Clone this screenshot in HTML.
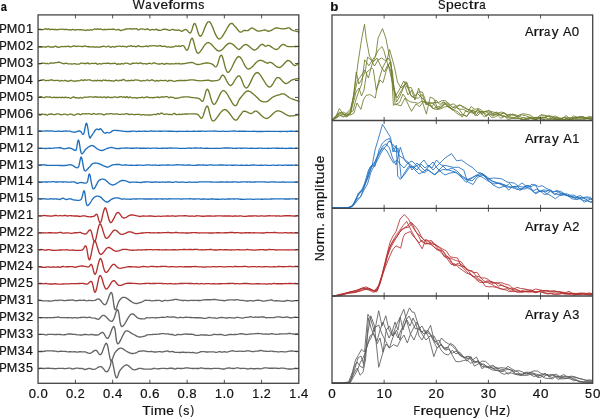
<!DOCTYPE html>
<html><head><meta charset="utf-8"><style>
html,body{margin:0;padding:0;background:#fff;width:600px;height:418px;overflow:hidden;}
svg{display:block;font-family:"Liberation Sans",sans-serif;will-change:transform;}
</style></head><body>
<svg width="600" height="418" viewBox="0 0 600 418">
<rect width="600" height="418" fill="#fff"/>
<g fill="none" stroke-width="1.35" stroke-linejoin="round" stroke-linecap="round">
<path stroke="#6f7b2b" d="M38.8 29.2 L39.4 29.2 L40.2 29.3 L40.9 29.4 L41.6 29.6 L42.3 29.6 L43.0 29.5 L43.7 29.3 L44.4 29.2 L45.1 28.8 L45.8 28.7 L46.5 29.1 L47.2 29.5 L47.9 29.1 L48.6 28.8 L49.3 29.2 L50.0 29.7 L50.7 29.5 L51.4 29.3 L52.1 29.2 L52.8 29.3 L53.5 29.5 L54.2 29.7 L54.9 29.5 L55.6 29.3 L56.3 29.6 L57.0 29.9 L57.7 29.7 L58.4 29.5 L59.1 29.4 L59.8 29.4 L60.5 29.3 L61.2 29.2 L61.9 29.1 L62.6 29.1 L63.3 29.3 L64.0 29.5 L64.7 29.5 L65.4 29.5 L66.1 29.4 L66.8 29.3 L67.5 29.6 L68.2 29.9 L68.9 29.8 L69.6 29.6 L70.3 29.8 L71.0 30.0 L71.7 29.8 L72.4 29.5 L73.1 29.5 L73.8 29.6 L74.5 29.9 L75.2 30.2 L75.9 29.9 L76.6 29.7 L77.3 29.6 L78.0 29.6 L78.7 29.6 L79.4 29.7 L80.1 29.7 L80.8 29.7 L81.5 29.9 L82.2 30.0 L82.9 29.9 L83.6 29.9 L84.3 30.2 L85.0 30.5 L85.7 30.4 L86.4 30.2 L87.1 30.0 L87.8 29.9 L88.5 30.1 L89.2 30.3 L89.9 30.0 L90.6 29.7 L91.3 29.9 L92.0 30.0 L92.7 29.8 L93.4 29.5 L94.1 29.2 L94.8 29.0 L95.5 29.2 L96.2 29.4 L96.9 29.1 L97.6 28.8 L98.3 29.1 L99.0 29.5 L99.7 29.2 L100.4 28.9 L101.1 29.2 L101.8 29.5 L102.5 29.7 L103.2 29.8 L103.9 29.5 L104.6 29.3 L105.3 29.5 L106.0 29.7 L106.7 29.6 L107.4 29.3 L108.1 29.3 L108.8 29.2 L109.5 29.3 L110.2 29.4 L110.9 29.3 L111.6 29.3 L112.3 29.2 L113.0 29.2 L113.7 29.2 L114.4 29.3 L115.1 29.6 L115.8 29.8 L116.5 29.8 L117.2 29.8 L117.9 29.5 L118.6 29.3 L119.3 29.8 L120.0 30.3 L120.7 30.5 L121.4 30.5 L122.1 30.2 L122.8 29.9 L123.5 29.9 L124.2 29.8 L124.9 29.4 L125.6 29.0 L126.3 28.9 L127.0 29.0 L127.7 28.9 L128.4 28.8 L129.1 28.8 L129.8 28.7 L130.5 28.7 L131.2 28.8 L131.9 29.0 L132.6 29.2 L133.3 29.0 L134.0 28.7 L134.7 28.8 L135.4 28.9 L136.1 28.7 L136.8 28.7 L137.5 29.3 L138.2 29.9 L138.9 29.8 L139.6 29.4 L140.3 29.1 L141.0 28.9 L141.7 28.9 L142.4 29.0 L143.1 29.1 L143.8 29.2 L144.5 29.5 L145.2 29.7 L145.9 29.4 L146.6 29.0 L147.3 28.9 L148.0 29.0 L148.7 29.5 L149.4 30.0 L150.1 30.1 L150.8 30.0 L151.5 29.7 L152.2 29.5 L152.9 29.6 L153.6 29.7 L154.3 29.8 L155.0 29.8 L155.7 29.4 L156.4 29.2 L157.1 29.6 L157.8 30.2 L158.5 30.2 L159.2 30.2 L159.9 30.3 L160.6 30.3 L161.3 30.1 L162.0 29.8 L162.7 29.5 L163.4 29.2 L164.1 29.2 L164.8 29.2 L165.5 29.4 L166.2 29.5 L166.9 29.5 L167.6 29.6 L168.3 30.1 L169.0 30.4 L169.7 30.3 L170.4 30.0 L171.1 29.8 L171.8 29.6 L172.5 29.4 L173.2 29.4 L173.9 29.8 L174.6 30.2 L175.3 30.1 L176.0 29.9 L176.7 30.1 L177.4 30.3 L178.2 30.1 L178.8 29.8 L180.0 30.5 L180.1 30.6 L180.3 30.7 L180.5 30.8 L180.8 31.0 L181.0 31.1 L181.3 31.2 L181.6 31.2 L182.0 31.2 L182.4 31.1 L182.8 30.8 L183.3 30.5 L183.8 30.2 L184.4 29.9 L184.9 29.6 L185.5 29.5 L186.0 29.5 L186.5 29.8 L187.1 30.3 L187.7 30.9 L188.2 31.6 L188.8 32.3 L189.4 32.7 L189.9 33.0 L190.5 32.8 L191.0 32.1 L191.6 30.8 L192.1 29.3 L192.6 27.6 L193.1 25.9 L193.6 24.6 L194.2 23.7 L194.8 23.5 L195.4 24.2 L196.1 25.8 L196.7 27.9 L197.4 30.2 L198.1 32.6 L198.8 34.5 L199.6 35.9 L200.5 36.3 L201.4 35.5 L202.4 33.8 L203.4 31.4 L204.5 28.6 L205.6 25.9 L206.7 23.6 L207.8 22.0 L209.0 21.5 L210.2 22.4 L211.4 24.4 L212.6 27.1 L213.8 30.3 L215.1 33.4 L216.4 36.2 L217.7 38.1 L219.0 39.0 L220.4 38.6 L221.8 37.1 L223.3 35.0 L224.8 32.4 L226.3 29.8 L227.6 27.3 L228.9 25.3 L230.0 24.0 L230.9 23.5 L231.7 23.3 L232.3 23.5 L232.9 24.0 L233.4 24.6 L233.9 25.3 L234.4 25.9 L235.0 26.5 L235.6 27.1 L236.3 27.8 L236.9 28.7 L237.6 29.5 L238.2 30.3 L238.8 31.0 L239.4 31.6 L240.0 32.0 L240.5 32.1 L241.1 32.1 L241.6 31.9 L242.1 31.6 L242.5 31.3 L243.0 30.9 L243.5 30.7 L244.0 30.5 L244.5 30.4 L245.0 30.5 L245.5 30.5 L246.0 30.6 L246.5 30.6 L247.0 30.6 L247.5 30.6 L248.0 30.5 L248.5 30.3 L249.0 29.9 L249.4 29.5 L249.9 29.1 L250.4 28.6 L250.9 28.3 L251.4 28.1 L252.0 28.0 L252.6 28.1 L253.3 28.5 L254.1 28.9 L254.8 29.4 L255.6 29.9 L256.4 30.4 L257.2 30.8 L258.0 31.0 L258.9 31.1 L259.8 31.0 L260.7 30.8 L261.7 30.6 L262.6 30.4 L263.5 30.2 L264.3 30.0 L265.0 30.0 L265.6 30.1 L266.0 30.2 L266.4 30.4 L266.8 30.6 L267.1 30.8 L267.3 31.0 L267.7 31.1 L268.0 31.2 L268.4 31.2 L268.7 31.2 L269.0 31.2 L269.4 31.1 L269.7 31.0 L270.1 30.8 L270.5 30.7 L271.0 30.5 L271.5 30.3 L272.1 29.9 L272.7 29.5 L273.3 29.2 L274.0 28.8 L274.6 28.4 L275.3 28.2 L276.0 28.0 L276.7 27.9 L277.5 28.0 L278.3 28.1 L279.1 28.3 L279.9 28.4 L280.6 28.6 L281.3 28.7 L282.0 28.8 L282.6 28.8 L283.2 28.8 L283.7 28.8 L284.2 28.7 L284.7 28.7 L285.1 28.6 L285.6 28.6 L286.0 28.5 L286.4 28.4 L286.8 28.3 L287.2 28.1 L287.6 28.0 L287.9 27.9 L288.3 27.8 L288.6 27.8 L289.0 27.8 L289.3 27.9 L289.7 28.2 L290.0 28.4 L290.3 28.7 L290.6 29.1 L291.0 29.4 L291.4 29.7 L292.0 30.0 L292.7 30.3 L293.6 30.6 L294.6 30.9 L295.6 31.1 L296.6 31.4 L297.5 31.6 L298.2 31.8 L298.8 32.0"/>
<path stroke="#6f7b2b" d="M38.8 47.2 L39.4 47.1 L40.2 47.0 L40.9 47.0 L41.6 47.0 L42.3 47.0 L43.0 46.9 L43.7 46.8 L44.4 46.8 L45.1 47.0 L45.8 47.2 L46.5 46.9 L47.2 46.6 L47.9 46.3 L48.6 46.3 L49.3 46.7 L50.0 47.2 L50.7 47.1 L51.4 46.9 L52.1 47.0 L52.8 47.0 L53.5 47.0 L54.2 46.8 L54.9 46.3 L55.6 46.0 L56.3 46.4 L57.0 47.0 L57.7 47.2 L58.4 47.2 L59.1 47.2 L59.8 47.1 L60.5 46.8 L61.2 46.6 L61.9 46.5 L62.6 46.5 L63.3 46.6 L64.0 46.6 L64.7 46.5 L65.4 46.3 L66.1 46.5 L66.8 46.6 L67.5 46.4 L68.2 46.2 L68.9 46.4 L69.6 46.8 L70.3 46.8 L71.0 46.8 L71.7 46.6 L72.4 46.4 L73.1 46.2 L73.8 46.0 L74.5 46.0 L75.2 46.2 L75.9 46.4 L76.6 46.5 L77.3 46.3 L78.0 46.1 L78.7 46.2 L79.4 46.4 L80.1 46.3 L80.8 46.3 L81.5 46.5 L82.2 46.7 L82.9 46.5 L83.6 46.3 L84.3 46.0 L85.0 45.9 L85.7 46.1 L86.4 46.4 L87.1 46.6 L87.8 46.7 L88.5 46.7 L89.2 46.7 L89.9 46.7 L90.6 46.8 L91.3 46.9 L92.0 47.0 L92.7 46.8 L93.4 46.7 L94.1 46.9 L94.8 47.1 L95.5 47.2 L96.2 47.2 L96.9 46.9 L97.6 46.8 L98.3 47.1 L99.0 47.4 L99.7 47.1 L100.4 46.8 L101.1 46.7 L101.8 46.7 L102.5 46.5 L103.2 46.2 L103.9 46.3 L104.6 46.4 L105.3 46.7 L106.0 46.9 L106.7 46.8 L107.4 46.5 L108.1 46.2 L108.8 46.1 L109.5 46.7 L110.2 47.2 L110.9 47.2 L111.6 47.0 L112.3 46.7 L113.0 46.5 L113.7 46.8 L114.4 47.2 L115.1 46.9 L115.8 46.5 L116.5 46.5 L117.2 46.4 L117.9 46.3 L118.6 46.2 L119.3 46.1 L120.0 46.1 L120.7 46.4 L121.4 46.6 L122.1 46.4 L122.8 46.2 L123.5 46.3 L124.2 46.5 L124.9 46.6 L125.6 46.7 L126.3 46.9 L127.0 47.0 L127.7 46.5 L128.4 46.1 L129.1 46.2 L129.8 46.4 L130.5 46.0 L131.2 45.7 L131.9 46.1 L132.6 46.5 L133.3 46.4 L134.0 46.2 L134.7 46.4 L135.4 46.7 L136.1 46.7 L136.8 46.6 L137.5 46.1 L138.2 45.7 L138.9 45.9 L139.6 46.3 L140.3 46.5 L141.0 46.6 L141.7 46.7 L142.4 46.6 L143.1 46.6 L143.8 46.5 L144.5 46.4 L145.2 46.3 L145.9 46.1 L146.6 45.9 L147.3 46.3 L148.0 46.7 L148.7 46.3 L149.4 45.8 L150.1 45.9 L150.8 46.0 L151.5 45.9 L152.2 45.8 L152.9 45.7 L153.6 45.6 L154.3 45.7 L155.0 45.8 L155.7 45.9 L156.4 46.0 L157.1 46.1 L157.8 46.0 L158.5 45.9 L159.2 45.8 L159.9 45.7 L160.6 45.7 L161.3 46.1 L162.0 46.5 L162.7 46.4 L163.4 46.3 L164.1 46.2 L164.8 46.2 L165.5 46.5 L166.2 46.7 L166.9 47.0 L167.6 47.1 L168.3 46.9 L169.0 46.7 L169.7 47.0 L170.4 47.3 L171.1 47.2 L171.8 47.0 L172.5 47.0 L173.2 46.9 L173.9 46.8 L174.6 46.5 L175.3 46.2 L176.0 46.0 L176.7 46.2 L177.4 46.4 L178.2 46.1 L178.8 45.8 L180.0 46.5 L180.3 46.4 L180.6 46.3 L181.0 46.1 L181.5 45.9 L182.0 45.7 L182.5 45.6 L183.0 45.7 L183.5 45.8 L184.0 46.2 L184.4 46.9 L184.9 47.7 L185.4 48.6 L185.9 49.4 L186.4 50.0 L187.0 50.2 L187.5 50.0 L188.0 49.1 L188.6 47.5 L189.2 45.6 L189.8 43.4 L190.3 41.4 L190.9 39.6 L191.6 38.5 L192.2 38.2 L192.8 39.0 L193.4 40.7 L194.0 43.0 L194.7 45.6 L195.3 48.3 L196.1 50.6 L196.9 52.4 L197.8 53.2 L198.8 53.0 L200.0 51.9 L201.3 50.2 L202.6 48.3 L203.9 46.2 L205.3 44.4 L206.7 43.1 L208.0 42.5 L209.3 42.8 L210.7 43.7 L212.1 45.0 L213.5 46.6 L214.9 48.2 L216.3 49.6 L217.6 50.6 L219.0 51.0 L220.4 50.7 L221.7 49.9 L223.1 48.7 L224.4 47.3 L225.7 45.8 L227.0 44.6 L228.3 43.6 L229.5 43.2 L230.7 43.3 L231.9 43.8 L233.1 44.6 L234.3 45.6 L235.4 46.7 L236.4 47.7 L237.3 48.5 L238.0 49.0 L238.5 49.3 L238.9 49.5 L239.1 49.5 L239.2 49.5 L239.2 49.4 L239.4 49.3 L239.6 49.1 L240.0 48.8 L240.5 48.4 L241.2 47.8 L241.8 47.1 L242.6 46.3 L243.4 45.6 L244.2 45.0 L245.1 44.6 L246.0 44.5 L247.0 44.8 L248.0 45.4 L249.1 46.3 L250.2 47.3 L251.3 48.3 L252.4 49.2 L253.5 49.8 L254.5 50.0 L255.5 49.8 L256.4 49.2 L257.4 48.4 L258.3 47.5 L259.2 46.5 L260.0 45.6 L260.8 44.9 L261.5 44.5 L262.1 44.4 L262.7 44.5 L263.2 44.7 L263.7 45.0 L264.2 45.4 L264.6 45.8 L265.0 46.1 L265.5 46.2 L265.9 46.2 L266.3 46.1 L266.7 45.9 L267.0 45.7 L267.4 45.5 L267.9 45.4 L268.4 45.4 L269.0 45.5 L269.8 45.8 L270.6 46.4 L271.6 47.1 L272.6 47.8 L273.6 48.5 L274.6 49.0 L275.6 49.4 L276.5 49.5 L277.3 49.3 L278.1 48.7 L278.9 48.0 L279.6 47.1 L280.4 46.3 L281.1 45.5 L281.8 44.9 L282.5 44.5 L283.2 44.4 L283.9 44.6 L284.5 44.8 L285.2 45.2 L285.8 45.6 L286.5 46.0 L287.2 46.3 L288.0 46.5 L288.8 46.6 L289.7 46.6 L290.7 46.7 L291.6 46.6 L292.5 46.6 L293.4 46.6 L294.3 46.5 L295.0 46.5 L295.7 46.5 L296.3 46.4 L296.8 46.4 L297.3 46.4 L297.8 46.3 L298.2 46.3 L298.5 46.2 L298.8 46.2"/>
<path stroke="#6f7b2b" d="M38.8 63.7 L39.4 63.7 L40.2 63.8 L40.9 63.5 L41.6 63.2 L42.3 63.2 L43.0 63.3 L43.7 63.2 L44.4 63.1 L45.1 63.3 L45.8 63.6 L46.5 63.6 L47.2 63.5 L47.9 63.7 L48.6 63.8 L49.3 63.5 L50.0 63.1 L50.7 63.0 L51.4 62.9 L52.1 63.0 L52.8 63.1 L53.5 63.1 L54.2 63.0 L54.9 62.8 L55.6 62.6 L56.3 62.6 L57.0 62.6 L57.7 62.4 L58.4 62.2 L59.1 62.2 L59.8 62.4 L60.5 62.7 L61.2 62.9 L61.9 63.2 L62.6 63.4 L63.3 63.6 L64.0 63.8 L64.7 63.5 L65.4 63.2 L66.1 63.2 L66.8 63.3 L67.5 63.7 L68.2 63.9 L68.9 63.9 L69.6 63.8 L70.3 63.8 L71.0 63.9 L71.7 64.0 L72.4 64.1 L73.1 63.9 L73.8 63.6 L74.5 63.7 L75.2 63.9 L75.9 64.0 L76.6 64.1 L77.3 64.1 L78.0 64.2 L78.7 64.1 L79.4 64.0 L80.1 63.6 L80.8 63.1 L81.5 63.1 L82.2 63.2 L82.9 63.4 L83.6 63.5 L84.3 63.5 L85.0 63.4 L85.7 63.5 L86.4 63.6 L87.1 63.2 L87.8 62.9 L88.5 63.4 L89.2 63.9 L89.9 63.9 L90.6 63.7 L91.3 63.4 L92.0 63.3 L92.7 63.4 L93.4 63.6 L94.1 63.4 L94.8 63.3 L95.5 63.2 L96.2 63.4 L96.9 63.9 L97.6 64.3 L98.3 64.0 L99.0 63.6 L99.7 63.7 L100.4 63.9 L101.1 64.0 L101.8 63.9 L102.5 63.7 L103.2 63.4 L103.9 63.3 L104.6 63.3 L105.3 63.4 L106.0 63.5 L106.7 63.4 L107.4 63.2 L108.1 63.2 L108.8 63.2 L109.5 63.5 L110.2 63.8 L110.9 63.6 L111.6 63.5 L112.3 63.5 L113.0 63.6 L113.7 63.4 L114.4 63.2 L115.1 63.3 L115.8 63.5 L116.5 64.1 L117.2 64.5 L117.9 64.1 L118.6 63.6 L119.3 64.0 L120.0 64.3 L120.7 63.9 L121.4 63.5 L122.1 63.7 L122.8 64.0 L123.5 63.8 L124.2 63.5 L124.9 63.3 L125.6 63.2 L126.3 63.1 L127.0 63.2 L127.7 63.4 L128.4 63.7 L129.1 64.0 L129.8 64.1 L130.5 64.2 L131.2 64.1 L131.9 63.6 L132.6 63.2 L133.3 63.2 L134.0 63.3 L134.7 63.3 L135.4 63.2 L136.1 63.1 L136.8 63.0 L137.5 63.3 L138.2 63.5 L138.9 63.4 L139.6 63.2 L140.3 63.0 L141.0 62.9 L141.7 63.3 L142.4 63.8 L143.1 63.8 L143.8 63.6 L144.5 63.6 L145.2 63.6 L145.9 63.8 L146.6 64.0 L147.3 64.0 L148.0 63.7 L148.7 63.4 L149.4 63.2 L150.1 63.4 L150.8 63.7 L151.5 63.8 L152.2 63.7 L152.9 63.3 L153.6 62.9 L154.3 62.9 L155.0 63.0 L155.7 63.3 L156.4 63.7 L157.1 63.8 L157.8 63.9 L158.5 64.0 L159.2 64.0 L159.9 64.0 L160.6 63.9 L161.3 63.7 L162.0 63.5 L162.7 63.7 L163.4 64.0 L164.1 64.2 L164.8 64.2 L165.5 63.8 L166.2 63.4 L166.9 63.5 L167.6 63.7 L168.3 63.7 L169.0 63.8 L169.7 63.9 L170.4 64.0 L171.1 63.9 L171.8 63.7 L172.5 63.8 L173.2 63.8 L173.9 63.8 L174.6 63.8 L175.3 63.5 L176.0 63.3 L176.7 63.6 L177.4 63.9 L178.2 63.6 L178.8 63.2 L180.0 64.0 L180.4 64.0 L180.9 63.9 L181.4 63.9 L182.1 63.8 L182.8 63.7 L183.5 63.7 L184.2 63.6 L185.0 63.5 L185.8 63.4 L186.6 63.2 L187.5 63.0 L188.5 62.8 L189.4 62.7 L190.3 62.6 L191.2 62.5 L192.0 62.5 L192.7 62.6 L193.4 62.9 L194.0 63.2 L194.7 63.5 L195.3 63.9 L195.9 64.2 L196.7 64.4 L197.5 64.5 L198.4 64.5 L199.5 64.3 L200.6 64.1 L201.7 63.8 L202.9 63.5 L204.0 63.3 L205.0 63.1 L206.0 63.0 L206.9 63.0 L207.7 63.0 L208.5 63.1 L209.2 63.2 L210.0 63.4 L210.7 63.6 L211.3 63.8 L212.0 64.0 L212.6 64.3 L213.2 64.8 L213.8 65.4 L214.3 66.0 L214.8 66.5 L215.4 66.8 L215.9 66.8 L216.5 66.5 L217.1 65.6 L217.7 64.0 L218.3 62.0 L218.9 59.9 L219.5 57.9 L220.1 56.3 L220.8 55.3 L221.5 55.2 L222.2 56.2 L222.9 58.3 L223.7 61.1 L224.4 64.1 L225.2 67.2 L226.1 69.8 L227.0 71.7 L228.0 72.5 L229.1 71.9 L230.4 70.2 L231.7 67.7 L233.1 64.8 L234.5 61.9 L235.9 59.3 L237.2 57.4 L238.5 56.5 L239.7 56.8 L240.9 58.1 L242.1 60.0 L243.2 62.3 L244.4 64.6 L245.5 66.7 L246.7 68.2 L248.0 69.0 L249.3 68.9 L250.7 68.1 L252.1 66.9 L253.6 65.4 L255.0 63.8 L256.4 62.3 L257.8 61.2 L259.0 60.5 L260.2 60.3 L261.3 60.4 L262.4 60.8 L263.4 61.2 L264.4 61.8 L265.4 62.3 L266.2 62.8 L267.0 63.0 L267.7 63.0 L268.2 63.0 L268.6 62.8 L269.0 62.6 L269.3 62.4 L269.8 62.3 L270.3 62.3 L271.0 62.5 L271.8 62.9 L272.8 63.6 L273.9 64.5 L275.0 65.4 L276.1 66.3 L277.3 67.0 L278.4 67.4 L279.5 67.5 L280.6 67.1 L281.7 66.3 L282.8 65.2 L283.9 64.0 L285.0 62.8 L286.0 61.7 L287.0 60.9 L288.0 60.5 L288.9 60.6 L289.8 61.1 L290.7 61.8 L291.5 62.7 L292.3 63.6 L293.1 64.5 L293.8 65.2 L294.5 65.5 L295.2 65.5 L295.8 65.3 L296.5 65.0 L297.1 64.6 L297.6 64.1 L298.1 63.6 L298.5 63.2 L298.8 63.0"/>
<path stroke="#6f7b2b" d="M38.8 81.2 L39.4 80.8 L40.2 80.3 L40.9 80.1 L41.6 80.0 L42.3 80.0 L43.0 79.9 L43.7 79.9 L44.4 80.0 L45.1 80.4 L45.8 80.7 L46.5 80.6 L47.2 80.4 L47.9 80.4 L48.6 80.5 L49.3 80.4 L50.0 80.2 L50.7 80.0 L51.4 79.9 L52.1 80.0 L52.8 80.1 L53.5 80.4 L54.2 80.6 L54.9 80.6 L55.6 80.4 L56.3 80.3 L57.0 80.3 L57.7 80.3 L58.4 80.4 L59.1 80.8 L59.8 81.1 L60.5 80.8 L61.2 80.4 L61.9 80.6 L62.6 80.8 L63.3 80.8 L64.0 80.7 L64.7 80.5 L65.4 80.3 L66.1 80.6 L66.8 81.1 L67.5 81.2 L68.2 81.2 L68.9 81.0 L69.6 80.8 L70.3 80.5 L71.0 80.3 L71.7 80.5 L72.4 80.8 L73.1 81.0 L73.8 81.1 L74.5 81.2 L75.2 81.2 L75.9 81.0 L76.6 80.8 L77.3 80.8 L78.0 80.7 L78.7 80.8 L79.4 80.7 L80.1 80.5 L80.8 80.2 L81.5 80.0 L82.2 80.0 L82.9 80.3 L83.6 80.6 L84.3 80.1 L85.0 79.7 L85.7 80.0 L86.4 80.3 L87.1 80.2 L87.8 79.9 L88.5 79.8 L89.2 79.8 L89.9 80.0 L90.6 80.2 L91.3 80.5 L92.0 80.7 L92.7 80.8 L93.4 80.8 L94.1 80.5 L94.8 80.3 L95.5 80.7 L96.2 81.0 L96.9 80.6 L97.6 80.2 L98.3 80.5 L99.0 80.8 L99.7 80.5 L100.4 80.3 L101.1 80.7 L101.8 81.1 L102.5 80.5 L103.2 80.0 L103.9 80.1 L104.6 80.3 L105.3 80.2 L106.0 80.2 L106.7 80.6 L107.4 80.9 L108.1 80.6 L108.8 80.3 L109.5 80.5 L110.2 80.7 L110.9 80.7 L111.6 80.7 L112.3 80.9 L113.0 81.0 L113.7 81.1 L114.4 81.0 L115.1 80.6 L115.8 80.2 L116.5 80.2 L117.2 80.3 L117.9 80.7 L118.6 80.9 L119.3 80.6 L120.0 80.2 L120.7 80.4 L121.4 80.6 L122.1 80.1 L122.8 79.6 L123.5 79.5 L124.2 79.7 L124.9 80.2 L125.6 80.6 L126.3 80.8 L127.0 80.9 L127.7 80.7 L128.4 80.5 L129.1 80.7 L129.8 80.9 L130.5 80.5 L131.2 80.1 L131.9 80.3 L132.6 80.6 L133.3 80.5 L134.0 80.4 L134.7 80.1 L135.4 79.9 L136.1 79.9 L136.8 80.1 L137.5 80.1 L138.2 80.2 L138.9 80.3 L139.6 80.5 L140.3 80.8 L141.0 81.0 L141.7 80.9 L142.4 80.8 L143.1 80.6 L143.8 80.5 L144.5 80.7 L145.2 80.8 L145.9 80.5 L146.6 80.1 L147.3 80.0 L148.0 80.1 L148.7 80.5 L149.4 80.8 L150.1 80.5 L150.8 80.2 L151.5 80.0 L152.2 79.9 L152.9 80.1 L153.6 80.4 L154.3 80.8 L155.0 81.1 L155.7 80.8 L156.4 80.4 L157.1 80.6 L157.8 81.0 L158.5 81.0 L159.2 80.8 L159.9 80.5 L160.6 80.3 L161.3 80.3 L162.0 80.5 L162.7 80.6 L163.4 80.6 L164.1 80.5 L164.8 80.3 L165.5 80.3 L166.2 80.5 L166.9 81.0 L167.6 81.3 L168.3 80.9 L169.0 80.4 L169.7 80.5 L170.4 80.6 L171.1 80.5 L171.8 80.5 L172.5 80.8 L173.2 81.2 L173.9 81.3 L174.6 81.3 L175.3 81.1 L176.0 80.8 L176.7 80.7 L177.4 80.7 L178.2 80.6 L178.8 80.5 L180.0 80.5 L180.5 80.5 L181.1 80.5 L181.8 80.5 L182.6 80.5 L183.5 80.6 L184.4 80.5 L185.2 80.5 L186.0 80.5 L186.7 80.4 L187.5 80.3 L188.2 80.2 L188.9 80.1 L189.6 80.0 L190.4 79.9 L191.2 79.8 L192.0 79.8 L192.9 79.9 L193.9 80.0 L194.9 80.1 L195.9 80.3 L196.9 80.5 L198.0 80.6 L199.0 80.7 L200.0 80.8 L201.0 80.8 L202.1 80.7 L203.2 80.6 L204.2 80.5 L205.3 80.4 L206.3 80.3 L207.2 80.2 L208.0 80.2 L208.7 80.2 L209.2 80.3 L209.7 80.5 L210.1 80.6 L210.5 80.8 L210.9 80.9 L211.4 81.0 L212.0 81.0 L212.8 81.0 L213.6 80.9 L214.5 80.8 L215.5 80.7 L216.4 80.6 L217.4 80.4 L218.2 80.1 L219.0 79.8 L219.6 79.3 L220.2 78.5 L220.6 77.7 L221.1 76.8 L221.5 76.0 L222.0 75.4 L222.5 75.1 L223.2 75.2 L224.0 75.9 L224.8 77.2 L225.7 78.9 L226.6 80.7 L227.5 82.4 L228.5 84.0 L229.5 85.1 L230.5 85.5 L231.5 85.1 L232.6 84.0 L233.6 82.4 L234.7 80.5 L235.8 78.7 L236.9 77.2 L238.0 76.1 L239.0 75.8 L240.0 76.5 L240.9 78.0 L241.8 80.0 L242.6 82.3 L243.5 84.5 L244.4 86.4 L245.4 87.7 L246.5 88.0 L247.7 87.2 L248.9 85.4 L250.2 82.9 L251.5 80.1 L252.8 77.3 L254.2 74.9 L255.6 73.2 L257.0 72.5 L258.5 73.0 L260.0 74.6 L261.5 76.8 L263.1 79.4 L264.7 82.0 L266.2 84.4 L267.7 86.1 L269.0 87.0 L270.2 86.9 L271.4 85.9 L272.5 84.5 L273.5 82.8 L274.5 81.0 L275.5 79.3 L276.5 78.1 L277.5 77.5 L278.5 77.6 L279.6 78.1 L280.6 79.0 L281.6 80.1 L282.6 81.3 L283.6 82.3 L284.6 83.1 L285.5 83.5 L286.4 83.5 L287.2 83.2 L288.0 82.8 L288.8 82.2 L289.6 81.6 L290.4 81.0 L291.2 80.4 L292.0 80.0 L292.9 79.7 L293.8 79.4 L294.8 79.2 L295.8 79.0 L296.7 78.9 L297.6 78.7 L298.3 78.6 L298.8 78.5"/>
<path stroke="#6f7b2b" d="M38.8 97.5 L39.4 97.1 L40.2 96.7 L40.9 96.7 L41.6 97.0 L42.3 97.2 L43.0 97.4 L43.7 97.6 L44.4 97.7 L45.1 97.2 L45.8 96.7 L46.5 96.8 L47.2 96.9 L47.9 97.1 L48.6 97.1 L49.3 97.0 L50.0 97.0 L50.7 97.1 L51.4 97.4 L52.1 97.6 L52.8 97.7 L53.5 97.4 L54.2 97.1 L54.9 97.3 L55.6 97.5 L56.3 97.5 L57.0 97.5 L57.7 97.5 L58.4 97.5 L59.1 97.3 L59.8 97.3 L60.5 97.5 L61.2 97.7 L61.9 97.4 L62.6 97.2 L63.3 97.5 L64.0 97.8 L64.7 97.4 L65.4 97.1 L66.1 97.4 L66.8 97.7 L67.5 97.6 L68.2 97.4 L68.9 97.7 L69.6 98.0 L70.3 98.3 L71.0 98.3 L71.7 97.8 L72.4 97.3 L73.1 97.0 L73.8 96.9 L74.5 97.3 L75.2 97.7 L75.9 97.7 L76.6 97.7 L77.3 97.8 L78.0 97.9 L78.7 98.0 L79.4 98.0 L80.1 97.7 L80.8 97.5 L81.5 97.8 L82.2 98.0 L82.9 97.8 L83.6 97.5 L84.3 97.2 L85.0 97.1 L85.7 97.2 L86.4 97.3 L87.1 97.2 L87.8 97.1 L88.5 97.0 L89.2 96.9 L89.9 96.9 L90.6 96.9 L91.3 96.9 L92.0 96.9 L92.7 97.2 L93.4 97.4 L94.1 97.1 L94.8 96.7 L95.5 96.9 L96.2 97.2 L96.9 97.0 L97.6 96.9 L98.3 97.1 L99.0 97.3 L99.7 97.1 L100.4 96.9 L101.1 97.2 L101.8 97.5 L102.5 97.3 L103.2 97.1 L103.9 96.9 L104.6 96.9 L105.3 97.4 L106.0 97.8 L106.7 97.4 L107.4 96.9 L108.1 97.0 L108.8 97.1 L109.5 97.3 L110.2 97.5 L110.9 97.5 L111.6 97.5 L112.3 97.5 L113.0 97.5 L113.7 97.2 L114.4 96.8 L115.1 96.8 L115.8 97.0 L116.5 97.3 L117.2 97.5 L117.9 97.3 L118.6 97.0 L119.3 97.0 L120.0 97.0 L120.7 96.7 L121.4 96.6 L122.1 97.0 L122.8 97.4 L123.5 97.1 L124.2 96.8 L124.9 97.2 L125.6 97.6 L126.3 97.1 L127.0 96.6 L127.7 97.2 L128.4 97.8 L129.1 97.4 L129.8 96.9 L130.5 97.1 L131.2 97.5 L131.9 97.8 L132.6 97.9 L133.3 97.8 L134.0 97.6 L134.7 97.6 L135.4 97.7 L136.1 98.0 L136.8 98.2 L137.5 97.9 L138.2 97.6 L138.9 97.6 L139.6 97.6 L140.3 97.6 L141.0 97.5 L141.7 97.3 L142.4 97.1 L143.1 97.5 L143.8 97.9 L144.5 97.7 L145.2 97.3 L145.9 97.1 L146.6 96.9 L147.3 97.0 L148.0 97.2 L148.7 97.5 L149.4 97.7 L150.1 97.6 L150.8 97.5 L151.5 97.6 L152.2 97.7 L152.9 97.7 L153.6 97.7 L154.3 97.5 L155.0 97.4 L155.7 97.3 L156.4 97.3 L157.1 97.1 L157.8 96.9 L158.5 97.3 L159.2 97.7 L159.9 97.4 L160.6 97.1 L161.3 97.0 L162.0 97.0 L162.7 97.0 L163.4 97.1 L164.1 97.0 L164.8 96.9 L165.5 96.7 L166.2 96.6 L166.9 96.6 L167.6 96.8 L168.3 97.3 L169.0 97.7 L169.7 97.4 L170.4 97.0 L171.1 97.1 L171.8 97.3 L172.5 97.3 L173.2 97.3 L173.9 97.8 L174.6 98.3 L175.3 98.4 L176.0 98.2 L176.7 98.2 L177.4 98.1 L178.2 98.1 L178.8 98.0 L180.0 97.5 L180.5 97.4 L181.1 97.3 L181.8 97.2 L182.6 97.1 L183.5 97.0 L184.4 96.9 L185.2 96.8 L186.0 96.8 L186.7 96.8 L187.5 96.9 L188.2 96.9 L188.9 97.0 L189.7 97.2 L190.4 97.3 L191.2 97.4 L192.0 97.5 L192.8 97.6 L193.8 97.7 L194.7 97.8 L195.6 97.9 L196.6 98.0 L197.4 98.1 L198.3 98.3 L199.0 98.5 L199.6 98.8 L200.2 99.4 L200.7 100.0 L201.2 100.5 L201.6 101.0 L202.0 101.3 L202.5 101.4 L203.0 101.0 L203.5 100.0 L204.0 98.4 L204.6 96.4 L205.1 94.3 L205.6 92.3 L206.2 90.6 L206.8 89.5 L207.5 89.2 L208.2 90.0 L208.9 91.8 L209.7 94.2 L210.4 97.0 L211.3 99.7 L212.1 102.1 L213.0 103.8 L214.0 104.5 L215.0 104.0 L216.1 102.4 L217.3 100.1 L218.5 97.5 L219.7 94.9 L220.9 92.6 L222.2 91.1 L223.5 90.5 L224.8 91.1 L226.3 92.7 L227.8 95.0 L229.2 97.6 L230.7 100.2 L232.1 102.6 L233.4 104.5 L234.5 105.5 L235.4 105.7 L236.2 105.3 L236.9 104.5 L237.5 103.4 L238.0 102.1 L238.6 100.8 L239.3 99.5 L240.0 98.5 L240.8 97.5 L241.7 96.4 L242.7 95.2 L243.6 94.0 L244.6 93.0 L245.6 92.0 L246.5 91.4 L247.5 91.0 L248.4 91.0 L249.4 91.3 L250.4 91.8 L251.3 92.4 L252.3 93.2 L253.2 94.0 L254.1 94.8 L255.0 95.5 L255.8 96.2 L256.6 96.9 L257.4 97.7 L258.1 98.5 L258.8 99.3 L259.5 100.0 L260.3 100.5 L261.0 101.0 L261.8 101.3 L262.5 101.6 L263.2 101.8 L264.0 101.9 L264.8 101.9 L265.5 101.8 L266.2 101.7 L267.0 101.5 L267.8 101.2 L268.5 100.7 L269.2 100.1 L270.0 99.4 L270.8 98.7 L271.5 98.1 L272.2 97.5 L273.0 97.0 L273.8 96.6 L274.5 96.3 L275.3 95.9 L276.1 95.7 L276.8 95.4 L277.6 95.2 L278.3 95.0 L279.0 94.8 L279.7 94.6 L280.3 94.4 L280.9 94.2 L281.5 94.0 L282.1 93.9 L282.7 93.8 L283.3 93.9 L284.0 94.0 L284.7 94.3 L285.4 94.7 L286.1 95.2 L286.8 95.7 L287.5 96.3 L288.3 96.9 L289.1 97.5 L290.0 98.0 L291.0 98.5 L292.2 99.0 L293.5 99.4 L294.8 99.9 L296.0 100.3 L297.2 100.7 L298.1 101.1 L298.8 101.3"/>
<path stroke="#6f7b2b" d="M38.8 114.3 L39.4 114.8 L40.2 115.2 L40.9 114.8 L41.6 114.2 L42.3 114.1 L43.0 114.2 L43.7 114.3 L44.4 114.5 L45.1 114.5 L45.8 114.5 L46.5 114.9 L47.2 115.2 L47.9 114.8 L48.6 114.3 L49.3 114.2 L50.0 114.3 L50.7 114.0 L51.4 113.8 L52.1 114.1 L52.8 114.4 L53.5 114.6 L54.2 114.6 L54.9 114.5 L55.6 114.3 L56.3 114.1 L57.0 113.9 L57.7 113.8 L58.4 113.9 L59.1 114.1 L59.8 114.4 L60.5 114.6 L61.2 114.8 L61.9 114.7 L62.6 114.6 L63.3 114.4 L64.0 114.1 L64.7 114.1 L65.4 114.2 L66.1 114.5 L66.8 114.8 L67.5 114.9 L68.2 114.8 L68.9 114.5 L69.6 114.2 L70.3 114.1 L71.0 114.2 L71.7 114.3 L72.4 114.5 L73.1 114.9 L73.8 115.2 L74.5 115.2 L75.2 114.9 L75.9 114.5 L76.6 114.0 L77.3 113.9 L78.0 113.9 L78.7 114.0 L79.4 114.2 L80.1 114.6 L80.8 114.7 L81.5 114.3 L82.2 113.8 L82.9 113.7 L83.6 113.8 L84.3 113.8 L85.0 113.8 L85.7 113.7 L86.4 113.7 L87.1 113.8 L87.8 113.8 L88.5 113.7 L89.2 113.6 L89.9 113.8 L90.6 114.1 L91.3 114.3 L92.0 114.4 L92.7 113.9 L93.4 113.5 L94.1 113.6 L94.8 113.8 L95.5 114.1 L96.2 114.3 L96.9 114.1 L97.6 113.8 L98.3 113.9 L99.0 114.0 L99.7 113.9 L100.4 113.8 L101.1 113.9 L101.8 114.1 L102.5 114.4 L103.2 114.7 L103.9 114.7 L104.6 114.7 L105.3 114.4 L106.0 114.0 L106.7 113.8 L107.4 113.8 L108.1 113.9 L108.8 114.1 L109.5 113.9 L110.2 113.7 L110.9 113.6 L111.6 113.7 L112.3 113.9 L113.0 114.0 L113.7 114.1 L114.4 114.2 L115.1 114.1 L115.8 113.9 L116.5 113.9 L117.2 114.0 L117.9 114.1 L118.6 114.3 L119.3 114.4 L120.0 114.4 L120.7 114.4 L121.4 114.3 L122.1 114.2 L122.8 114.1 L123.5 114.2 L124.2 114.3 L124.9 114.1 L125.6 113.8 L126.3 113.6 L127.0 113.6 L127.7 113.9 L128.4 114.3 L129.1 114.5 L129.8 114.5 L130.5 114.3 L131.2 114.1 L131.9 114.2 L132.6 114.3 L133.3 114.5 L134.0 114.6 L134.7 114.6 L135.4 114.5 L136.1 114.4 L136.8 114.4 L137.5 114.3 L138.2 114.3 L138.9 114.3 L139.6 114.3 L140.3 114.8 L141.0 115.1 L141.7 114.9 L142.4 114.6 L143.1 114.6 L143.8 114.7 L144.5 114.9 L145.2 115.0 L145.9 114.9 L146.6 114.9 L147.3 115.0 L148.0 115.2 L148.7 115.1 L149.4 114.9 L150.1 115.0 L150.8 115.0 L151.5 114.9 L152.2 114.8 L152.9 114.6 L153.6 114.4 L154.3 114.4 L155.0 114.5 L155.7 114.6 L156.4 114.5 L157.1 113.9 L157.8 113.5 L158.5 113.8 L159.2 114.2 L159.9 113.9 L160.6 113.4 L161.3 113.2 L162.0 113.2 L162.7 113.6 L163.4 114.0 L164.1 114.3 L164.8 114.3 L165.5 114.2 L166.2 114.0 L166.9 114.1 L167.6 114.2 L168.3 114.4 L169.0 114.6 L169.7 114.4 L170.4 114.3 L171.1 114.6 L171.8 114.7 L172.5 114.3 L173.2 113.8 L173.9 113.5 L174.6 113.4 L175.3 113.9 L176.0 114.5 L176.7 114.7 L177.4 114.6 L178.2 114.4 L178.8 114.2 L180.0 114.5 L180.4 114.5 L181.0 114.4 L181.6 114.3 L182.3 114.2 L183.1 114.2 L184.0 114.1 L185.0 114.0 L186.0 114.0 L187.2 114.0 L188.5 113.9 L190.0 113.9 L191.6 113.8 L193.1 113.8 L194.6 113.9 L195.9 114.0 L197.0 114.2 L197.9 114.6 L198.7 115.3 L199.3 116.1 L199.9 116.9 L200.4 117.6 L200.9 118.1 L201.4 118.3 L202.0 118.0 L202.6 117.1 L203.3 115.5 L203.9 113.5 L204.6 111.3 L205.2 109.2 L205.9 107.5 L206.5 106.3 L207.2 106.0 L207.9 106.8 L208.5 108.5 L209.1 110.8 L209.7 113.5 L210.4 116.1 L211.1 118.5 L212.0 120.2 L213.0 121.0 L214.2 120.7 L215.5 119.5 L216.9 117.7 L218.5 115.5 L220.0 113.4 L221.6 111.4 L223.1 110.1 L224.5 109.5 L225.9 109.9 L227.3 110.9 L228.8 112.5 L230.2 114.3 L231.5 116.2 L232.8 117.9 L234.0 119.3 L235.0 120.0 L235.9 120.2 L236.7 119.9 L237.3 119.4 L237.9 118.7 L238.4 117.8 L238.9 117.0 L239.5 116.2 L240.0 115.5 L240.5 114.9 L241.0 114.3 L241.4 113.6 L241.9 112.9 L242.3 112.3 L242.8 111.8 L243.4 111.4 L244.0 111.2 L244.7 111.2 L245.6 111.4 L246.5 111.8 L247.4 112.2 L248.4 112.7 L249.3 113.1 L250.2 113.4 L251.0 113.5 L251.7 113.4 L252.4 113.0 L253.0 112.6 L253.6 112.0 L254.2 111.6 L254.8 111.2 L255.6 111.1 L256.5 111.2 L257.5 111.8 L258.7 112.7 L259.9 113.9 L261.2 115.2 L262.5 116.4 L263.8 117.5 L265.2 118.2 L266.5 118.5 L267.8 118.2 L269.2 117.3 L270.5 116.2 L271.9 114.8 L273.3 113.4 L274.7 112.2 L276.1 111.3 L277.5 110.8 L278.9 110.9 L280.4 111.3 L281.9 112.0 L283.3 112.9 L284.8 113.8 L286.2 114.7 L287.6 115.4 L289.0 115.8 L290.4 116.0 L291.8 115.9 L293.2 115.8 L294.6 115.6 L295.9 115.4 L297.1 115.1 L298.1 114.9 L298.8 114.8"/>
<path stroke="#1f6fbd" d="M38.8 130.9 L39.4 131.0 L40.3 131.0 L41.2 131.1 L42.0 131.1 L42.8 131.2 L43.6 131.1 L44.4 131.1 L45.2 131.0 L46.0 130.9 L46.8 130.9 L47.6 131.0 L48.4 131.1 L49.2 131.0 L50.0 130.9 L50.8 130.9 L51.6 131.0 L52.4 131.1 L53.2 131.2 L54.0 131.3 L54.8 131.4 L55.6 131.4 L56.4 131.4 L57.2 131.2 L58.0 131.1 L58.8 131.2 L59.6 131.2 L60.4 131.3 L61.2 131.3 L62.0 131.3 L62.8 131.2 L63.6 131.2 L64.4 131.1 L65.2 131.0 L66.1 131.0 L67.0 131.1 L67.6 131.1 L70.0 131.2 L70.3 131.3 L70.8 131.4 L71.3 131.6 L71.9 131.8 L72.5 131.9 L73.2 132.1 L73.9 132.2 L74.5 132.2 L75.2 132.1 L75.9 132.0 L76.6 131.7 L77.3 131.5 L78.0 131.2 L78.7 131.0 L79.4 131.0 L80.0 131.0 L80.5 131.3 L81.0 131.8 L81.5 132.5 L81.9 133.2 L82.3 133.8 L82.7 134.3 L83.1 134.4 L83.5 134.2 L83.9 133.3 L84.3 131.9 L84.7 130.0 L85.0 128.0 L85.4 126.1 L85.8 124.5 L86.1 123.5 L86.5 123.2 L86.9 123.9 L87.3 125.3 L87.7 127.3 L88.1 129.6 L88.4 132.0 L88.8 134.2 L89.2 136.0 L89.5 137.2 L89.8 137.8 L90.0 138.0 L90.2 138.0 L90.4 137.8 L90.6 137.4 L90.8 136.9 L91.1 136.3 L91.5 135.8 L92.0 135.2 L92.5 134.4 L93.1 133.5 L93.7 132.6 L94.3 131.6 L94.9 130.7 L95.5 130.0 L96.0 129.5 L96.5 129.2 L96.9 129.1 L97.3 129.1 L97.7 129.3 L98.1 129.4 L98.4 129.6 L98.7 129.7 L99.0 129.7 L99.2 129.6 L99.4 129.4 L99.6 129.2 L99.7 129.0 L99.8 128.8 L100.0 128.7 L100.2 128.7 L100.5 128.8 L100.9 129.1 L101.4 129.6 L101.9 130.2 L102.4 130.9 L103.0 131.5 L103.5 132.2 L104.1 132.7 L104.5 133.0 L104.9 133.2 L105.2 133.2 L105.5 133.1 L105.8 133.0 L106.1 132.8 L106.4 132.7 L106.7 132.6 L107.0 132.5 L107.3 132.5 L107.7 132.6 L108.1 132.6 L108.4 132.7 L108.8 132.8 L109.2 132.8 L109.6 132.8 L110.0 132.7 L110.4 132.5 L110.8 132.3 L111.1 131.9 L111.5 131.6 L111.9 131.2 L112.4 130.9 L112.9 130.7 L113.5 130.5 L114.2 130.4 L114.9 130.4 L115.7 130.4 L116.6 130.5 L117.5 130.5 L118.3 130.6 L119.2 130.7 L120.0 130.8 L120.8 130.9 L121.6 131.0 L122.4 131.1 L123.2 131.2 L123.9 131.3 L124.7 131.4 L125.3 131.4 L126.0 131.5 L126.6 131.5 L127.2 131.5 L127.8 131.6 L128.4 131.5 L128.9 131.5 L129.3 131.5 L129.7 131.5 L130.0 131.5 L131.6 131.2 L132.2 131.2 L133.1 131.1 L134.0 131.1 L134.8 131.2 L135.6 131.4 L136.4 131.5 L137.2 131.4 L138.0 131.3 L138.8 131.2 L139.6 131.2 L140.4 131.3 L141.2 131.3 L142.0 131.3 L142.8 131.2 L143.6 131.1 L144.4 131.2 L145.2 131.2 L146.0 131.2 L146.8 131.3 L147.6 131.3 L148.4 131.3 L149.2 131.2 L150.0 131.1 L150.8 131.0 L151.6 131.0 L152.4 131.1 L153.2 131.2 L154.0 131.2 L154.8 131.2 L155.6 131.1 L156.4 131.1 L157.2 131.1 L158.0 131.1 L158.8 131.2 L159.6 131.2 L160.4 131.2 L161.2 131.2 L162.0 131.2 L162.8 131.1 L163.6 131.1 L164.4 131.1 L165.2 131.1 L166.0 131.1 L166.8 131.1 L167.6 131.2 L168.4 131.2 L169.2 131.2 L170.0 131.2 L170.8 131.2 L171.6 131.2 L172.4 131.2 L173.2 131.3 L174.0 131.3 L174.8 131.4 L175.6 131.4 L176.4 131.5 L177.2 131.5 L178.0 131.4 L178.8 131.3 L179.6 131.2 L180.4 131.3 L181.2 131.3 L182.0 131.4 L182.8 131.4 L183.6 131.4 L184.4 131.4 L185.2 131.3 L186.0 131.3 L186.8 131.2 L187.6 131.2 L188.4 131.3 L189.2 131.3 L190.0 131.3 L190.8 131.4 L191.6 131.3 L192.4 131.3 L193.2 131.2 L194.0 131.2 L194.8 131.2 L195.6 131.3 L196.4 131.3 L197.2 131.3 L198.0 131.2 L198.8 131.2 L199.6 131.2 L200.4 131.2 L201.2 131.2 L202.0 131.2 L202.8 131.1 L203.6 131.1 L204.4 131.2 L205.2 131.3 L206.0 131.4 L206.8 131.3 L207.6 131.2 L208.4 131.1 L209.2 131.1 L210.0 131.1 L210.8 131.1 L211.6 131.1 L212.4 131.1 L213.2 131.1 L214.0 131.0 L214.8 131.0 L215.6 131.1 L216.4 131.1 L217.2 131.3 L218.0 131.4 L218.8 131.4 L219.6 131.4 L220.4 131.4 L221.2 131.3 L222.0 131.1 L222.8 131.1 L223.6 131.1 L224.4 131.3 L225.2 131.4 L226.0 131.4 L226.8 131.3 L227.6 131.3 L228.4 131.3 L229.2 131.3 L230.0 131.3 L230.8 131.2 L231.6 131.1 L232.4 131.1 L233.2 131.0 L234.0 131.0 L234.8 131.0 L235.6 131.1 L236.4 131.2 L237.2 131.3 L238.0 131.3 L238.8 131.2 L239.6 131.2 L240.4 131.2 L241.2 131.2 L242.0 131.3 L242.8 131.2 L243.6 131.2 L244.4 131.2 L245.2 131.2 L246.0 131.3 L246.8 131.3 L247.6 131.3 L248.4 131.3 L249.2 131.3 L250.0 131.3 L250.8 131.4 L251.6 131.4 L252.4 131.3 L253.2 131.2 L254.0 131.2 L254.8 131.3 L255.6 131.4 L256.4 131.5 L257.2 131.5 L258.0 131.5 L258.8 131.5 L259.6 131.5 L260.4 131.5 L261.2 131.5 L262.0 131.5 L262.8 131.5 L263.6 131.4 L264.4 131.4 L265.2 131.4 L266.0 131.4 L266.8 131.4 L267.6 131.3 L268.4 131.2 L269.2 131.3 L270.0 131.4 L270.8 131.4 L271.6 131.4 L272.4 131.3 L273.2 131.3 L274.0 131.3 L274.8 131.3 L275.6 131.3 L276.4 131.3 L277.2 131.3 L278.0 131.3 L278.8 131.4 L279.6 131.5 L280.4 131.5 L281.2 131.5 L282.0 131.4 L282.8 131.3 L283.6 131.3 L284.4 131.3 L285.2 131.3 L286.0 131.4 L286.8 131.5 L287.6 131.5 L288.4 131.4 L289.2 131.3 L290.0 131.2 L290.8 131.2 L291.6 131.2 L292.4 131.2 L293.2 131.3 L294.0 131.3 L294.8 131.3 L295.7 131.3 L296.6 131.2 L297.2 131.2"/>
<path stroke="#1f6fbd" d="M38.8 148.3 L39.4 148.3 L40.3 148.3 L41.2 148.3 L42.0 148.3 L42.8 148.3 L43.6 148.4 L44.4 148.4 L45.2 148.5 L46.0 148.5 L46.8 148.4 L47.6 148.3 L48.4 148.3 L49.2 148.2 L50.0 148.2 L50.8 148.3 L51.6 148.3 L52.4 148.3 L53.2 148.2 L54.0 148.1 L54.8 147.9 L55.6 147.8 L56.5 147.8 L57.4 147.8 L58.0 147.9 L60.0 147.5 L60.3 147.6 L60.7 147.8 L61.2 148.0 L61.7 148.2 L62.3 148.4 L62.8 148.6 L63.4 148.7 L64.0 148.8 L64.6 148.8 L65.2 148.7 L65.9 148.6 L66.5 148.4 L67.2 148.3 L67.8 148.1 L68.4 148.0 L69.0 148.0 L69.5 148.0 L70.0 148.1 L70.4 148.2 L70.8 148.4 L71.3 148.5 L71.7 148.7 L72.1 148.9 L72.5 149.0 L72.9 149.2 L73.4 149.5 L73.9 149.9 L74.3 150.2 L74.8 150.4 L75.2 150.5 L75.6 150.4 L76.0 150.0 L76.4 149.1 L76.7 147.7 L77.0 146.0 L77.3 144.2 L77.6 142.5 L77.9 141.1 L78.2 140.2 L78.5 140.0 L78.8 140.7 L79.2 142.1 L79.5 144.1 L79.9 146.4 L80.2 148.7 L80.6 150.8 L81.0 152.5 L81.5 153.5 L82.0 153.8 L82.5 153.6 L83.0 153.1 L83.6 152.3 L84.1 151.4 L84.7 150.5 L85.4 149.6 L86.0 149.0 L86.7 148.5 L87.4 147.9 L88.2 147.3 L88.9 146.8 L89.7 146.3 L90.5 145.9 L91.3 145.6 L92.0 145.5 L92.7 145.6 L93.4 145.9 L94.1 146.4 L94.8 146.9 L95.5 147.5 L96.2 148.1 L96.9 148.6 L97.5 149.0 L98.1 149.3 L98.7 149.6 L99.2 149.9 L99.8 150.1 L100.3 150.3 L100.9 150.4 L101.4 150.5 L102.0 150.5 L102.6 150.4 L103.2 150.2 L103.9 150.0 L104.5 149.7 L105.1 149.3 L105.8 149.0 L106.4 148.7 L107.0 148.5 L107.6 148.3 L108.2 148.1 L108.7 148.0 L109.3 147.8 L109.8 147.7 L110.4 147.6 L110.9 147.5 L111.5 147.5 L112.1 147.5 L112.6 147.6 L113.2 147.8 L113.8 147.9 L114.3 148.1 L114.9 148.3 L115.5 148.4 L116.0 148.5 L116.6 148.5 L117.1 148.6 L117.7 148.6 L118.3 148.6 L118.8 148.5 L119.3 148.5 L119.7 148.5 L120.0 148.5 L121.6 148.1 L122.2 148.1 L123.1 148.1 L124.0 148.2 L124.8 148.1 L125.6 148.0 L126.4 148.0 L127.2 148.0 L128.0 148.1 L128.8 148.1 L129.6 148.2 L130.4 148.2 L131.2 148.2 L132.0 148.2 L132.8 148.2 L133.6 148.2 L134.4 148.2 L135.2 148.1 L136.0 148.0 L136.8 148.0 L137.6 148.1 L138.4 148.1 L139.2 148.2 L140.0 148.2 L140.8 148.2 L141.6 148.2 L142.4 148.2 L143.2 148.2 L144.0 148.2 L144.8 148.2 L145.6 148.3 L146.4 148.2 L147.2 148.2 L148.0 148.1 L148.8 148.2 L149.6 148.3 L150.4 148.3 L151.2 148.3 L152.0 148.2 L152.8 148.1 L153.6 148.1 L154.4 148.1 L155.2 148.1 L156.0 148.1 L156.8 148.2 L157.6 148.2 L158.4 148.3 L159.2 148.3 L160.0 148.3 L160.8 148.3 L161.6 148.2 L162.4 148.2 L163.2 148.2 L164.0 148.2 L164.8 148.1 L165.6 148.2 L166.4 148.2 L167.2 148.2 L168.0 148.2 L168.8 148.1 L169.6 148.0 L170.4 148.0 L171.2 148.0 L172.0 148.1 L172.8 148.1 L173.6 148.1 L174.4 148.1 L175.2 148.1 L176.0 148.1 L176.8 148.1 L177.6 148.2 L178.4 148.3 L179.2 148.4 L180.0 148.4 L180.8 148.3 L181.6 148.3 L182.4 148.3 L183.2 148.3 L184.0 148.4 L184.8 148.3 L185.6 148.3 L186.4 148.3 L187.2 148.2 L188.0 148.1 L188.8 148.0 L189.6 148.1 L190.4 148.2 L191.2 148.2 L192.0 148.2 L192.8 148.1 L193.6 148.1 L194.4 148.0 L195.2 148.0 L196.0 147.9 L196.8 148.0 L197.6 148.1 L198.4 148.1 L199.2 148.1 L200.0 148.0 L200.8 147.9 L201.6 148.0 L202.4 148.2 L203.2 148.3 L204.0 148.3 L204.8 148.3 L205.6 148.2 L206.4 148.2 L207.2 148.2 L208.0 148.2 L208.8 148.3 L209.6 148.3 L210.4 148.3 L211.2 148.4 L212.0 148.4 L212.8 148.4 L213.6 148.3 L214.4 148.3 L215.2 148.3 L216.0 148.2 L216.8 148.3 L217.6 148.3 L218.4 148.3 L219.2 148.3 L220.0 148.3 L220.8 148.3 L221.6 148.2 L222.4 148.1 L223.2 148.1 L224.0 148.0 L224.8 148.0 L225.6 148.0 L226.4 148.0 L227.2 148.0 L228.0 148.0 L228.8 148.0 L229.6 148.0 L230.4 148.1 L231.2 148.1 L232.0 148.2 L232.8 148.2 L233.6 148.3 L234.4 148.3 L235.2 148.3 L236.0 148.2 L236.8 148.2 L237.6 148.2 L238.4 148.1 L239.2 148.1 L240.0 148.2 L240.8 148.2 L241.6 148.3 L242.4 148.2 L243.2 148.2 L244.0 148.1 L244.8 148.1 L245.6 148.1 L246.4 148.1 L247.2 148.2 L248.0 148.3 L248.8 148.3 L249.6 148.3 L250.4 148.2 L251.2 148.2 L252.0 148.2 L252.8 148.3 L253.6 148.4 L254.4 148.4 L255.2 148.4 L256.0 148.3 L256.8 148.3 L257.6 148.2 L258.4 148.2 L259.2 148.1 L260.0 148.1 L260.8 148.1 L261.6 148.2 L262.4 148.3 L263.2 148.4 L264.0 148.4 L264.8 148.4 L265.6 148.4 L266.4 148.3 L267.2 148.3 L268.0 148.2 L268.8 148.2 L269.6 148.3 L270.4 148.3 L271.2 148.3 L272.0 148.2 L272.8 148.1 L273.6 148.1 L274.4 148.1 L275.2 148.2 L276.0 148.2 L276.8 148.2 L277.6 148.2 L278.4 148.2 L279.2 148.2 L280.0 148.3 L280.8 148.3 L281.6 148.2 L282.4 148.2 L283.2 148.3 L284.0 148.4 L284.8 148.4 L285.6 148.5 L286.4 148.4 L287.2 148.4 L288.0 148.3 L288.8 148.2 L289.6 148.2 L290.4 148.2 L291.2 148.2 L292.0 148.2 L292.8 148.3 L293.6 148.3 L294.4 148.3 L295.3 148.3 L296.2 148.2 L296.8 148.2"/>
<path stroke="#1f6fbd" d="M38.8 165.3 L39.4 165.2 L40.3 165.1 L41.2 165.0 L42.0 164.9 L42.8 164.8 L43.6 164.7 L44.4 164.8 L45.2 165.0 L46.0 165.2 L46.8 165.2 L47.6 165.3 L48.4 165.3 L49.2 165.4 L50.0 165.4 L50.8 165.4 L51.6 165.4 L52.4 165.4 L53.2 165.4 L54.0 165.4 L54.8 165.4 L55.6 165.4 L56.5 165.4 L57.4 165.3 L58.0 165.3 L60.0 165.5 L60.4 165.5 L60.9 165.5 L61.5 165.5 L62.1 165.5 L62.8 165.6 L63.6 165.5 L64.3 165.5 L65.0 165.5 L65.7 165.4 L66.4 165.3 L67.1 165.1 L67.9 165.0 L68.6 164.8 L69.4 164.8 L70.2 164.7 L71.0 164.8 L71.9 165.1 L72.8 165.5 L73.7 166.1 L74.7 166.8 L75.6 167.3 L76.5 167.7 L77.3 167.8 L78.0 167.5 L78.6 166.7 L79.1 165.2 L79.5 163.5 L79.8 161.6 L80.2 159.8 L80.5 158.2 L80.8 157.3 L81.2 157.0 L81.6 157.7 L82.0 159.1 L82.4 161.0 L82.8 163.3 L83.2 165.6 L83.6 167.7 L84.0 169.4 L84.5 170.5 L85.0 170.9 L85.6 170.9 L86.1 170.6 L86.7 170.1 L87.3 169.4 L87.9 168.7 L88.5 168.0 L89.0 167.5 L89.5 167.0 L90.0 166.5 L90.5 165.9 L90.9 165.3 L91.4 164.8 L91.9 164.2 L92.4 163.8 L93.0 163.5 L93.6 163.3 L94.2 163.1 L94.8 163.1 L95.5 163.0 L96.2 163.1 L96.9 163.2 L97.7 163.3 L98.5 163.5 L99.4 163.8 L100.5 164.3 L101.6 164.8 L102.7 165.4 L103.9 166.0 L105.0 166.4 L106.0 166.8 L107.0 167.0 L107.9 167.0 L108.7 166.8 L109.4 166.5 L110.1 166.1 L110.8 165.7 L111.5 165.4 L112.2 165.0 L113.0 164.8 L113.9 164.7 L114.8 164.6 L115.9 164.5 L116.9 164.5 L117.8 164.5 L118.7 164.5 L119.5 164.5 L120.0 164.5 L121.6 165.2 L122.2 165.1 L123.1 165.1 L124.0 165.1 L124.8 165.0 L125.6 165.0 L126.4 165.0 L127.2 165.1 L128.0 165.2 L128.8 165.4 L129.6 165.3 L130.4 165.2 L131.2 165.2 L132.0 165.2 L132.8 165.3 L133.6 165.4 L134.4 165.3 L135.2 165.3 L136.0 165.2 L136.8 165.2 L137.6 165.2 L138.4 165.2 L139.2 165.1 L140.0 165.1 L140.8 165.1 L141.6 165.2 L142.4 165.3 L143.2 165.3 L144.0 165.3 L144.8 165.2 L145.6 165.1 L146.4 165.0 L147.2 164.9 L148.0 164.8 L148.8 164.9 L149.6 165.0 L150.4 165.1 L151.2 165.1 L152.0 165.2 L152.8 165.2 L153.6 165.1 L154.4 165.1 L155.2 165.0 L156.0 165.1 L156.8 165.2 L157.6 165.3 L158.4 165.3 L159.2 165.2 L160.0 165.2 L160.8 165.2 L161.6 165.1 L162.4 165.0 L163.2 165.1 L164.0 165.1 L164.8 165.1 L165.6 165.1 L166.4 165.0 L167.2 164.9 L168.0 165.0 L168.8 165.0 L169.6 165.1 L170.4 165.1 L171.2 165.1 L172.0 165.1 L172.8 165.1 L173.6 165.1 L174.4 165.0 L175.2 164.9 L176.0 164.8 L176.8 164.7 L177.6 164.7 L178.4 164.8 L179.2 164.9 L180.0 164.9 L180.8 164.9 L181.6 164.9 L182.4 165.0 L183.2 165.0 L184.0 165.1 L184.8 165.1 L185.6 165.2 L186.4 165.2 L187.2 165.1 L188.0 165.0 L188.8 165.0 L189.6 165.0 L190.4 165.1 L191.2 165.2 L192.0 165.3 L192.8 165.3 L193.6 165.3 L194.4 165.3 L195.2 165.3 L196.0 165.2 L196.8 165.2 L197.6 165.0 L198.4 165.0 L199.2 165.0 L200.0 165.0 L200.8 165.1 L201.6 165.1 L202.4 165.0 L203.2 165.0 L204.0 165.0 L204.8 165.1 L205.6 165.2 L206.4 165.2 L207.2 165.2 L208.0 165.1 L208.8 165.1 L209.6 164.9 L210.4 164.9 L211.2 164.9 L212.0 165.0 L212.8 165.1 L213.6 165.1 L214.4 165.1 L215.2 165.1 L216.0 165.1 L216.8 165.1 L217.6 165.1 L218.4 165.1 L219.2 165.0 L220.0 165.0 L220.8 165.0 L221.6 165.0 L222.4 165.0 L223.2 165.0 L224.0 165.1 L224.8 165.1 L225.6 165.2 L226.4 165.2 L227.2 165.3 L228.0 165.2 L228.8 165.1 L229.6 165.1 L230.4 165.1 L231.2 165.2 L232.0 165.2 L232.8 165.2 L233.6 165.2 L234.4 165.2 L235.2 165.2 L236.0 165.1 L236.8 165.1 L237.6 165.2 L238.4 165.3 L239.2 165.3 L240.0 165.3 L240.8 165.2 L241.6 165.2 L242.4 165.2 L243.2 165.3 L244.0 165.3 L244.8 165.3 L245.6 165.2 L246.4 165.2 L247.2 165.2 L248.0 165.3 L248.8 165.3 L249.6 165.3 L250.4 165.2 L251.2 165.2 L252.0 165.1 L252.8 165.0 L253.6 165.0 L254.4 165.0 L255.2 165.1 L256.0 165.1 L256.8 165.2 L257.6 165.3 L258.4 165.3 L259.2 165.3 L260.0 165.2 L260.8 165.2 L261.6 165.2 L262.4 165.3 L263.2 165.3 L264.0 165.2 L264.8 165.1 L265.6 165.1 L266.4 165.1 L267.2 165.3 L268.0 165.4 L268.8 165.4 L269.6 165.4 L270.4 165.4 L271.2 165.3 L272.0 165.1 L272.8 165.1 L273.6 165.1 L274.4 165.2 L275.2 165.3 L276.0 165.3 L276.8 165.3 L277.6 165.2 L278.4 165.2 L279.2 165.1 L280.0 165.1 L280.8 165.2 L281.6 165.3 L282.4 165.3 L283.2 165.2 L284.0 165.2 L284.8 165.1 L285.6 165.1 L286.4 165.2 L287.2 165.2 L288.0 165.2 L288.8 165.2 L289.6 165.2 L290.4 165.2 L291.2 165.2 L292.0 165.2 L292.8 165.2 L293.6 165.1 L294.4 165.1 L295.3 165.1 L296.2 165.2 L296.8 165.3"/>
<path stroke="#1f6fbd" d="M38.8 182.2 L39.4 182.2 L40.3 182.3 L41.2 182.2 L42.0 182.1 L42.8 182.0 L43.6 181.9 L44.4 181.9 L45.2 182.0 L46.0 182.0 L46.8 182.0 L47.6 182.0 L48.4 181.9 L49.2 181.9 L50.0 181.9 L50.8 181.9 L51.6 181.8 L52.4 181.6 L53.2 181.6 L54.0 181.7 L54.8 181.8 L55.6 182.0 L56.4 182.0 L57.2 182.0 L58.0 182.0 L58.8 181.9 L59.6 181.9 L60.4 181.9 L61.2 181.9 L62.0 182.0 L62.8 182.0 L63.6 182.0 L64.4 181.9 L65.2 181.8 L66.1 181.9 L67.0 182.1 L67.6 182.1 L70.0 182.2 L70.3 182.2 L70.7 182.1 L71.3 182.0 L71.8 181.9 L72.4 181.8 L73.0 181.8 L73.5 181.8 L74.0 181.8 L74.4 181.9 L74.8 182.1 L75.2 182.3 L75.5 182.5 L75.8 182.7 L76.2 183.0 L76.6 183.1 L77.0 183.2 L77.4 183.2 L77.9 183.2 L78.3 183.1 L78.8 182.9 L79.3 182.8 L79.8 182.7 L80.4 182.6 L81.0 182.5 L81.7 182.5 L82.4 182.6 L83.3 182.8 L84.1 183.0 L84.9 183.1 L85.7 183.1 L86.4 182.9 L87.0 182.5 L87.5 181.7 L87.8 180.4 L88.1 178.9 L88.4 177.3 L88.6 175.9 L88.9 174.7 L89.2 174.0 L89.5 174.0 L89.9 174.9 L90.3 176.6 L90.7 178.9 L91.1 181.4 L91.6 183.9 L92.1 186.2 L92.6 187.9 L93.2 188.8 L93.8 188.8 L94.5 188.2 L95.2 187.1 L96.0 185.6 L96.8 184.1 L97.5 182.6 L98.3 181.3 L99.0 180.5 L99.7 180.0 L100.3 179.6 L101.0 179.3 L101.6 179.1 L102.3 179.1 L103.0 179.1 L103.7 179.3 L104.5 179.5 L105.4 179.9 L106.3 180.7 L107.3 181.5 L108.2 182.5 L109.3 183.4 L110.3 184.2 L111.4 184.7 L112.5 185.0 L113.6 184.9 L114.8 184.4 L116.0 183.8 L117.2 183.0 L118.5 182.2 L119.7 181.4 L120.9 180.8 L122.0 180.5 L123.1 180.5 L124.3 180.6 L125.5 180.9 L126.6 181.2 L127.7 181.6 L128.6 182.0 L129.4 182.3 L130.0 182.5 L131.6 182.2 L132.2 182.1 L133.1 182.1 L134.0 182.1 L134.8 182.1 L135.6 182.1 L136.4 182.2 L137.2 182.2 L138.0 182.3 L138.8 182.4 L139.6 182.4 L140.4 182.5 L141.2 182.5 L142.0 182.4 L142.8 182.2 L143.6 182.0 L144.4 182.0 L145.2 182.0 L146.0 182.0 L146.8 181.9 L147.6 181.9 L148.4 181.8 L149.2 181.9 L150.0 182.1 L150.8 182.2 L151.6 182.2 L152.4 182.2 L153.2 182.2 L154.0 182.1 L154.8 182.0 L155.6 182.0 L156.4 182.0 L157.2 182.1 L158.0 182.1 L158.8 182.2 L159.6 182.2 L160.4 182.2 L161.2 182.1 L162.0 182.1 L162.8 182.0 L163.6 182.1 L164.4 182.1 L165.2 182.2 L166.0 182.2 L166.8 182.1 L167.6 182.0 L168.4 182.0 L169.2 181.9 L170.0 182.0 L170.8 182.1 L171.6 182.3 L172.4 182.4 L173.2 182.3 L174.0 182.1 L174.8 181.9 L175.6 181.9 L176.4 181.9 L177.2 182.0 L178.0 182.1 L178.8 182.2 L179.6 182.3 L180.4 182.2 L181.2 182.1 L182.0 182.0 L182.8 182.1 L183.6 182.2 L184.4 182.3 L185.2 182.4 L186.0 182.4 L186.8 182.4 L187.6 182.3 L188.4 182.1 L189.2 182.0 L190.0 182.1 L190.8 182.2 L191.6 182.3 L192.4 182.3 L193.2 182.2 L194.0 182.1 L194.8 182.2 L195.6 182.2 L196.4 182.3 L197.2 182.2 L198.0 182.1 L198.8 182.0 L199.6 181.9 L200.4 181.9 L201.2 181.9 L202.0 181.9 L202.8 181.9 L203.6 181.9 L204.4 181.9 L205.2 181.9 L206.0 181.8 L206.8 181.8 L207.6 181.8 L208.4 181.9 L209.2 181.9 L210.0 181.9 L210.8 182.0 L211.6 182.0 L212.4 182.1 L213.2 182.1 L214.0 182.1 L214.8 182.1 L215.6 182.1 L216.4 182.1 L217.2 182.2 L218.0 182.2 L218.8 182.1 L219.6 182.0 L220.4 181.9 L221.2 182.0 L222.0 182.0 L222.8 182.0 L223.6 182.1 L224.4 182.1 L225.2 182.1 L226.0 182.0 L226.8 182.0 L227.6 182.0 L228.4 182.0 L229.2 182.1 L230.0 182.1 L230.8 182.1 L231.6 182.0 L232.4 182.0 L233.2 182.0 L234.0 181.9 L234.8 181.9 L235.6 181.9 L236.4 182.0 L237.2 182.1 L238.0 182.2 L238.8 182.2 L239.6 182.1 L240.4 182.1 L241.2 182.0 L242.0 181.9 L242.8 181.9 L243.6 181.8 L244.4 181.8 L245.2 181.9 L246.0 181.9 L246.8 182.0 L247.6 182.0 L248.4 181.9 L249.2 181.9 L250.0 182.0 L250.8 182.0 L251.6 182.1 L252.4 182.1 L253.2 182.1 L254.0 182.0 L254.8 182.0 L255.6 182.0 L256.4 181.9 L257.2 181.9 L258.0 181.8 L258.8 181.8 L259.6 181.8 L260.4 181.8 L261.2 181.8 L262.0 181.8 L262.8 181.8 L263.6 181.8 L264.4 181.9 L265.2 182.0 L266.0 182.1 L266.8 182.1 L267.6 182.2 L268.4 182.2 L269.2 182.1 L270.0 182.0 L270.8 181.9 L271.6 181.9 L272.4 181.9 L273.2 181.9 L274.0 182.0 L274.8 182.0 L275.6 182.1 L276.4 182.1 L277.2 182.1 L278.0 182.1 L278.8 182.1 L279.6 182.2 L280.4 182.2 L281.2 182.1 L282.0 182.0 L282.8 182.0 L283.6 182.0 L284.4 182.1 L285.2 182.2 L286.0 182.2 L286.8 182.1 L287.6 182.1 L288.4 182.1 L289.2 182.1 L290.0 182.1 L290.8 182.1 L291.6 182.1 L292.4 182.1 L293.2 182.1 L294.0 182.2 L294.8 182.2 L295.7 182.1 L296.6 182.1 L297.2 182.0"/>
<path stroke="#1f6fbd" d="M38.8 198.6 L39.4 198.7 L40.3 198.8 L41.2 198.9 L42.0 198.9 L42.8 198.7 L43.6 198.7 L44.4 198.8 L45.2 198.9 L46.0 199.0 L46.8 199.1 L47.6 199.1 L48.4 199.1 L49.2 199.0 L50.0 198.8 L50.8 198.7 L51.6 198.8 L52.4 198.9 L53.2 199.0 L54.0 199.0 L54.8 198.9 L55.6 198.9 L56.5 199.0 L57.4 199.1 L58.0 199.1 L60.0 199.5 L60.2 199.4 L60.5 199.2 L60.9 199.0 L61.3 198.8 L61.7 198.6 L62.2 198.4 L62.6 198.2 L63.0 198.2 L63.4 198.3 L63.7 198.4 L64.1 198.6 L64.4 198.8 L64.8 199.0 L65.2 199.3 L65.6 199.4 L66.0 199.5 L66.4 199.5 L66.9 199.4 L67.4 199.3 L67.9 199.2 L68.4 199.0 L68.9 198.9 L69.5 198.8 L70.0 198.8 L70.5 198.9 L71.0 199.0 L71.6 199.2 L72.1 199.4 L72.6 199.6 L73.2 199.8 L73.8 199.9 L74.5 200.0 L75.2 200.1 L76.1 200.2 L76.9 200.3 L77.8 200.4 L78.7 200.4 L79.6 200.2 L80.3 200.0 L81.0 199.5 L81.6 198.6 L82.0 197.4 L82.5 195.8 L82.8 194.2 L83.2 192.7 L83.5 191.5 L83.8 190.8 L84.2 190.8 L84.6 191.7 L84.9 193.4 L85.2 195.6 L85.5 198.1 L85.8 200.6 L86.2 202.9 L86.6 204.6 L87.2 205.5 L87.9 205.5 L88.7 204.9 L89.5 203.9 L90.4 202.5 L91.4 201.0 L92.3 199.5 L93.2 198.3 L94.0 197.5 L94.7 197.0 L95.4 196.6 L96.1 196.3 L96.7 196.2 L97.4 196.1 L98.0 196.1 L98.7 196.3 L99.5 196.5 L100.3 196.9 L101.2 197.6 L102.1 198.5 L103.0 199.4 L103.9 200.3 L104.8 201.1 L105.7 201.7 L106.5 202.0 L107.3 202.0 L108.0 201.8 L108.7 201.4 L109.4 200.9 L110.1 200.4 L110.7 199.8 L111.4 199.3 L112.0 199.0 L112.6 198.8 L113.2 198.5 L113.8 198.3 L114.4 198.2 L114.9 198.0 L115.5 197.9 L116.0 197.8 L116.5 197.8 L117.0 197.8 L117.5 197.9 L118.0 198.0 L118.5 198.1 L119.0 198.2 L119.4 198.3 L119.7 198.4 L120.0 198.5 L121.6 199.2 L122.2 199.1 L123.1 199.0 L124.0 198.9 L124.8 198.9 L125.6 199.1 L126.4 199.1 L127.2 199.2 L128.0 199.1 L128.8 199.1 L129.6 199.2 L130.4 199.2 L131.2 199.2 L132.0 199.1 L132.8 199.0 L133.6 198.9 L134.4 198.9 L135.2 199.0 L136.0 199.0 L136.8 199.0 L137.6 198.9 L138.4 198.9 L139.2 198.9 L140.0 198.9 L140.8 198.9 L141.6 198.9 L142.4 198.9 L143.2 198.9 L144.0 199.0 L144.8 199.0 L145.6 199.1 L146.4 199.0 L147.2 199.0 L148.0 199.0 L148.8 199.0 L149.6 199.0 L150.4 199.0 L151.2 199.0 L152.0 199.0 L152.8 198.9 L153.6 198.9 L154.4 198.9 L155.2 199.0 L156.0 199.0 L156.8 199.0 L157.6 199.0 L158.4 198.9 L159.2 198.9 L160.0 198.8 L160.8 198.9 L161.6 199.0 L162.4 199.0 L163.2 199.0 L164.0 198.9 L164.8 198.9 L165.6 198.9 L166.4 199.0 L167.2 199.1 L168.0 199.0 L168.8 198.8 L169.6 198.7 L170.4 198.7 L171.2 198.8 L172.0 198.8 L172.8 198.8 L173.6 198.8 L174.4 198.9 L175.2 198.9 L176.0 198.9 L176.8 198.9 L177.6 198.9 L178.4 198.8 L179.2 198.8 L180.0 198.9 L180.8 199.1 L181.6 199.1 L182.4 199.0 L183.2 198.9 L184.0 198.8 L184.8 198.8 L185.6 198.9 L186.4 198.9 L187.2 198.9 L188.0 198.8 L188.8 198.8 L189.6 198.7 L190.4 198.7 L191.2 198.8 L192.0 198.9 L192.8 199.0 L193.6 199.1 L194.4 199.0 L195.2 199.0 L196.0 198.9 L196.8 198.8 L197.6 198.8 L198.4 198.8 L199.2 198.9 L200.0 199.1 L200.8 199.2 L201.6 199.2 L202.4 199.0 L203.2 199.0 L204.0 199.0 L204.8 199.0 L205.6 199.1 L206.4 199.1 L207.2 199.2 L208.0 199.2 L208.8 199.2 L209.6 199.1 L210.4 199.0 L211.2 199.0 L212.0 199.0 L212.8 199.0 L213.6 199.0 L214.4 199.1 L215.2 199.2 L216.0 199.2 L216.8 199.2 L217.6 199.2 L218.4 199.2 L219.2 199.3 L220.0 199.3 L220.8 199.2 L221.6 199.1 L222.4 199.0 L223.2 199.1 L224.0 199.2 L224.8 199.3 L225.6 199.2 L226.4 199.1 L227.2 199.0 L228.0 199.0 L228.8 199.0 L229.6 199.0 L230.4 199.0 L231.2 198.9 L232.0 198.9 L232.8 198.9 L233.6 199.0 L234.4 199.0 L235.2 198.9 L236.0 198.8 L236.8 198.8 L237.6 198.9 L238.4 199.0 L239.2 199.1 L240.0 199.2 L240.8 199.2 L241.6 199.2 L242.4 199.2 L243.2 199.3 L244.0 199.3 L244.8 199.3 L245.6 199.1 L246.4 199.1 L247.2 199.1 L248.0 199.1 L248.8 199.1 L249.6 199.1 L250.4 199.1 L251.2 199.1 L252.0 199.2 L252.8 199.3 L253.6 199.3 L254.4 199.3 L255.2 199.2 L256.0 199.1 L256.8 199.1 L257.6 199.1 L258.4 199.1 L259.2 199.1 L260.0 199.1 L260.8 199.2 L261.6 199.2 L262.4 199.2 L263.2 199.2 L264.0 199.1 L264.8 199.1 L265.6 199.0 L266.4 199.1 L267.2 199.1 L268.0 199.1 L268.8 199.1 L269.6 199.1 L270.4 199.0 L271.2 199.0 L272.0 199.0 L272.8 198.9 L273.6 198.9 L274.4 198.8 L275.2 198.8 L276.0 198.8 L276.8 198.9 L277.6 198.9 L278.4 198.8 L279.2 198.8 L280.0 198.8 L280.8 198.8 L281.6 198.8 L282.4 198.8 L283.2 198.9 L284.0 198.9 L284.8 199.0 L285.6 199.0 L286.4 199.0 L287.2 199.0 L288.0 199.0 L288.8 199.0 L289.6 199.0 L290.4 198.9 L291.2 198.9 L292.0 198.9 L292.8 198.9 L293.6 198.9 L294.4 198.9 L295.3 198.9 L296.2 198.9 L296.8 198.8"/>
<path stroke="#b52f2f" d="M38.8 215.8 L39.4 215.8 L40.3 215.9 L41.2 215.8 L42.0 215.8 L42.8 215.6 L43.6 215.5 L44.4 215.5 L45.2 215.6 L46.0 215.7 L46.8 215.7 L47.6 215.8 L48.4 215.9 L49.2 216.0 L50.0 216.0 L50.8 216.1 L51.6 216.1 L52.4 216.0 L53.2 215.9 L54.0 215.7 L54.8 215.5 L55.6 215.4 L56.4 215.5 L57.2 215.7 L58.0 215.8 L58.8 215.8 L59.6 215.7 L60.4 215.6 L61.2 215.7 L62.0 215.8 L62.8 215.9 L63.6 215.7 L64.4 215.5 L65.2 215.4 L66.0 215.6 L66.8 215.8 L67.6 216.0 L68.4 215.9 L69.2 215.7 L70.0 215.6 L70.8 215.7 L71.6 215.7 L72.4 215.8 L73.2 215.9 L74.0 216.0 L74.8 216.0 L75.7 216.0 L76.6 216.0 L77.2 216.0 L80.0 216.5 L80.3 216.4 L80.7 216.3 L81.2 216.2 L81.7 216.1 L82.3 216.0 L82.8 215.9 L83.4 215.8 L84.0 215.8 L84.6 215.9 L85.2 216.0 L85.8 216.1 L86.4 216.3 L87.1 216.5 L87.7 216.6 L88.4 216.7 L89.0 216.8 L89.6 216.8 L90.3 216.8 L91.0 216.7 L91.6 216.7 L92.3 216.6 L92.9 216.5 L93.5 216.3 L94.0 216.2 L94.5 216.0 L94.9 215.6 L95.2 215.2 L95.6 214.8 L95.9 214.5 L96.3 214.2 L96.6 214.2 L97.0 214.5 L97.4 215.2 L97.8 216.4 L98.2 217.9 L98.6 219.5 L99.1 221.0 L99.5 222.1 L100.0 222.8 L100.5 222.8 L101.0 221.8 L101.6 220.0 L102.1 217.6 L102.7 214.9 L103.3 212.3 L104.0 210.0 L104.6 208.4 L105.2 207.8 L105.8 208.4 L106.4 210.0 L107.1 212.2 L107.7 214.8 L108.4 217.5 L109.0 219.9 L109.8 221.6 L110.5 222.5 L111.3 222.3 L112.2 221.4 L113.0 219.9 L114.0 218.1 L114.9 216.2 L115.8 214.5 L116.7 213.2 L117.5 212.5 L118.3 212.5 L119.0 213.0 L119.8 213.8 L120.5 214.8 L121.2 215.9 L121.9 216.9 L122.7 217.6 L123.5 218.0 L124.4 218.0 L125.2 217.7 L126.1 217.3 L127.1 216.8 L128.0 216.2 L129.0 215.6 L130.0 215.2 L131.0 215.0 L132.1 215.0 L133.4 215.1 L134.7 215.3 L136.0 215.6 L137.2 215.8 L138.3 216.1 L139.3 216.4 L140.0 216.5 L141.6 216.1 L142.2 216.1 L143.1 216.0 L144.0 216.0 L144.8 216.1 L145.6 216.1 L146.4 216.2 L147.2 216.1 L148.0 216.1 L148.8 216.0 L149.6 216.0 L150.4 216.0 L151.2 216.0 L152.0 216.1 L152.8 216.2 L153.6 216.2 L154.4 216.3 L155.2 216.3 L156.0 216.3 L156.8 216.3 L157.6 216.2 L158.4 216.1 L159.2 216.1 L160.0 216.3 L160.8 216.3 L161.6 216.3 L162.4 216.2 L163.2 216.1 L164.0 216.1 L164.8 216.1 L165.6 216.1 L166.4 216.0 L167.2 216.0 L168.0 216.0 L168.8 216.0 L169.6 216.1 L170.4 216.1 L171.2 216.0 L172.0 215.9 L172.8 215.9 L173.6 216.0 L174.4 216.1 L175.2 216.2 L176.0 216.2 L176.8 216.1 L177.6 216.0 L178.4 215.9 L179.2 215.9 L180.0 215.8 L180.8 215.9 L181.6 215.9 L182.4 215.9 L183.2 215.8 L184.0 215.7 L184.8 215.7 L185.6 215.7 L186.4 215.8 L187.2 215.9 L188.0 216.0 L188.8 216.1 L189.6 216.2 L190.4 216.2 L191.2 216.1 L192.0 216.0 L192.8 216.1 L193.6 216.2 L194.4 216.3 L195.2 216.1 L196.0 215.9 L196.8 215.7 L197.6 215.8 L198.4 215.9 L199.2 215.9 L200.0 216.0 L200.8 216.1 L201.6 216.2 L202.4 216.2 L203.2 216.2 L204.0 216.2 L204.8 216.2 L205.6 216.1 L206.4 216.0 L207.2 216.0 L208.0 216.0 L208.8 216.0 L209.6 216.0 L210.4 216.0 L211.2 216.0 L212.0 216.1 L212.8 216.1 L213.6 216.1 L214.4 216.1 L215.2 216.0 L216.0 216.0 L216.8 215.9 L217.6 215.9 L218.4 215.8 L219.2 215.8 L220.0 215.8 L220.8 215.9 L221.6 215.9 L222.4 216.0 L223.2 216.1 L224.0 216.0 L224.8 216.0 L225.6 216.0 L226.4 216.0 L227.2 216.0 L228.0 216.0 L228.8 216.0 L229.6 216.0 L230.4 216.0 L231.2 216.1 L232.0 216.2 L232.8 216.2 L233.6 216.1 L234.4 216.0 L235.2 215.9 L236.0 216.0 L236.8 216.1 L237.6 216.2 L238.4 216.1 L239.2 216.0 L240.0 215.9 L240.8 215.9 L241.6 216.1 L242.4 216.2 L243.2 216.3 L244.0 216.3 L244.8 216.4 L245.6 216.3 L246.4 216.2 L247.2 216.2 L248.0 216.1 L248.8 216.0 L249.6 216.0 L250.4 216.0 L251.2 216.0 L252.0 216.0 L252.8 216.0 L253.6 215.9 L254.4 215.8 L255.2 215.9 L256.0 215.9 L256.8 216.0 L257.6 216.1 L258.4 216.1 L259.2 216.1 L260.0 216.0 L260.8 215.9 L261.6 215.8 L262.4 215.8 L263.2 216.0 L264.0 216.1 L264.8 216.1 L265.6 216.0 L266.4 216.0 L267.2 215.9 L268.0 215.8 L268.8 215.7 L269.6 215.7 L270.4 215.9 L271.2 215.9 L272.0 215.9 L272.8 215.8 L273.6 215.8 L274.4 215.8 L275.2 215.9 L276.0 216.0 L276.8 216.0 L277.6 215.9 L278.4 215.9 L279.2 216.0 L280.0 216.1 L280.8 216.1 L281.6 216.1 L282.4 216.0 L283.2 215.9 L284.0 215.8 L284.8 215.7 L285.6 215.7 L286.4 215.7 L287.2 215.7 L288.0 215.7 L288.8 215.7 L289.6 215.7 L290.4 215.7 L291.2 215.8 L292.0 215.9 L292.8 216.0 L293.6 216.0 L294.4 216.1 L295.2 216.0 L296.1 215.9 L297.0 215.7 L297.6 215.6"/>
<path stroke="#b52f2f" d="M38.8 232.9 L39.4 232.9 L40.3 232.9 L41.2 232.9 L42.0 232.9 L42.8 232.8 L43.6 232.7 L44.4 232.8 L45.2 232.9 L46.0 232.9 L46.8 232.9 L47.6 232.8 L48.4 232.7 L49.2 232.7 L50.0 232.7 L50.8 232.7 L51.6 232.7 L52.4 232.8 L53.2 232.8 L54.0 232.9 L54.8 232.9 L55.6 233.0 L56.4 232.9 L57.2 232.9 L58.0 232.8 L58.8 232.6 L59.6 232.4 L60.4 232.4 L61.2 232.5 L62.0 232.8 L62.8 233.1 L63.6 233.1 L64.4 233.1 L65.2 233.0 L66.0 232.9 L66.8 232.8 L67.6 232.8 L68.4 232.9 L69.2 233.1 L70.0 233.2 L70.8 233.3 L71.6 233.3 L72.4 233.2 L73.2 233.1 L74.0 232.9 L74.8 232.7 L75.7 232.7 L76.6 232.7 L77.2 232.7 L80.0 232.3 L80.4 232.5 L81.0 232.7 L81.8 233.1 L82.6 233.4 L83.4 233.7 L84.2 233.9 L85.0 234.0 L85.7 234.0 L86.3 233.7 L87.0 233.1 L87.6 232.3 L88.2 231.4 L88.8 230.7 L89.4 230.1 L89.9 229.9 L90.5 230.1 L91.1 231.0 L91.6 232.6 L92.1 234.6 L92.6 236.7 L93.1 238.7 L93.7 240.4 L94.2 241.5 L94.8 241.6 L95.4 240.6 L96.0 238.5 L96.6 235.7 L97.3 232.6 L97.9 229.5 L98.6 226.8 L99.3 224.8 L100.0 223.9 L100.7 224.3 L101.4 225.8 L102.2 227.9 L102.9 230.5 L103.7 233.1 L104.5 235.5 L105.3 237.4 L106.2 238.3 L107.1 238.3 L108.1 237.5 L109.2 236.3 L110.2 234.8 L111.3 233.3 L112.4 231.8 L113.4 230.7 L114.4 230.1 L115.3 230.1 L116.2 230.5 L117.1 231.1 L118.0 231.9 L118.8 232.7 L119.7 233.5 L120.6 234.1 L121.5 234.4 L122.4 234.4 L123.4 234.1 L124.4 233.7 L125.4 233.3 L126.4 232.8 L127.4 232.3 L128.3 232.0 L129.2 231.8 L130.1 231.8 L130.9 232.0 L131.7 232.2 L132.5 232.5 L133.3 232.8 L134.0 233.1 L134.7 233.3 L135.4 233.5 L136.1 233.6 L136.8 233.6 L137.4 233.6 L138.1 233.5 L138.7 233.4 L139.2 233.4 L139.7 233.3 L140.0 233.3 L141.6 233.0 L142.2 233.0 L143.1 233.0 L144.0 232.9 L144.8 232.8 L145.6 232.7 L146.4 232.6 L147.2 232.6 L148.0 232.6 L148.8 232.6 L149.6 232.7 L150.4 232.7 L151.2 232.8 L152.0 232.8 L152.8 232.8 L153.6 232.7 L154.4 232.8 L155.2 232.8 L156.0 232.8 L156.8 232.8 L157.6 232.7 L158.4 232.7 L159.2 232.7 L160.0 232.9 L160.8 232.9 L161.6 232.9 L162.4 232.7 L163.2 232.6 L164.0 232.6 L164.8 232.6 L165.6 232.6 L166.4 232.6 L167.2 232.5 L168.0 232.5 L168.8 232.5 L169.6 232.6 L170.4 232.7 L171.2 232.7 L172.0 232.8 L172.8 232.8 L173.6 232.7 L174.4 232.6 L175.2 232.5 L176.0 232.5 L176.8 232.5 L177.6 232.6 L178.4 232.7 L179.2 232.8 L180.0 232.9 L180.8 232.9 L181.6 232.8 L182.4 232.7 L183.2 232.8 L184.0 232.8 L184.8 232.9 L185.6 233.0 L186.4 233.0 L187.2 233.0 L188.0 233.0 L188.8 233.0 L189.6 232.9 L190.4 232.8 L191.2 232.7 L192.0 232.7 L192.8 232.6 L193.6 232.6 L194.4 232.6 L195.2 232.6 L196.0 232.7 L196.8 232.7 L197.6 232.8 L198.4 232.9 L199.2 233.0 L200.0 232.9 L200.8 232.9 L201.6 232.8 L202.4 232.8 L203.2 232.8 L204.0 232.8 L204.8 232.8 L205.6 232.8 L206.4 232.8 L207.2 232.9 L208.0 232.9 L208.8 233.0 L209.6 233.0 L210.4 233.0 L211.2 233.0 L212.0 233.0 L212.8 233.0 L213.6 232.9 L214.4 232.9 L215.2 232.8 L216.0 232.8 L216.8 232.7 L217.6 232.7 L218.4 232.7 L219.2 232.7 L220.0 232.8 L220.8 232.9 L221.6 232.9 L222.4 232.9 L223.2 232.8 L224.0 232.8 L224.8 232.7 L225.6 232.7 L226.4 232.7 L227.2 232.7 L228.0 232.7 L228.8 232.6 L229.6 232.5 L230.4 232.5 L231.2 232.5 L232.0 232.5 L232.8 232.5 L233.6 232.6 L234.4 232.7 L235.2 232.7 L236.0 232.7 L236.8 232.6 L237.6 232.6 L238.4 232.6 L239.2 232.8 L240.0 232.9 L240.8 233.0 L241.6 233.0 L242.4 233.0 L243.2 232.9 L244.0 232.8 L244.8 232.7 L245.6 232.7 L246.4 232.7 L247.2 232.8 L248.0 232.7 L248.8 232.7 L249.6 232.7 L250.4 232.7 L251.2 232.8 L252.0 232.8 L252.8 232.8 L253.6 232.7 L254.4 232.7 L255.2 232.8 L256.0 232.8 L256.8 232.9 L257.6 232.8 L258.4 232.8 L259.2 232.8 L260.0 232.9 L260.8 232.9 L261.6 233.0 L262.4 233.0 L263.2 233.0 L264.0 233.0 L264.8 232.9 L265.6 232.7 L266.4 232.6 L267.2 232.5 L268.0 232.6 L268.8 232.6 L269.6 232.6 L270.4 232.6 L271.2 232.6 L272.0 232.6 L272.8 232.6 L273.6 232.5 L274.4 232.5 L275.2 232.5 L276.0 232.6 L276.8 232.7 L277.6 232.8 L278.4 232.8 L279.2 232.8 L280.0 232.8 L280.8 232.8 L281.6 232.8 L282.4 232.9 L283.2 232.9 L284.0 232.8 L284.8 232.7 L285.6 232.6 L286.4 232.7 L287.2 232.9 L288.0 233.0 L288.8 232.9 L289.6 232.8 L290.4 232.7 L291.2 232.7 L292.0 232.9 L292.8 233.0 L293.6 232.9 L294.4 232.8 L295.2 232.7 L296.1 232.7 L297.0 232.8 L297.6 232.9"/>
<path stroke="#b52f2f" d="M38.8 249.9 L39.4 249.8 L40.3 249.6 L41.2 249.5 L42.0 249.6 L42.8 249.7 L43.6 249.8 L44.4 250.0 L45.2 250.1 L46.0 250.2 L46.8 250.0 L47.6 249.7 L48.4 249.6 L49.2 249.6 L50.0 249.8 L50.8 250.0 L51.6 250.1 L52.4 250.2 L53.2 250.2 L54.0 250.3 L54.8 250.4 L55.6 250.4 L56.4 250.3 L57.2 250.2 L58.0 250.1 L58.8 250.1 L59.6 250.0 L60.4 250.0 L61.2 250.0 L62.0 249.9 L62.8 249.8 L63.6 249.8 L64.4 249.8 L65.2 249.8 L66.0 249.8 L66.8 249.7 L67.6 249.8 L68.4 249.9 L69.2 250.2 L70.0 250.3 L70.9 250.2 L71.8 250.1 L72.4 250.0 L75.0 250.3 L75.6 250.3 L76.4 250.3 L77.3 250.4 L78.4 250.4 L79.4 250.4 L80.5 250.3 L81.4 250.2 L82.2 250.0 L82.8 249.6 L83.4 248.9 L83.9 248.1 L84.3 247.2 L84.7 246.5 L85.2 246.0 L85.6 245.9 L86.0 246.2 L86.4 247.3 L86.9 249.2 L87.3 251.5 L87.7 254.0 L88.1 256.4 L88.5 258.3 L89.0 259.6 L89.5 259.9 L90.1 258.9 L90.6 256.7 L91.3 253.8 L91.9 250.5 L92.6 247.2 L93.2 244.3 L93.9 242.1 L94.6 241.1 L95.3 241.4 L96.0 242.6 L96.6 244.6 L97.3 247.0 L98.1 249.5 L98.8 251.7 L99.6 253.5 L100.4 254.4 L101.3 254.4 L102.2 253.8 L103.1 252.8 L104.1 251.6 L105.1 250.2 L106.0 249.0 L107.0 248.0 L108.0 247.5 L109.0 247.5 L109.9 247.8 L110.9 248.4 L111.9 249.0 L112.8 249.8 L113.8 250.4 L114.8 250.9 L115.8 251.2 L116.8 251.2 L117.8 251.1 L118.8 250.8 L119.9 250.4 L120.9 250.1 L121.9 249.7 L122.9 249.4 L123.9 249.3 L124.9 249.3 L125.8 249.4 L126.8 249.5 L127.7 249.7 L128.7 249.8 L129.6 250.0 L130.6 250.1 L131.6 250.2 L132.7 250.2 L133.8 250.2 L135.1 250.1 L136.3 250.1 L137.4 250.0 L138.5 249.9 L139.3 249.8 L140.0 249.8 L141.6 250.0 L142.2 249.9 L143.1 249.8 L144.0 249.8 L144.8 249.8 L145.6 249.7 L146.4 249.7 L147.2 249.7 L148.0 249.6 L148.8 249.6 L149.6 249.6 L150.4 249.6 L151.2 249.6 L152.0 249.6 L152.8 249.8 L153.6 249.8 L154.4 249.8 L155.2 249.7 L156.0 249.6 L156.8 249.6 L157.6 249.7 L158.4 249.7 L159.2 249.7 L160.0 249.8 L160.8 249.8 L161.6 249.9 L162.4 249.9 L163.2 250.0 L164.0 249.9 L164.8 249.8 L165.6 249.7 L166.4 249.7 L167.2 249.8 L168.0 249.8 L168.8 249.8 L169.6 249.8 L170.4 249.8 L171.2 249.8 L172.0 249.8 L172.8 249.7 L173.6 249.7 L174.4 249.7 L175.2 249.7 L176.0 249.8 L176.8 249.9 L177.6 249.9 L178.4 249.8 L179.2 249.7 L180.0 249.6 L180.8 249.6 L181.6 249.6 L182.4 249.6 L183.2 249.5 L184.0 249.5 L184.8 249.5 L185.6 249.5 L186.4 249.6 L187.2 249.6 L188.0 249.6 L188.8 249.5 L189.6 249.4 L190.4 249.5 L191.2 249.5 L192.0 249.6 L192.8 249.6 L193.6 249.5 L194.4 249.5 L195.2 249.4 L196.0 249.3 L196.8 249.3 L197.6 249.5 L198.4 249.7 L199.2 249.8 L200.0 249.8 L200.8 249.8 L201.6 249.7 L202.4 249.7 L203.2 249.8 L204.0 249.8 L204.8 249.8 L205.6 249.7 L206.4 249.7 L207.2 249.6 L208.0 249.6 L208.8 249.6 L209.6 249.5 L210.4 249.5 L211.2 249.5 L212.0 249.6 L212.8 249.8 L213.6 249.9 L214.4 250.0 L215.2 250.0 L216.0 250.0 L216.8 250.0 L217.6 249.9 L218.4 249.8 L219.2 249.7 L220.0 249.7 L220.8 249.6 L221.6 249.7 L222.4 249.8 L223.2 249.8 L224.0 249.8 L224.8 249.7 L225.6 249.7 L226.4 249.7 L227.2 249.7 L228.0 249.8 L228.8 249.8 L229.6 249.9 L230.4 250.0 L231.2 250.0 L232.0 249.9 L232.8 249.8 L233.6 249.9 L234.4 249.9 L235.2 249.9 L236.0 249.8 L236.8 249.7 L237.6 249.6 L238.4 249.7 L239.2 249.7 L240.0 249.8 L240.8 249.8 L241.6 249.8 L242.4 249.8 L243.2 249.9 L244.0 249.9 L244.8 249.9 L245.6 249.8 L246.4 249.6 L247.2 249.5 L248.0 249.6 L248.8 249.7 L249.6 249.8 L250.4 249.8 L251.2 249.9 L252.0 249.9 L252.8 250.0 L253.6 250.1 L254.4 250.1 L255.2 250.1 L256.0 250.0 L256.8 249.9 L257.6 249.8 L258.4 249.8 L259.2 249.7 L260.0 249.7 L260.8 249.6 L261.6 249.6 L262.4 249.6 L263.2 249.7 L264.0 249.7 L264.8 249.8 L265.6 250.0 L266.4 250.0 L267.2 249.9 L268.0 249.7 L268.8 249.5 L269.6 249.5 L270.4 249.6 L271.2 249.6 L272.0 249.6 L272.8 249.6 L273.6 249.6 L274.4 249.7 L275.2 249.9 L276.0 250.0 L276.8 250.0 L277.6 249.9 L278.4 249.9 L279.2 249.9 L280.0 249.9 L280.8 249.9 L281.6 249.9 L282.4 249.8 L283.2 249.8 L284.0 249.8 L284.8 249.8 L285.6 249.8 L286.4 249.8 L287.2 249.9 L288.0 250.0 L288.8 249.9 L289.6 249.8 L290.4 249.8 L291.2 249.8 L292.0 249.8 L292.8 249.8 L293.6 249.8 L294.4 249.8 L295.2 249.8 L296.1 249.7 L297.0 249.6 L297.6 249.6"/>
<path stroke="#b52f2f" d="M38.8 266.6 L39.4 266.8 L40.3 266.9 L41.2 267.1 L42.0 267.2 L42.8 267.2 L43.6 267.3 L44.4 267.3 L45.2 267.2 L46.0 267.2 L46.8 267.1 L47.6 266.9 L48.4 266.9 L49.2 267.0 L50.0 267.1 L50.8 267.2 L51.6 267.2 L52.4 267.1 L53.2 267.0 L54.0 267.0 L54.8 267.1 L55.6 267.1 L56.4 267.1 L57.2 267.0 L58.0 267.0 L58.8 267.0 L59.6 267.2 L60.4 267.2 L61.2 267.0 L62.0 266.7 L62.8 266.5 L63.6 266.5 L64.4 266.7 L65.2 266.8 L66.0 266.8 L66.8 266.7 L67.6 266.7 L68.4 266.7 L69.2 266.7 L70.0 266.6 L70.9 266.6 L71.8 266.6 L72.4 266.6 L75.0 267.3 L75.5 267.2 L76.2 267.0 L77.0 266.8 L77.9 266.6 L78.9 266.4 L79.9 266.2 L80.8 266.1 L81.7 266.0 L82.6 266.0 L83.5 266.1 L84.4 266.3 L85.3 266.4 L86.1 266.6 L87.0 266.8 L87.7 266.8 L88.4 266.8 L89.0 266.6 L89.5 266.2 L89.9 265.7 L90.2 265.2 L90.6 264.8 L90.9 264.5 L91.3 264.4 L91.7 264.7 L92.1 265.5 L92.5 266.9 L93.0 268.6 L93.4 270.4 L93.8 272.0 L94.3 273.4 L94.8 274.2 L95.3 274.3 L95.9 273.3 L96.5 271.4 L97.1 268.9 L97.7 266.1 L98.4 263.4 L99.1 261.0 L99.7 259.2 L100.4 258.5 L101.0 259.0 L101.7 260.4 L102.3 262.5 L102.9 265.0 L103.5 267.5 L104.2 269.8 L104.9 271.5 L105.7 272.4 L106.5 272.4 L107.5 271.7 L108.4 270.5 L109.4 269.0 L110.4 267.5 L111.4 266.1 L112.3 265.0 L113.2 264.4 L114.0 264.3 L114.7 264.6 L115.4 265.2 L116.0 265.9 L116.7 266.6 L117.4 267.3 L118.2 267.9 L119.1 268.2 L120.1 268.3 L121.2 268.2 L122.4 267.9 L123.6 267.7 L124.8 267.3 L126.1 267.1 L127.4 266.8 L128.7 266.7 L130.1 266.7 L131.7 266.7 L133.3 266.8 L134.9 266.9 L136.5 267.0 L137.9 267.1 L139.1 267.1 L140.0 267.2 L141.6 266.7 L142.2 266.6 L143.1 266.5 L144.0 266.5 L144.8 266.6 L145.6 266.7 L146.4 266.8 L147.2 266.8 L148.0 266.8 L148.8 266.8 L149.6 266.7 L150.4 266.5 L151.2 266.4 L152.0 266.4 L152.8 266.5 L153.6 266.5 L154.4 266.6 L155.2 266.6 L156.0 266.7 L156.8 266.7 L157.6 266.7 L158.4 266.6 L159.2 266.6 L160.0 266.6 L160.8 266.5 L161.6 266.5 L162.4 266.4 L163.2 266.4 L164.0 266.4 L164.8 266.4 L165.6 266.4 L166.4 266.5 L167.2 266.7 L168.0 266.8 L168.8 266.8 L169.6 266.8 L170.4 266.7 L171.2 266.7 L172.0 266.6 L172.8 266.6 L173.6 266.7 L174.4 266.8 L175.2 266.9 L176.0 266.9 L176.8 266.9 L177.6 266.9 L178.4 266.8 L179.2 266.6 L180.0 266.6 L180.8 266.6 L181.6 266.7 L182.4 266.8 L183.2 266.8 L184.0 266.8 L184.8 266.7 L185.6 266.7 L186.4 266.7 L187.2 266.7 L188.0 266.7 L188.8 266.7 L189.6 266.7 L190.4 266.7 L191.2 266.7 L192.0 266.7 L192.8 266.6 L193.6 266.6 L194.4 266.5 L195.2 266.5 L196.0 266.6 L196.8 266.6 L197.6 266.7 L198.4 266.8 L199.2 266.8 L200.0 266.9 L200.8 266.9 L201.6 266.9 L202.4 267.0 L203.2 267.0 L204.0 267.1 L204.8 267.1 L205.6 267.0 L206.4 266.9 L207.2 266.9 L208.0 266.9 L208.8 266.9 L209.6 266.9 L210.4 266.9 L211.2 266.9 L212.0 266.8 L212.8 266.7 L213.6 266.6 L214.4 266.7 L215.2 266.9 L216.0 266.9 L216.8 266.9 L217.6 266.7 L218.4 266.6 L219.2 266.6 L220.0 266.6 L220.8 266.6 L221.6 266.7 L222.4 266.8 L223.2 266.9 L224.0 266.9 L224.8 266.9 L225.6 266.9 L226.4 266.8 L227.2 266.7 L228.0 266.6 L228.8 266.6 L229.6 266.6 L230.4 266.6 L231.2 266.7 L232.0 266.8 L232.8 266.8 L233.6 266.7 L234.4 266.5 L235.2 266.5 L236.0 266.5 L236.8 266.6 L237.6 266.7 L238.4 266.7 L239.2 266.6 L240.0 266.6 L240.8 266.6 L241.6 266.6 L242.4 266.6 L243.2 266.5 L244.0 266.4 L244.8 266.4 L245.6 266.4 L246.4 266.6 L247.2 266.7 L248.0 266.8 L248.8 266.8 L249.6 266.8 L250.4 266.8 L251.2 266.7 L252.0 266.6 L252.8 266.6 L253.6 266.6 L254.4 266.6 L255.2 266.7 L256.0 266.8 L256.8 266.9 L257.6 266.8 L258.4 266.7 L259.2 266.6 L260.0 266.7 L260.8 266.8 L261.6 266.9 L262.4 266.8 L263.2 266.8 L264.0 266.7 L264.8 266.7 L265.6 266.6 L266.4 266.6 L267.2 266.6 L268.0 266.7 L268.8 266.8 L269.6 266.9 L270.4 266.9 L271.2 266.9 L272.0 266.9 L272.8 266.8 L273.6 266.7 L274.4 266.7 L275.2 266.8 L276.0 266.8 L276.8 266.8 L277.6 266.6 L278.4 266.5 L279.2 266.5 L280.0 266.5 L280.8 266.6 L281.6 266.6 L282.4 266.7 L283.2 266.7 L284.0 266.7 L284.8 266.6 L285.6 266.6 L286.4 266.6 L287.2 266.6 L288.0 266.6 L288.8 266.5 L289.6 266.4 L290.4 266.3 L291.2 266.5 L292.0 266.7 L292.8 266.8 L293.6 266.7 L294.4 266.5 L295.2 266.3 L296.1 266.3 L297.0 266.4 L297.6 266.5"/>
<path stroke="#b52f2f" d="M38.8 283.6 L39.4 283.5 L40.3 283.5 L41.2 283.5 L42.0 283.6 L42.8 283.7 L43.6 283.8 L44.4 283.7 L45.2 283.5 L46.0 283.5 L46.8 283.6 L47.6 283.8 L48.4 283.9 L49.2 284.0 L50.0 284.0 L50.8 284.0 L51.6 284.0 L52.4 284.0 L53.2 284.0 L54.0 283.9 L54.8 283.7 L55.6 283.7 L56.4 283.8 L57.2 284.0 L58.0 284.1 L58.8 284.1 L59.6 284.1 L60.4 284.1 L61.2 284.1 L62.0 284.1 L62.8 284.0 L63.6 284.0 L64.4 283.9 L65.2 283.9 L66.0 283.9 L66.8 283.8 L67.6 283.8 L68.4 283.8 L69.2 283.8 L70.0 283.8 L70.9 283.7 L71.8 283.6 L72.4 283.6 L75.0 283.7 L75.6 283.7 L76.5 283.6 L77.5 283.6 L78.6 283.5 L79.7 283.5 L80.8 283.4 L81.8 283.4 L82.7 283.4 L83.4 283.5 L84.0 283.6 L84.5 283.7 L85.0 283.9 L85.5 284.0 L86.0 284.1 L86.5 284.2 L87.0 284.1 L87.6 283.9 L88.2 283.4 L88.8 282.9 L89.4 282.3 L90.0 281.8 L90.6 281.5 L91.2 281.4 L91.7 281.7 L92.2 282.6 L92.6 284.1 L93.1 285.9 L93.5 287.9 L93.9 289.8 L94.3 291.3 L94.8 292.2 L95.3 292.3 L95.8 291.3 L96.4 289.3 L97.0 286.7 L97.6 283.7 L98.2 280.8 L98.8 278.2 L99.4 276.3 L100.1 275.5 L100.8 275.9 L101.5 277.3 L102.2 279.3 L102.9 281.7 L103.6 284.2 L104.4 286.4 L105.2 288.1 L106.0 289.0 L106.8 288.9 L107.7 288.2 L108.7 286.9 L109.6 285.4 L110.5 283.8 L111.5 282.4 L112.4 281.3 L113.2 280.7 L114.0 280.7 L114.7 281.1 L115.4 281.8 L116.1 282.7 L116.7 283.6 L117.5 284.4 L118.2 285.1 L119.1 285.4 L120.0 285.4 L121.0 285.3 L122.0 285.0 L123.1 284.6 L124.2 284.1 L125.3 283.7 L126.5 283.4 L127.8 283.2 L129.2 283.2 L130.9 283.2 L132.7 283.3 L134.4 283.4 L136.2 283.6 L137.7 283.7 L139.0 283.8 L140.0 283.9 L141.6 283.8 L142.2 283.7 L143.1 283.6 L144.0 283.6 L144.8 283.5 L145.6 283.5 L146.4 283.4 L147.2 283.4 L148.0 283.4 L148.8 283.4 L149.6 283.5 L150.4 283.5 L151.2 283.6 L152.0 283.6 L152.8 283.5 L153.6 283.5 L154.4 283.4 L155.2 283.5 L156.0 283.4 L156.8 283.4 L157.6 283.3 L158.4 283.3 L159.2 283.3 L160.0 283.3 L160.8 283.4 L161.6 283.4 L162.4 283.5 L163.2 283.6 L164.0 283.6 L164.8 283.6 L165.6 283.6 L166.4 283.7 L167.2 283.8 L168.0 283.8 L168.8 283.7 L169.6 283.6 L170.4 283.5 L171.2 283.6 L172.0 283.8 L172.8 283.9 L173.6 283.9 L174.4 283.8 L175.2 283.7 L176.0 283.8 L176.8 283.8 L177.6 283.8 L178.4 283.7 L179.2 283.6 L180.0 283.5 L180.8 283.5 L181.6 283.5 L182.4 283.5 L183.2 283.5 L184.0 283.4 L184.8 283.4 L185.6 283.4 L186.4 283.4 L187.2 283.4 L188.0 283.4 L188.8 283.5 L189.6 283.5 L190.4 283.5 L191.2 283.4 L192.0 283.5 L192.8 283.6 L193.6 283.7 L194.4 283.8 L195.2 283.7 L196.0 283.6 L196.8 283.5 L197.6 283.6 L198.4 283.8 L199.2 283.9 L200.0 283.8 L200.8 283.6 L201.6 283.5 L202.4 283.7 L203.2 283.8 L204.0 283.9 L204.8 283.9 L205.6 283.7 L206.4 283.6 L207.2 283.6 L208.0 283.6 L208.8 283.6 L209.6 283.7 L210.4 283.8 L211.2 283.8 L212.0 283.8 L212.8 283.7 L213.6 283.7 L214.4 283.7 L215.2 283.8 L216.0 283.8 L216.8 283.8 L217.6 283.8 L218.4 283.7 L219.2 283.7 L220.0 283.7 L220.8 283.7 L221.6 283.7 L222.4 283.6 L223.2 283.6 L224.0 283.6 L224.8 283.6 L225.6 283.6 L226.4 283.6 L227.2 283.5 L228.0 283.5 L228.8 283.5 L229.6 283.5 L230.4 283.5 L231.2 283.4 L232.0 283.4 L232.8 283.4 L233.6 283.5 L234.4 283.6 L235.2 283.7 L236.0 283.7 L236.8 283.6 L237.6 283.6 L238.4 283.7 L239.2 283.8 L240.0 283.9 L240.8 283.8 L241.6 283.7 L242.4 283.6 L243.2 283.5 L244.0 283.5 L244.8 283.5 L245.6 283.5 L246.4 283.5 L247.2 283.5 L248.0 283.6 L248.8 283.7 L249.6 283.7 L250.4 283.8 L251.2 283.8 L252.0 283.8 L252.8 283.8 L253.6 283.8 L254.4 283.8 L255.2 283.8 L256.0 283.7 L256.8 283.7 L257.6 283.7 L258.4 283.7 L259.2 283.7 L260.0 283.8 L260.8 283.9 L261.6 283.9 L262.4 283.9 L263.2 283.8 L264.0 283.8 L264.8 283.9 L265.6 284.0 L266.4 284.1 L267.2 284.0 L268.0 283.8 L268.8 283.7 L269.6 283.8 L270.4 283.9 L271.2 284.0 L272.0 283.8 L272.8 283.6 L273.6 283.5 L274.4 283.5 L275.2 283.6 L276.0 283.7 L276.8 283.7 L277.6 283.7 L278.4 283.7 L279.2 283.7 L280.0 283.7 L280.8 283.7 L281.6 283.7 L282.4 283.7 L283.2 283.7 L284.0 283.6 L284.8 283.6 L285.6 283.5 L286.4 283.6 L287.2 283.6 L288.0 283.6 L288.8 283.5 L289.6 283.5 L290.4 283.5 L291.2 283.5 L292.0 283.6 L292.8 283.7 L293.6 283.6 L294.4 283.5 L295.2 283.5 L296.1 283.6 L297.0 283.7 L297.6 283.9"/>
<path stroke="#646464" d="M38.8 300.0 L39.4 300.1 L40.3 300.3 L41.2 300.4 L42.0 300.6 L42.8 300.8 L43.6 300.9 L44.4 300.9 L45.2 300.8 L46.0 300.8 L46.8 300.8 L47.6 300.9 L48.4 301.0 L49.2 301.0 L50.0 301.1 L50.8 301.1 L51.6 301.0 L52.4 300.8 L53.2 300.7 L54.0 300.6 L54.8 300.5 L55.6 300.4 L56.4 300.4 L57.2 300.5 L58.0 300.5 L58.8 300.4 L59.6 300.2 L60.4 300.1 L61.2 300.2 L62.0 300.3 L62.8 300.4 L63.6 300.5 L64.4 300.6 L65.2 300.6 L66.0 300.5 L66.8 300.3 L67.6 300.2 L68.4 300.2 L69.2 300.2 L70.0 300.2 L70.8 300.1 L71.6 300.0 L72.4 299.9 L73.2 300.1 L74.0 300.3 L74.8 300.5 L75.6 300.6 L76.4 300.7 L77.2 300.7 L78.0 300.5 L78.8 300.4 L79.6 300.2 L80.4 300.2 L81.2 300.3 L82.0 300.3 L82.8 300.3 L83.6 300.2 L84.4 300.2 L85.2 300.4 L86.0 300.7 L86.8 300.8 L87.6 300.7 L88.4 300.5 L89.2 300.3 L90.1 300.4 L91.0 300.6 L91.6 300.7 L95.0 300.4 L95.3 300.3 L95.7 300.0 L96.2 299.7 L96.7 299.5 L97.3 299.2 L97.9 299.1 L98.6 299.0 L99.2 299.2 L99.9 299.7 L100.6 300.5 L101.4 301.5 L102.2 302.6 L103.0 303.6 L103.8 304.3 L104.6 304.7 L105.4 304.6 L106.2 303.7 L107.0 302.1 L107.8 300.1 L108.6 297.8 L109.3 295.7 L110.1 293.9 L110.8 292.7 L111.4 292.5 L112.0 293.4 L112.5 295.3 L112.9 297.9 L113.3 300.8 L113.7 303.8 L114.1 306.5 L114.5 308.5 L115.0 309.6 L115.5 309.7 L116.0 309.1 L116.5 308.0 L117.0 306.5 L117.5 304.9 L118.1 303.2 L118.6 301.8 L119.2 300.8 L119.8 300.0 L120.4 299.3 L121.0 298.7 L121.6 298.1 L122.2 297.7 L122.9 297.4 L123.7 297.3 L124.6 297.3 L125.6 297.6 L126.8 298.3 L128.0 299.1 L129.3 300.1 L130.7 301.1 L131.9 302.0 L133.1 302.7 L134.2 303.2 L135.1 303.4 L136.0 303.5 L136.8 303.5 L137.6 303.4 L138.3 303.2 L139.0 302.9 L139.7 302.7 L140.4 302.5 L141.1 302.3 L141.8 302.0 L142.4 301.7 L143.1 301.3 L143.7 301.0 L144.2 300.7 L144.7 300.4 L145.0 300.2 L146.6 300.4 L147.3 300.4 L148.2 300.4 L149.2 300.4 L150.1 300.5 L150.9 300.7 L151.8 300.8 L152.7 300.8 L153.5 300.7 L154.4 300.6 L155.3 300.5 L156.1 300.5 L157.0 300.4 L157.9 300.4 L158.7 300.3 L159.6 300.4 L160.5 300.7 L161.3 301.1 L162.2 301.3 L163.1 301.0 L163.9 300.6 L164.8 300.3 L165.7 300.4 L166.5 300.6 L167.4 300.7 L168.3 300.6 L169.1 300.4 L170.0 300.3 L170.9 300.2 L171.7 300.1 L172.6 300.0 L173.5 299.8 L174.3 299.5 L175.2 299.4 L176.1 299.4 L176.9 299.5 L177.8 299.7 L178.7 299.9 L179.5 300.1 L180.4 300.2 L181.3 300.4 L182.1 300.5 L183.0 300.5 L183.9 300.5 L184.7 300.4 L185.6 300.4 L186.5 300.5 L187.3 300.6 L188.2 300.7 L189.1 300.6 L189.9 300.4 L190.8 300.3 L191.7 300.3 L192.5 300.4 L193.4 300.5 L194.3 300.4 L195.1 300.3 L196.0 300.3 L196.9 300.4 L197.7 300.5 L198.6 300.5 L199.5 300.5 L200.3 300.5 L201.2 300.4 L202.1 300.2 L202.9 300.0 L203.8 299.9 L204.7 299.8 L205.5 299.7 L206.4 299.7 L207.3 299.7 L208.1 299.7 L209.0 299.7 L209.9 299.7 L210.7 299.7 L211.6 299.7 L212.5 299.6 L213.3 299.5 L214.2 299.5 L215.1 299.5 L215.9 299.6 L216.8 299.8 L217.7 299.9 L218.5 300.1 L219.4 300.2 L220.3 300.3 L221.1 300.4 L222.0 300.4 L222.9 300.5 L223.7 300.7 L224.6 300.7 L225.5 300.5 L226.3 300.3 L227.2 300.1 L228.1 300.0 L228.9 299.9 L229.8 299.9 L230.7 299.9 L231.5 299.9 L232.4 299.9 L233.3 299.9 L234.1 300.0 L235.0 300.0 L235.9 299.9 L236.7 299.7 L237.6 299.6 L238.5 299.8 L239.3 300.1 L240.2 300.3 L241.1 300.4 L241.9 300.4 L242.8 300.4 L243.7 300.5 L244.5 300.7 L245.4 300.9 L246.3 301.0 L247.1 301.0 L248.0 301.0 L248.9 300.9 L249.7 300.7 L250.6 300.6 L251.5 300.7 L252.3 300.9 L253.2 301.0 L254.1 300.8 L254.9 300.6 L255.8 300.4 L256.7 300.3 L257.5 300.2 L258.4 300.2 L259.3 300.3 L260.1 300.4 L261.0 300.6 L261.9 300.8 L262.7 301.1 L263.6 301.2 L264.5 301.1 L265.3 300.9 L266.2 300.7 L267.1 300.6 L267.9 300.5 L268.8 300.4 L269.7 300.2 L270.5 300.0 L271.4 300.0 L272.3 300.2 L273.1 300.6 L274.0 300.8 L274.9 300.8 L275.7 300.7 L276.6 300.7 L277.5 300.7 L278.3 300.8 L279.2 300.9 L280.1 301.0 L280.9 301.1 L281.8 301.1 L282.7 301.2 L283.5 301.2 L284.4 301.2 L285.3 301.0 L286.1 300.7 L287.0 300.5 L287.9 300.5 L288.7 300.6 L289.6 300.7 L290.5 300.9 L291.3 301.0 L292.2 301.1 L293.1 301.0 L293.9 300.7 L294.8 300.6 L295.8 300.6 L296.7 300.6 L297.4 300.6"/>
<path stroke="#646464" d="M38.8 317.6 L39.4 317.6 L40.3 317.7 L41.2 317.7 L42.0 317.7 L42.8 317.6 L43.6 317.6 L44.4 317.6 L45.2 317.7 L46.0 317.8 L46.8 317.7 L47.6 317.7 L48.4 317.6 L49.2 317.6 L50.0 317.7 L50.8 317.7 L51.6 317.6 L52.4 317.6 L53.2 317.6 L54.0 317.5 L54.8 317.5 L55.6 317.4 L56.4 317.3 L57.2 317.1 L58.0 317.0 L58.8 317.2 L59.6 317.4 L60.4 317.6 L61.2 317.6 L62.0 317.6 L62.8 317.6 L63.6 317.6 L64.4 317.6 L65.2 317.6 L66.0 317.6 L66.8 317.7 L67.6 317.7 L68.4 317.7 L69.2 317.6 L70.0 317.6 L70.8 317.7 L71.6 317.9 L72.4 318.0 L73.2 317.9 L74.0 317.7 L74.8 317.6 L75.6 317.7 L76.4 317.9 L77.2 318.0 L78.0 317.9 L78.8 317.7 L79.6 317.6 L80.4 317.5 L81.2 317.5 L82.0 317.4 L82.8 317.3 L83.6 317.3 L84.4 317.2 L85.2 317.3 L86.0 317.5 L86.8 317.6 L87.6 317.5 L88.4 317.3 L89.2 317.2 L90.1 317.4 L91.0 317.6 L91.6 317.8 L95.0 318.2 L95.3 318.3 L95.6 318.5 L96.1 318.7 L96.6 318.9 L97.1 319.1 L97.6 319.2 L98.2 319.2 L98.8 319.1 L99.3 318.8 L99.8 318.2 L100.4 317.6 L101.0 316.9 L101.6 316.2 L102.2 315.7 L103.0 315.3 L103.8 315.3 L104.7 315.7 L105.7 316.5 L106.8 317.6 L107.9 318.8 L109.0 319.9 L110.1 320.8 L111.2 321.3 L112.1 321.3 L112.9 320.5 L113.7 319.0 L114.5 317.0 L115.2 314.8 L115.8 312.7 L116.5 311.0 L117.1 309.9 L117.7 309.7 L118.2 310.6 L118.7 312.6 L119.1 315.2 L119.5 318.2 L119.9 321.2 L120.4 323.8 L121.0 325.7 L121.8 326.6 L122.7 326.3 L123.8 325.2 L125.1 323.3 L126.3 321.1 L127.6 318.9 L128.9 316.7 L130.1 315.1 L131.2 314.1 L132.2 313.8 L133.2 314.1 L134.1 314.6 L134.9 315.4 L135.8 316.2 L136.6 317.1 L137.5 317.8 L138.3 318.2 L139.2 318.5 L140.2 318.7 L141.1 318.7 L142.1 318.8 L143.0 318.8 L143.8 318.8 L144.5 318.8 L145.0 318.8 L146.6 317.6 L147.3 317.7 L148.2 317.8 L149.2 317.8 L150.1 317.8 L150.9 317.6 L151.8 317.6 L152.7 317.6 L153.5 317.7 L154.4 317.8 L155.3 317.8 L156.1 317.7 L157.0 317.7 L157.9 317.6 L158.7 317.6 L159.6 317.6 L160.5 317.4 L161.3 317.3 L162.2 317.2 L163.1 317.2 L163.9 317.3 L164.8 317.3 L165.7 317.1 L166.5 316.9 L167.4 316.7 L168.3 316.8 L169.1 317.0 L170.0 317.1 L170.9 317.1 L171.7 317.0 L172.6 317.0 L173.5 317.0 L174.3 317.1 L175.2 317.2 L176.1 317.5 L176.9 317.7 L177.8 317.9 L178.7 317.7 L179.5 317.5 L180.4 317.3 L181.3 317.4 L182.1 317.6 L183.0 317.7 L183.9 317.6 L184.7 317.3 L185.6 317.2 L186.5 317.2 L187.3 317.3 L188.2 317.4 L189.1 317.4 L189.9 317.5 L190.8 317.5 L191.7 317.5 L192.5 317.6 L193.4 317.6 L194.3 317.7 L195.1 317.7 L196.0 317.7 L196.9 317.7 L197.7 317.7 L198.6 317.7 L199.5 317.7 L200.3 317.7 L201.2 317.8 L202.1 318.0 L202.9 318.2 L203.8 318.4 L204.7 318.4 L205.5 318.3 L206.4 318.1 L207.3 317.9 L208.1 317.6 L209.0 317.5 L209.9 317.5 L210.7 317.7 L211.6 317.8 L212.5 317.9 L213.3 317.8 L214.2 317.9 L215.1 318.0 L215.9 318.2 L216.8 318.3 L217.7 318.2 L218.5 317.9 L219.4 317.7 L220.3 317.6 L221.1 317.5 L222.0 317.5 L222.9 317.6 L223.7 317.7 L224.6 317.8 L225.5 317.9 L226.3 318.0 L227.2 318.0 L228.1 317.9 L228.9 317.7 L229.8 317.6 L230.7 317.7 L231.5 317.8 L232.4 317.9 L233.3 317.9 L234.1 318.0 L235.0 317.9 L235.9 317.7 L236.7 317.4 L237.6 317.3 L238.5 317.4 L239.3 317.6 L240.2 317.8 L241.1 317.9 L241.9 318.1 L242.8 318.1 L243.7 317.9 L244.5 317.6 L245.4 317.3 L246.3 317.3 L247.1 317.4 L248.0 317.4 L248.9 317.1 L249.7 316.8 L250.6 316.6 L251.5 316.8 L252.3 317.1 L253.2 317.3 L254.1 317.3 L254.9 317.1 L255.8 317.0 L256.7 317.1 L257.5 317.2 L258.4 317.2 L259.3 317.2 L260.1 317.1 L261.0 317.0 L261.9 317.0 L262.7 317.0 L263.6 317.0 L264.5 317.2 L265.3 317.5 L266.2 317.7 L267.1 317.7 L267.9 317.6 L268.8 317.6 L269.7 317.6 L270.5 317.6 L271.4 317.6 L272.3 317.6 L273.1 317.6 L274.0 317.5 L274.9 317.3 L275.7 317.1 L276.6 316.9 L277.5 316.8 L278.3 316.8 L279.2 316.8 L280.1 317.0 L280.9 317.2 L281.8 317.4 L282.7 317.5 L283.5 317.4 L284.4 317.4 L285.3 317.2 L286.1 317.0 L287.0 316.9 L287.9 317.1 L288.7 317.4 L289.6 317.7 L290.5 317.7 L291.3 317.7 L292.2 317.6 L293.1 317.5 L293.9 317.3 L294.8 317.2 L295.8 317.2 L296.7 317.3 L297.4 317.4"/>
<path stroke="#646464" d="M38.8 334.4 L39.4 334.4 L40.3 334.4 L41.2 334.4 L42.0 334.4 L42.8 334.4 L43.6 334.4 L44.4 334.6 L45.2 334.8 L46.0 334.9 L46.8 334.8 L47.6 334.5 L48.4 334.4 L49.2 334.4 L50.0 334.4 L50.8 334.4 L51.6 334.4 L52.4 334.4 L53.2 334.4 L54.0 334.5 L54.8 334.5 L55.6 334.6 L56.4 334.5 L57.2 334.5 L58.0 334.4 L58.8 334.4 L59.6 334.5 L60.4 334.5 L61.2 334.6 L62.0 334.7 L62.8 334.8 L63.6 334.8 L64.4 334.7 L65.2 334.7 L66.0 334.5 L66.8 334.3 L67.6 334.1 L68.4 334.0 L69.2 334.0 L70.0 334.0 L70.8 334.0 L71.6 334.2 L72.4 334.2 L73.2 334.3 L74.0 334.3 L74.8 334.4 L75.6 334.5 L76.4 334.7 L77.2 334.8 L78.0 334.9 L78.8 334.9 L79.6 334.9 L80.4 335.0 L81.2 335.0 L82.0 335.0 L82.8 334.9 L83.6 334.7 L84.4 334.5 L85.2 334.5 L86.0 334.5 L86.8 334.6 L87.6 334.7 L88.4 334.8 L89.2 334.8 L90.1 334.7 L91.0 334.5 L91.6 334.4 L95.0 335.0 L95.2 335.0 L95.6 335.0 L95.9 335.0 L96.4 335.0 L96.8 335.0 L97.3 335.0 L97.8 334.9 L98.3 334.8 L98.8 334.6 L99.3 334.2 L99.9 333.7 L100.5 333.3 L101.1 332.9 L101.7 332.6 L102.3 332.4 L102.9 332.5 L103.5 333.0 L104.1 333.8 L104.7 334.9 L105.3 336.0 L105.9 337.1 L106.6 337.9 L107.2 338.4 L107.9 338.3 L108.6 337.5 L109.4 335.9 L110.2 333.9 L111.0 331.7 L111.8 329.6 L112.6 327.8 L113.3 326.7 L114.0 326.5 L114.5 327.5 L115.0 329.5 L115.4 332.2 L115.8 335.2 L116.1 338.2 L116.5 340.9 L117.1 342.9 L117.7 343.8 L118.5 343.6 L119.4 342.4 L120.3 340.6 L121.4 338.5 L122.4 336.2 L123.5 334.1 L124.5 332.4 L125.4 331.3 L126.3 330.9 L127.1 330.8 L128.0 331.0 L128.8 331.5 L129.6 332.0 L130.5 332.6 L131.3 333.2 L132.1 333.6 L132.9 334.0 L133.8 334.5 L134.6 334.9 L135.5 335.4 L136.3 335.9 L137.1 336.3 L137.9 336.7 L138.8 336.9 L139.6 337.0 L140.5 337.0 L141.4 336.9 L142.3 336.7 L143.1 336.5 L143.9 336.3 L144.5 336.2 L145.0 336.1 L146.6 335.0 L147.3 334.9 L148.2 334.8 L149.2 334.7 L150.1 334.6 L150.9 334.6 L151.8 334.6 L152.7 334.5 L153.5 334.4 L154.4 334.3 L155.3 334.2 L156.1 334.3 L157.0 334.3 L157.9 334.2 L158.7 334.1 L159.6 334.0 L160.5 333.9 L161.3 333.7 L162.2 333.6 L163.1 333.6 L163.9 333.7 L164.8 333.8 L165.7 333.8 L166.5 333.8 L167.4 333.9 L168.3 334.0 L169.1 334.2 L170.0 334.4 L170.9 334.5 L171.7 334.5 L172.6 334.5 L173.5 334.8 L174.3 335.2 L175.2 335.3 L176.1 335.1 L176.9 334.7 L177.8 334.4 L178.7 334.5 L179.5 334.6 L180.4 334.7 L181.3 334.6 L182.1 334.5 L183.0 334.4 L183.9 334.2 L184.7 334.1 L185.6 334.0 L186.5 334.0 L187.3 334.2 L188.2 334.2 L189.1 334.2 L189.9 334.2 L190.8 334.2 L191.7 334.2 L192.5 334.3 L193.4 334.5 L194.3 334.8 L195.1 335.1 L196.0 335.4 L196.9 335.4 L197.7 335.4 L198.6 335.3 L199.5 335.2 L200.3 335.0 L201.2 334.8 L202.1 334.9 L202.9 335.0 L203.8 335.0 L204.7 335.0 L205.5 335.0 L206.4 335.0 L207.3 335.1 L208.1 335.3 L209.0 335.4 L209.9 335.3 L210.7 335.2 L211.6 335.1 L212.5 334.8 L213.3 334.5 L214.2 334.3 L215.1 334.4 L215.9 334.5 L216.8 334.6 L217.7 334.6 L218.5 334.5 L219.4 334.5 L220.3 334.5 L221.1 334.5 L222.0 334.7 L222.9 334.9 L223.7 335.1 L224.6 335.3 L225.5 335.3 L226.3 335.2 L227.2 335.0 L228.1 334.8 L228.9 334.6 L229.8 334.5 L230.7 334.5 L231.5 334.5 L232.4 334.6 L233.3 334.6 L234.1 334.5 L235.0 334.5 L235.9 334.5 L236.7 334.4 L237.6 334.3 L238.5 334.1 L239.3 333.9 L240.2 333.7 L241.1 333.7 L241.9 333.7 L242.8 333.8 L243.7 334.0 L244.5 334.3 L245.4 334.4 L246.3 334.5 L247.1 334.4 L248.0 334.3 L248.9 334.2 L249.7 334.1 L250.6 334.0 L251.5 333.9 L252.3 333.9 L253.2 333.8 L254.1 333.8 L254.9 333.7 L255.8 333.6 L256.7 333.6 L257.5 333.5 L258.4 333.5 L259.3 333.6 L260.1 333.6 L261.0 333.7 L261.9 333.8 L262.7 334.0 L263.6 334.1 L264.5 334.1 L265.3 334.0 L266.2 334.0 L267.1 334.1 L267.9 334.2 L268.8 334.2 L269.7 334.0 L270.5 333.8 L271.4 333.7 L272.3 333.7 L273.1 333.9 L274.0 334.1 L274.9 334.2 L275.7 334.4 L276.6 334.4 L277.5 334.3 L278.3 334.2 L279.2 334.0 L280.1 334.0 L280.9 333.9 L281.8 333.9 L282.7 333.9 L283.5 333.9 L284.4 333.9 L285.3 333.9 L286.1 333.8 L287.0 333.8 L287.9 333.6 L288.7 333.5 L289.6 333.4 L290.5 333.5 L291.3 333.7 L292.2 333.9 L293.1 334.0 L293.9 334.0 L294.8 334.1 L295.8 334.0 L296.7 333.9 L297.4 333.8"/>
<path stroke="#646464" d="M38.8 351.6 L39.4 351.6 L40.3 351.6 L41.2 351.5 L42.0 351.5 L42.8 351.5 L43.6 351.4 L44.4 351.3 L45.2 351.0 L46.0 350.9 L46.8 350.8 L47.6 350.8 L48.4 350.8 L49.2 350.8 L50.0 350.8 L50.8 350.8 L51.6 350.9 L52.4 350.9 L53.2 351.0 L54.0 351.0 L54.8 351.1 L55.6 351.2 L56.4 351.3 L57.2 351.5 L58.0 351.6 L58.8 351.5 L59.6 351.3 L60.4 351.2 L61.2 351.2 L62.0 351.3 L62.8 351.4 L63.6 351.4 L64.4 351.3 L65.2 351.3 L66.0 351.5 L66.8 351.7 L67.6 351.8 L68.4 351.8 L69.2 351.7 L70.0 351.7 L70.8 351.7 L71.6 351.8 L72.4 351.9 L73.2 351.8 L74.0 351.7 L74.8 351.7 L75.6 351.8 L76.4 352.0 L77.2 352.1 L78.0 352.0 L78.8 351.8 L79.6 351.7 L80.5 351.7 L81.4 351.8 L82.0 351.8 L85.0 351.8 L85.4 351.9 L85.9 352.2 L86.5 352.5 L87.1 352.7 L87.8 353.0 L88.6 353.2 L89.3 353.3 L90.0 353.3 L90.7 353.1 L91.4 352.7 L92.2 352.2 L92.9 351.6 L93.6 351.1 L94.4 350.6 L95.1 350.4 L95.8 350.3 L96.5 350.6 L97.1 351.2 L97.7 352.0 L98.3 352.9 L98.9 353.7 L99.5 354.4 L100.1 354.7 L100.8 354.5 L101.5 353.6 L102.2 352.1 L102.9 350.2 L103.7 348.1 L104.4 346.1 L105.2 344.5 L105.8 343.4 L106.5 343.3 L107.1 344.3 L107.7 346.2 L108.2 348.8 L108.7 351.7 L109.3 354.7 L109.8 357.4 L110.3 359.4 L110.8 360.6 L111.3 360.8 L111.8 360.3 L112.3 359.3 L112.8 358.0 L113.3 356.5 L113.9 355.0 L114.4 353.7 L115.0 352.7 L115.6 351.9 L116.2 351.1 L116.9 350.4 L117.6 349.7 L118.3 349.1 L119.0 348.6 L119.7 348.3 L120.4 348.1 L121.2 348.1 L121.9 348.4 L122.8 348.8 L123.6 349.3 L124.4 349.9 L125.2 350.5 L126.0 351.0 L126.7 351.4 L127.4 351.7 L128.0 352.1 L128.7 352.4 L129.3 352.7 L129.9 353.0 L130.5 353.2 L131.1 353.4 L131.7 353.5 L132.4 353.5 L133.1 353.5 L133.9 353.3 L134.7 353.2 L135.4 353.0 L136.0 352.8 L136.6 352.7 L137.0 352.6 L138.6 351.3 L139.3 351.2 L140.2 351.2 L141.2 351.1 L142.1 351.0 L142.9 350.9 L143.8 350.9 L144.7 351.0 L145.5 351.2 L146.4 351.4 L147.3 351.5 L148.1 351.6 L149.0 351.7 L149.9 351.6 L150.7 351.5 L151.6 351.5 L152.5 351.6 L153.3 351.8 L154.2 352.0 L155.1 352.0 L155.9 352.0 L156.8 351.9 L157.7 351.8 L158.5 351.6 L159.4 351.6 L160.3 351.7 L161.1 351.9 L162.0 352.0 L162.9 351.9 L163.7 351.7 L164.6 351.5 L165.5 351.3 L166.3 351.1 L167.2 351.0 L168.1 351.2 L168.9 351.5 L169.8 351.8 L170.7 351.7 L171.5 351.6 L172.4 351.5 L173.3 351.7 L174.1 352.0 L175.0 352.3 L175.9 352.4 L176.7 352.4 L177.6 352.4 L178.5 352.4 L179.3 352.5 L180.2 352.5 L181.1 352.4 L181.9 352.2 L182.8 352.2 L183.7 352.2 L184.5 352.4 L185.4 352.5 L186.3 352.5 L187.1 352.3 L188.0 352.3 L188.9 352.4 L189.7 352.5 L190.6 352.6 L191.5 352.6 L192.3 352.5 L193.2 352.5 L194.1 352.6 L194.9 352.9 L195.8 353.1 L196.7 353.0 L197.5 352.8 L198.4 352.6 L199.3 352.3 L200.1 352.0 L201.0 351.7 L201.9 351.6 L202.7 351.6 L203.6 351.6 L204.5 351.7 L205.3 351.9 L206.2 352.0 L207.1 352.0 L207.9 352.0 L208.8 351.9 L209.7 351.9 L210.5 351.8 L211.4 351.8 L212.3 351.8 L213.1 351.9 L214.0 351.9 L214.9 352.1 L215.7 352.3 L216.6 352.3 L217.5 352.1 L218.3 351.8 L219.2 351.6 L220.1 351.7 L220.9 352.0 L221.8 352.1 L222.7 352.0 L223.5 351.8 L224.4 351.7 L225.3 351.8 L226.1 352.0 L227.0 352.1 L227.9 351.9 L228.7 351.6 L229.6 351.4 L230.5 351.1 L231.3 350.8 L232.2 350.7 L233.1 350.8 L233.9 351.0 L234.8 351.2 L235.7 351.3 L236.5 351.4 L237.4 351.4 L238.3 351.3 L239.1 351.1 L240.0 351.1 L240.9 351.1 L241.7 351.3 L242.6 351.4 L243.5 351.4 L244.3 351.3 L245.2 351.2 L246.1 351.0 L246.9 350.9 L247.8 350.8 L248.7 350.9 L249.5 351.0 L250.4 351.2 L251.3 351.3 L252.1 351.5 L253.0 351.6 L253.9 351.5 L254.7 351.3 L255.6 351.2 L256.5 351.1 L257.3 351.1 L258.2 351.0 L259.1 350.8 L259.9 350.5 L260.8 350.4 L261.7 350.6 L262.5 350.8 L263.4 351.0 L264.3 351.1 L265.1 351.2 L266.0 351.2 L266.9 351.3 L267.7 351.4 L268.6 351.4 L269.5 351.3 L270.3 351.2 L271.2 351.1 L272.1 351.2 L272.9 351.4 L273.8 351.5 L274.7 351.6 L275.5 351.6 L276.4 351.7 L277.3 351.8 L278.1 351.8 L279.0 351.8 L279.9 351.8 L280.7 351.7 L281.6 351.6 L282.5 351.7 L283.3 351.8 L284.2 351.9 L285.1 351.9 L285.9 351.8 L286.8 351.7 L287.7 351.5 L288.5 351.3 L289.4 351.2 L290.3 351.0 L291.1 351.0 L292.0 351.0 L292.9 351.1 L293.7 351.2 L294.6 351.3 L295.6 351.4 L296.5 351.5 L297.2 351.5"/>
<path stroke="#646464" d="M38.8 368.7 L39.4 368.5 L40.3 368.4 L41.2 368.3 L42.0 368.4 L42.8 368.5 L43.6 368.5 L44.4 368.5 L45.2 368.4 L46.0 368.3 L46.8 368.2 L47.6 368.2 L48.4 368.2 L49.2 368.2 L50.0 368.3 L50.8 368.4 L51.6 368.4 L52.4 368.5 L53.2 368.5 L54.0 368.6 L54.8 368.7 L55.6 368.7 L56.4 368.6 L57.2 368.5 L58.0 368.3 L58.8 368.3 L59.6 368.3 L60.4 368.3 L61.2 368.3 L62.0 368.4 L62.8 368.4 L63.6 368.5 L64.4 368.6 L65.2 368.6 L66.0 368.6 L66.8 368.4 L67.6 368.3 L68.4 368.2 L69.2 368.1 L70.0 368.2 L70.8 368.4 L71.6 368.8 L72.4 369.0 L73.2 368.9 L74.0 368.7 L74.8 368.5 L75.6 368.3 L76.4 368.2 L77.2 368.1 L78.0 368.2 L78.8 368.4 L79.6 368.5 L80.5 368.5 L81.4 368.3 L82.0 368.3 L85.0 369.7 L85.3 369.6 L85.7 369.4 L86.2 369.2 L86.8 369.0 L87.4 368.8 L88.0 368.6 L88.6 368.5 L89.2 368.4 L89.8 368.4 L90.4 368.6 L90.9 368.8 L91.5 369.0 L92.2 369.2 L92.8 369.4 L93.5 369.4 L94.2 369.4 L95.0 369.2 L95.8 368.8 L96.6 368.3 L97.5 367.7 L98.4 367.2 L99.3 366.8 L100.1 366.6 L100.9 366.6 L101.7 366.9 L102.4 367.6 L103.2 368.5 L104.0 369.4 L104.7 370.4 L105.4 371.2 L106.0 371.7 L106.6 371.9 L107.2 371.7 L107.7 371.3 L108.1 370.6 L108.6 369.8 L109.0 368.9 L109.4 368.0 L109.8 367.1 L110.1 366.3 L110.4 365.4 L110.6 364.3 L110.8 363.1 L111.0 362.0 L111.2 361.0 L111.4 360.3 L111.7 360.1 L112.0 360.5 L112.4 361.7 L112.9 363.7 L113.4 366.3 L114.0 369.2 L114.5 372.0 L115.1 374.5 L115.7 376.5 L116.2 377.6 L116.7 377.8 L117.2 377.4 L117.6 376.5 L118.1 375.2 L118.5 373.8 L119.0 372.4 L119.6 371.1 L120.2 370.1 L120.9 369.3 L121.6 368.4 L122.4 367.6 L123.2 366.7 L124.0 366.0 L124.9 365.5 L125.7 365.1 L126.5 364.9 L127.3 365.0 L128.2 365.5 L129.0 366.1 L129.9 366.9 L130.7 367.7 L131.5 368.5 L132.3 369.1 L133.0 369.5 L133.6 369.7 L134.3 369.8 L134.9 369.8 L135.4 369.7 L135.9 369.6 L136.3 369.4 L136.7 369.3 L137.0 369.3 L138.6 368.4 L139.3 368.4 L140.2 368.4 L141.2 368.5 L142.1 368.6 L142.9 368.8 L143.8 369.0 L144.7 369.1 L145.5 369.1 L146.4 369.1 L147.3 369.1 L148.1 369.1 L149.0 369.1 L149.9 369.1 L150.7 369.1 L151.6 369.0 L152.5 368.8 L153.3 368.5 L154.2 368.3 L155.1 368.4 L155.9 368.6 L156.8 368.8 L157.7 368.8 L158.5 368.7 L159.4 368.7 L160.3 368.6 L161.1 368.4 L162.0 368.4 L162.9 368.4 L163.7 368.4 L164.6 368.4 L165.5 368.5 L166.3 368.6 L167.2 368.6 L168.1 368.5 L168.9 368.3 L169.8 368.2 L170.7 368.2 L171.5 368.2 L172.4 368.2 L173.3 368.5 L174.1 368.9 L175.0 369.0 L175.9 368.8 L176.7 368.5 L177.6 368.2 L178.5 368.3 L179.3 368.4 L180.2 368.5 L181.1 368.5 L181.9 368.5 L182.8 368.4 L183.7 368.3 L184.5 368.1 L185.4 368.0 L186.3 367.9 L187.1 367.9 L188.0 368.0 L188.9 368.1 L189.7 368.2 L190.6 368.3 L191.5 368.4 L192.3 368.5 L193.2 368.5 L194.1 368.5 L194.9 368.4 L195.8 368.4 L196.7 368.5 L197.5 368.5 L198.4 368.5 L199.3 368.3 L200.1 368.1 L201.0 367.9 L201.9 368.0 L202.7 368.2 L203.6 368.4 L204.5 368.5 L205.3 368.5 L206.2 368.6 L207.1 368.5 L207.9 368.5 L208.8 368.5 L209.7 368.6 L210.5 368.7 L211.4 368.7 L212.3 368.6 L213.1 368.4 L214.0 368.3 L214.9 368.3 L215.7 368.3 L216.6 368.4 L217.5 368.3 L218.3 368.3 L219.2 368.4 L220.1 368.6 L220.9 368.8 L221.8 368.9 L222.7 369.0 L223.5 369.0 L224.4 369.0 L225.3 368.7 L226.1 368.4 L227.0 368.2 L227.9 368.1 L228.7 368.0 L229.6 368.0 L230.5 368.1 L231.3 368.3 L232.2 368.4 L233.1 368.5 L233.9 368.5 L234.8 368.4 L235.7 368.2 L236.5 367.9 L237.4 367.8 L238.3 367.9 L239.1 368.2 L240.0 368.4 L240.9 368.5 L241.7 368.4 L242.6 368.4 L243.5 368.4 L244.3 368.4 L245.2 368.4 L246.1 368.6 L246.9 368.9 L247.8 369.0 L248.7 368.9 L249.5 368.7 L250.4 368.5 L251.3 368.5 L252.1 368.6 L253.0 368.7 L253.9 368.7 L254.7 368.7 L255.6 368.7 L256.5 368.6 L257.3 368.5 L258.2 368.4 L259.1 368.6 L259.9 368.8 L260.8 368.8 L261.7 368.6 L262.5 368.3 L263.4 368.1 L264.3 367.9 L265.1 367.8 L266.0 367.8 L266.9 367.9 L267.7 368.1 L268.6 368.2 L269.5 368.2 L270.3 368.2 L271.2 368.2 L272.1 368.2 L272.9 368.2 L273.8 368.2 L274.7 368.1 L275.5 368.2 L276.4 368.2 L277.3 368.3 L278.1 368.4 L279.0 368.5 L279.9 368.4 L280.7 368.2 L281.6 368.1 L282.5 368.1 L283.3 368.1 L284.2 368.3 L285.1 368.4 L285.9 368.7 L286.8 368.9 L287.7 368.9 L288.5 369.0 L289.4 369.0 L290.3 369.0 L291.1 369.1 L292.0 369.0 L292.9 368.9 L293.7 368.7 L294.6 368.5 L295.6 368.5 L296.5 368.6 L297.2 368.6"/>
</g>
<g fill="none" stroke-width="0.85" stroke-linejoin="miter" stroke-miterlimit="10">
<path stroke="#6f7b2b" d="M332.0 119.5 L335.7 117.0 L339.4 108.5 L343.1 114.0 L346.8 115.0 L350.5 110.9 L354.2 92.0 L358.0 62.9 L361.8 38.0 L364.5 24.3 L366.1 38.0 L369.5 56.2 L373.3 62.0 L377.0 58.0 L380.7 66.0 L384.4 72.0 L388.1 64.0 L391.8 80.0 L395.5 96.0 L399.2 90.0 L403.8 81.0 L407.5 88.0 L411.2 87.5 L414.9 95.9 L418.7 91.9 L422.4 92.0 L426.1 102.2 L429.8 102.4 L433.5 103.5 L437.3 108.9 L441.0 107.4 L444.7 103.2 L448.4 102.9 L452.1 107.2 L455.9 107.2 L459.6 104.6 L463.3 107.6 L467.0 109.1 L470.7 110.3 L474.5 111.1 L478.2 112.3 L481.9 112.1 L485.6 111.4 L489.3 110.2 L493.1 114.3 L496.8 114.0 L500.5 115.3 L504.2 115.8 L507.9 117.8 L511.7 117.9 L515.4 118.4 L519.1 118.2 L522.8 119.7 L526.5 119.4 L530.3 117.9 L534.0 117.8 L537.7 118.3 L541.4 117.5 L545.1 117.5 L548.9 115.5 L552.6 117.2 L556.3 118.8 L560.0 119.9 L563.7 119.9 L567.5 117.6 L571.2 118.0 L574.9 118.2 L578.6 117.0 L582.3 117.0 L586.1 117.6 L589.8 116.3 L592.7 117.8"/>
<path stroke="#6f7b2b" d="M332.0 120.0 L335.7 116.0 L339.4 113.0 L343.1 116.5 L346.8 113.0 L350.5 108.9 L354.2 95.0 L357.3 81.0 L361.0 76.0 L364.7 70.0 L368.4 78.0 L372.1 64.0 L375.7 56.2 L378.1 38.0 L382.5 28.6 L385.8 38.0 L389.6 57.1 L393.0 80.0 L396.5 102.0 L400.0 96.0 L406.0 81.6 L410.0 94.0 L413.7 97.9 L417.4 93.4 L421.2 97.2 L424.9 100.8 L428.6 105.0 L432.3 106.5 L436.0 99.9 L439.8 104.5 L443.5 101.8 L447.2 105.6 L450.9 108.9 L454.6 110.2 L458.4 112.1 L462.1 117.1 L465.8 110.6 L469.5 112.5 L473.2 109.6 L477.0 115.9 L480.7 112.6 L484.4 117.0 L488.1 114.3 L491.8 117.5 L495.6 116.8 L499.3 114.5 L503.0 116.8 L506.7 116.3 L510.4 114.1 L514.2 115.6 L517.9 116.8 L521.6 114.8 L525.3 115.7 L529.0 116.9 L532.8 118.6 L536.5 117.6 L540.2 117.8 L543.9 118.1 L547.6 116.1 L551.4 118.1 L555.1 115.9 L558.8 118.1 L562.5 118.4 L566.2 115.5 L570.0 118.8 L573.7 115.8 L577.4 117.5 L581.1 116.6 L584.8 117.8 L588.6 118.0 L592.7 116.7"/>
<path stroke="#6f7b2b" d="M332.0 120.0 L335.7 118.0 L339.4 115.0 L343.1 117.0 L346.8 116.0 L350.5 112.0 L353.0 111.0 L355.8 100.0 L358.5 92.0 L361.7 84.0 L364.7 59.8 L368.9 65.8 L372.5 59.8 L375.2 56.2 L378.5 50.0 L381.9 46.6 L383.8 50.4 L387.0 62.0 L390.5 70.0 L393.5 88.0 L397.0 98.0 L400.5 92.0 L404.5 85.0 L408.0 95.0 L411.5 90.4 L415.0 100.0 L418.7 88.2 L422.5 102.0 L426.4 114.1 L430.2 97.0 L433.9 98.8 L437.6 108.4 L441.4 107.4 L445.1 103.9 L448.8 105.2 L452.5 110.3 L456.2 107.6 L460.0 109.2 L463.7 109.4 L467.4 112.0 L471.1 106.6 L474.8 109.3 L478.6 108.5 L482.3 110.8 L486.0 116.4 L489.7 113.7 L493.4 115.1 L497.2 114.8 L500.9 118.3 L504.6 116.2 L508.3 119.7 L512.0 118.2 L515.8 118.2 L519.5 118.4 L523.2 119.9 L526.9 118.4 L530.6 117.2 L534.4 119.3 L538.1 118.8 L541.8 118.9 L545.5 119.9 L549.2 119.9 L553.0 119.9 L556.7 118.9 L560.4 119.9 L564.1 119.9 L567.8 119.8 L571.6 118.9 L575.3 117.3 L579.0 117.1 L582.7 116.5 L586.4 118.4 L590.2 119.6 L592.7 119.9"/>
<path stroke="#6f7b2b" d="M332.0 120.0 L335.7 117.5 L339.4 112.0 L343.1 113.5 L346.8 117.0 L350.5 114.0 L353.5 96.0 L356.3 72.0 L358.8 84.0 L361.4 80.0 L365.0 72.0 L367.6 57.1 L371.0 60.0 L374.5 66.0 L378.0 60.0 L381.5 58.0 L384.5 60.0 L386.7 61.0 L389.6 49.5 L394.4 66.7 L397.5 82.0 L401.0 88.0 L407.1 82.7 L411.0 96.0 L414.7 98.0 L418.4 98.1 L422.2 94.4 L425.9 104.8 L429.6 103.8 L433.3 108.6 L437.0 109.5 L440.8 108.8 L444.5 106.9 L448.2 106.4 L451.9 108.5 L455.6 112.4 L459.4 114.9 L463.1 114.7 L466.8 116.6 L470.5 110.6 L474.2 113.7 L478.0 109.0 L481.7 114.4 L485.4 111.2 L489.1 114.0 L492.8 115.9 L496.6 113.5 L500.3 114.2 L504.0 112.9 L507.7 116.5 L511.4 117.2 L515.2 117.8 L518.9 115.1 L522.6 113.8 L526.3 114.2 L530.0 115.0 L533.8 117.5 L537.5 117.3 L541.2 114.6 L544.9 115.3 L548.6 116.3 L552.4 116.2 L556.1 118.2 L559.8 118.2 L563.5 119.4 L567.2 119.9 L571.0 119.5 L574.7 117.8 L578.4 118.7 L582.1 119.9 L585.8 119.1 L589.6 117.9 L592.7 119.6"/>
<path stroke="#6f7b2b" d="M332.0 120.0 L335.7 116.0 L339.4 114.0 L343.1 112.0 L346.8 114.0 L350.5 115.0 L354.0 113.0 L357.0 103.0 L360.9 109.4 L363.4 100.0 L366.0 95.5 L369.6 94.5 L372.3 96.0 L375.3 98.0 L376.8 89.3 L380.0 80.0 L383.0 82.7 L386.5 70.0 L390.0 62.0 L392.5 72.0 L395.0 104.2 L401.0 105.8 L405.0 98.0 L411.5 111.3 L416.0 104.0 L419.7 106.6 L423.4 101.4 L427.2 103.9 L430.9 103.3 L434.6 102.5 L438.3 102.6 L442.0 100.6 L445.8 100.8 L449.5 105.4 L453.2 103.8 L456.9 106.2 L460.6 105.5 L464.4 107.1 L468.1 109.7 L471.8 110.5 L475.5 115.9 L479.2 111.2 L483.0 111.9 L486.7 114.9 L490.4 111.3 L494.1 112.3 L497.8 113.0 L501.6 112.0 L505.3 113.8 L509.0 116.2 L512.7 113.9 L516.4 116.3 L520.2 119.1 L523.9 117.5 L527.6 119.9 L531.3 117.9 L535.0 119.0 L538.8 117.7 L542.5 119.5 L546.2 118.8 L549.9 119.1 L553.6 119.0 L557.4 117.1 L561.1 119.4 L564.8 117.1 L568.5 118.8 L572.2 117.4 L576.0 118.3 L579.7 117.5 L583.4 118.3 L587.1 117.9 L590.8 118.9 L592.7 118.8"/>
<path stroke="#6f7b2b" d="M332.0 120.0 L335.7 118.5 L339.4 116.0 L343.1 114.0 L346.8 116.0 L350.5 113.0 L353.0 104.0 L356.0 92.0 L359.0 88.0 L361.5 96.0 L364.0 90.0 L366.8 72.0 L369.5 70.0 L371.6 67.8 L373.3 69.6 L376.3 90.4 L379.5 78.0 L382.5 68.0 L385.0 63.0 L388.0 58.0 L391.0 62.0 L393.4 105.3 L396.5 104.0 L399.5 102.5 L403.0 94.0 L407.0 100.0 L410.7 101.9 L414.4 102.5 L418.2 103.3 L421.9 101.2 L425.6 102.4 L429.3 105.2 L433.0 108.7 L436.8 107.1 L440.5 106.1 L444.2 102.2 L447.9 107.0 L451.6 108.6 L455.4 106.0 L459.1 109.3 L462.8 114.6 L466.5 116.0 L470.2 112.4 L474.0 113.4 L477.7 110.3 L481.4 112.2 L485.1 111.8 L488.8 111.7 L492.6 113.9 L496.3 112.0 L500.0 115.1 L503.7 112.5 L507.4 114.8 L511.2 114.8 L514.9 114.6 L518.6 116.1 L522.3 117.5 L526.0 118.1 L529.8 117.8 L533.5 119.6 L537.2 119.5 L540.9 115.7 L544.6 116.0 L548.4 119.2 L552.1 118.0 L555.8 119.7 L559.5 119.2 L563.2 117.4 L567.0 118.7 L570.7 119.9 L574.4 119.3 L578.1 119.8 L581.8 118.1 L585.6 118.7 L589.3 118.2 L592.7 118.9"/>
<path stroke="#1f6fbd" d="M332.0 207.8 L340.0 207.9 L347.0 207.6 L351.5 206.7 L355.0 202.0 L358.0 193.7 L361.5 190.0 L364.5 186.0 L368.0 176.0 L372.0 166.6 L375.0 150.0 L377.5 141.7 L382.5 124.3 L386.0 130.0 L390.5 137.3 L393.0 152.0 L396.3 145.3 L397.7 176.0 L400.3 179.3 L405.0 174.0 L409.0 168.0 L413.0 166.0 L417.0 170.0 L421.0 164.0 L425.0 168.0 L429.0 165.0 L433.0 170.0 L437.0 166.0 L441.0 162.0 L445.0 158.0 L451.5 153.6 L456.6 160.8 L461.6 160.1 L467.4 164.4 L473.1 168.0 L477.4 172.3 L483.2 173.8 L487.5 178.8 L494.0 178.0 L501.8 178.8 L507.0 182.0 L510.7 182.6 L514.4 183.1 L518.2 186.0 L521.9 183.0 L525.6 185.7 L529.3 185.6 L533.0 191.1 L536.8 189.1 L540.5 191.3 L544.2 194.3 L547.9 194.1 L551.6 196.2 L555.4 198.8 L559.1 195.7 L562.8 195.2 L566.5 193.6 L570.2 195.2 L574.0 195.1 L577.7 197.8 L581.4 198.5 L585.1 197.7 L588.8 198.2 L592.7 200.1"/>
<path stroke="#1f6fbd" d="M332.0 207.8 L340.0 208.0 L348.0 207.8 L352.0 206.5 L355.5 200.0 L359.0 193.0 L362.0 190.0 L365.0 182.0 L368.5 170.0 L372.0 165.0 L375.0 166.5 L377.5 156.0 L379.0 150.0 L382.5 143.0 L386.0 140.0 L389.4 138.4 L392.5 146.0 L395.0 152.0 L398.0 148.0 L401.3 178.5 L405.0 172.0 L409.0 166.0 L413.0 168.0 L417.0 163.0 L421.0 167.0 L425.0 171.0 L429.0 166.0 L433.0 162.0 L437.0 168.0 L441.0 172.0 L445.0 175.0 L450.0 173.0 L455.9 172.3 L461.0 177.0 L466.0 182.4 L473.1 177.4 L480.3 173.0 L486.0 176.0 L492.0 181.0 L498.0 183.0 L505.0 185.0 L508.7 186.6 L512.4 187.8 L516.2 187.9 L519.9 190.4 L523.6 188.2 L527.3 185.9 L531.0 189.7 L534.8 193.1 L538.5 191.4 L542.2 190.9 L545.9 191.8 L549.6 189.8 L553.4 192.1 L557.1 190.3 L560.8 193.0 L564.5 193.7 L568.2 196.1 L572.0 196.3 L575.7 197.6 L579.4 197.4 L583.1 197.8 L586.8 196.8 L590.6 197.4 L592.7 200.0"/>
<path stroke="#1f6fbd" d="M332.0 207.8 L341.0 207.9 L349.0 207.6 L353.0 205.0 L356.5 198.0 L360.0 193.0 L363.5 189.0 L366.5 180.0 L370.0 167.0 L373.5 165.5 L376.5 158.0 L380.0 151.0 L383.0 146.0 L386.2 143.8 L389.5 148.0 L392.5 158.0 L396.0 165.0 L400.3 147.3 L404.3 159.3 L408.0 162.0 L412.0 170.0 L416.0 166.0 L420.0 164.0 L424.0 160.0 L428.0 166.0 L432.0 168.0 L436.5 160.0 L441.0 165.0 L447.2 165.9 L453.0 167.3 L458.7 167.3 L463.8 170.2 L467.4 181.7 L473.1 184.5 L477.4 177.4 L483.0 175.0 L488.0 179.0 L494.0 182.0 L500.0 184.0 L506.0 187.0 L509.7 187.1 L513.4 186.7 L517.2 186.2 L520.9 189.9 L524.6 186.1 L528.3 188.6 L532.0 189.7 L535.8 193.8 L539.5 191.4 L543.2 191.1 L546.9 193.9 L550.6 191.0 L554.4 194.5 L558.1 192.6 L561.8 193.7 L565.5 195.5 L569.2 195.8 L573.0 197.7 L576.7 196.7 L580.4 195.6 L584.1 198.3 L587.8 200.2 L591.6 198.7 L592.7 199.6"/>
<path stroke="#1f6fbd" d="M332.0 207.8 L340.0 208.0 L348.0 207.7 L353.0 205.5 L357.0 199.0 L360.5 197.0 L364.0 190.0 L367.5 184.0 L371.0 172.0 L374.0 166.0 L377.5 160.0 L381.0 153.0 L384.0 148.2 L387.0 151.0 L390.5 158.0 L393.5 163.0 L397.0 160.0 L400.0 164.0 L404.0 168.0 L408.0 163.0 L412.0 161.0 L416.0 165.0 L420.0 170.0 L424.0 173.0 L428.0 170.0 L430.0 171.6 L434.3 174.5 L438.0 172.0 L443.0 169.5 L449.0 170.0 L455.9 172.3 L461.0 176.0 L466.0 180.0 L471.0 178.0 L477.0 175.0 L482.0 177.0 L488.0 181.0 L494.0 184.0 L500.0 183.0 L506.0 186.0 L509.7 183.5 L513.4 187.7 L517.2 189.5 L520.9 188.5 L524.6 189.2 L528.3 187.2 L532.0 184.1 L535.8 185.8 L539.5 191.8 L543.2 189.9 L546.9 190.3 L550.6 191.1 L554.4 193.8 L558.1 194.5 L561.8 194.4 L565.5 194.7 L569.2 196.1 L573.0 196.9 L576.7 199.3 L580.4 198.6 L584.1 202.1 L587.8 200.9 L591.6 202.6 L592.7 200.5"/>
<path stroke="#1f6fbd" d="M332.0 207.8 L341.0 208.0 L349.0 207.8 L353.0 206.0 L357.0 201.0 L361.0 196.0 L364.5 185.0 L368.0 178.0 L371.5 166.0 L375.0 162.0 L378.5 155.0 L382.0 149.0 L385.5 147.0 L389.0 141.0 L392.5 144.0 L396.0 148.0 L399.5 156.0 L403.0 158.0 L407.0 163.0 L411.0 165.0 L415.0 170.0 L419.0 174.0 L423.0 172.0 L427.0 169.0 L431.0 172.0 L435.0 175.0 L439.0 170.0 L443.0 166.0 L447.0 170.0 L452.0 168.0 L457.0 171.0 L462.0 176.0 L467.0 179.0 L472.0 181.0 L477.0 176.0 L482.0 174.0 L487.0 179.0 L493.0 185.0 L499.0 188.0 L505.0 186.0 L508.7 190.1 L512.4 186.5 L516.2 186.7 L519.9 186.6 L523.6 187.1 L527.3 185.6 L531.0 186.9 L534.8 184.5 L538.5 186.6 L542.2 185.7 L545.9 188.1 L549.6 189.8 L553.4 191.8 L557.1 191.4 L560.8 191.3 L564.5 194.0 L568.2 196.0 L572.0 198.8 L575.7 199.5 L579.4 198.5 L583.1 200.3 L586.8 200.2 L590.6 201.9 L592.7 200.7"/>
<path stroke="#b52f2f" d="M332.0 296.5 L341.0 294.1 L349.0 292.4 L356.0 290.5 L362.0 288.4 L366.7 288.1 L371.0 289.2 L375.0 292.2 L378.5 285.6 L382.0 275.0 L385.8 259.0 L390.0 242.3 L393.0 236.0 L396.0 231.5 L400.1 219.0 L404.3 214.5 L408.5 219.0 L412.0 226.0 L416.0 232.0 L420.0 236.0 L424.0 240.0 L427.7 241.2 L431.4 240.5 L435.2 245.1 L438.9 249.8 L442.6 250.5 L446.3 255.3 L450.0 259.2 L453.8 265.9 L457.5 264.8 L461.2 266.3 L464.9 266.7 L468.6 270.3 L472.4 270.9 L476.1 276.0 L479.8 277.0 L483.5 280.6 L487.2 282.6 L491.0 283.9 L494.7 286.1 L498.4 287.6 L502.1 289.3 L505.8 289.9 L509.6 291.7 L513.3 290.4 L517.0 292.2 L520.7 292.2 L524.4 291.8 L528.2 291.2 L531.9 291.7 L535.6 292.7 L539.3 291.3 L543.0 290.6 L546.8 290.5 L550.5 291.7 L554.2 290.8 L557.9 291.8 L561.6 292.3 L565.4 293.8 L569.1 293.1 L572.8 293.5 L576.5 294.6 L580.2 294.5 L584.0 293.5 L587.7 294.7 L591.4 294.2 L592.7 294.6"/>
<path stroke="#b52f2f" d="M332.0 296.5 L342.0 294.4 L350.0 291.9 L357.0 290.2 L363.0 287.7 L367.0 289.5 L371.0 290.9 L375.0 290.2 L379.0 285.0 L383.0 272.0 L386.0 262.0 L388.8 249.4 L392.0 242.0 L397.1 233.9 L400.0 230.0 L403.1 225.5 L406.7 221.4 L409.0 226.0 L412.0 232.0 L415.0 237.5 L418.0 242.0 L422.2 248.8 L425.8 239.3 L429.5 241.7 L433.2 246.0 L437.0 249.9 L440.7 250.5 L444.4 256.9 L448.1 256.7 L451.8 263.3 L455.6 264.2 L459.3 268.1 L463.0 270.6 L466.7 273.2 L470.4 274.1 L474.2 276.8 L477.9 279.9 L481.6 280.9 L485.3 286.2 L489.0 286.9 L492.8 286.7 L496.5 287.5 L500.2 288.8 L503.9 289.2 L507.6 288.7 L511.4 291.6 L515.1 291.5 L518.8 291.9 L522.5 291.3 L526.2 291.9 L530.0 291.8 L533.7 291.8 L537.4 292.1 L541.1 290.6 L544.8 291.9 L548.6 291.7 L552.3 292.0 L556.0 291.8 L559.7 292.1 L563.4 293.3 L567.2 293.7 L570.9 293.4 L574.6 295.0 L578.3 294.3 L582.0 293.0 L585.8 293.5 L589.5 292.9 L592.7 293.7"/>
<path stroke="#b52f2f" d="M332.0 296.5 L341.0 295.6 L349.0 292.6 L356.0 292.1 L362.0 288.4 L366.0 286.8 L370.0 288.8 L374.0 290.8 L377.5 290.3 L381.0 280.0 L385.0 268.0 L389.0 258.0 L392.5 250.0 L395.9 245.8 L400.7 248.2 L403.1 237.5 L404.9 233.9 L410.3 231.5 L413.0 236.0 L416.0 239.0 L419.0 243.0 L422.0 240.0 L425.0 244.0 L428.7 243.6 L432.4 243.8 L436.2 245.3 L439.9 248.1 L443.6 252.3 L447.3 258.8 L451.0 264.3 L454.8 264.9 L458.5 263.2 L462.2 265.1 L465.9 269.3 L469.6 270.5 L473.4 272.7 L477.1 272.3 L480.8 277.9 L484.5 277.9 L488.2 279.3 L492.0 283.3 L495.7 282.8 L499.4 283.8 L503.1 286.2 L506.8 287.0 L510.6 289.0 L514.3 289.9 L518.0 290.2 L521.7 292.1 L525.4 291.3 L529.2 292.0 L532.9 291.1 L536.6 291.8 L540.3 291.8 L544.0 292.7 L547.8 294.0 L551.5 293.5 L555.2 293.1 L558.9 294.1 L562.6 293.1 L566.4 292.9 L570.1 293.9 L573.8 293.3 L577.5 293.5 L581.2 293.6 L585.0 293.3 L588.7 293.9 L592.7 293.4"/>
<path stroke="#b52f2f" d="M332.0 296.5 L340.0 294.5 L348.0 293.5 L355.0 292.5 L361.0 290.9 L365.0 289.5 L369.0 289.1 L373.0 292.4 L377.0 290.1 L380.0 283.0 L383.5 270.0 L387.0 256.0 L390.5 246.0 L394.0 240.0 L397.5 236.0 L401.0 230.0 L404.0 228.0 L407.5 226.0 L410.9 222.0 L413.5 225.0 L416.2 227.3 L418.6 231.0 L421.0 236.0 L424.0 240.0 L427.7 243.2 L431.4 245.0 L435.2 247.8 L438.9 250.2 L442.6 254.0 L446.3 258.0 L450.0 258.0 L453.8 259.7 L457.5 261.0 L461.2 261.8 L464.9 267.0 L468.6 271.1 L472.4 276.5 L476.1 276.8 L479.8 279.6 L483.5 282.8 L487.2 280.8 L491.0 281.2 L494.7 282.8 L498.4 286.1 L502.1 284.9 L505.8 287.1 L509.6 288.4 L513.3 288.1 L517.0 289.8 L520.7 291.1 L524.4 289.9 L528.2 290.0 L531.9 290.0 L535.6 292.4 L539.3 291.1 L543.0 292.7 L546.8 293.4 L550.5 293.5 L554.2 294.7 L557.9 294.3 L561.6 293.6 L565.4 294.1 L569.1 294.4 L572.8 295.2 L576.5 294.2 L580.2 294.2 L584.0 294.1 L587.7 294.7 L591.4 295.0 L592.7 294.4"/>
<path stroke="#b52f2f" d="M332.0 296.5 L341.0 295.1 L349.0 292.2 L356.0 291.6 L361.0 290.2 L365.0 288.9 L369.0 288.7 L373.0 290.3 L376.5 292.0 L380.0 284.0 L384.0 268.0 L387.5 256.0 L391.0 247.0 L395.0 240.0 L399.0 233.0 L403.0 229.0 L406.0 227.5 L409.0 227.0 L412.2 223.2 L415.0 230.0 L418.6 236.0 L421.0 241.0 L424.0 243.0 L427.7 243.6 L431.4 241.8 L435.2 244.3 L438.9 246.9 L442.6 248.9 L446.3 250.9 L450.0 256.7 L453.8 257.5 L457.5 257.9 L461.2 266.0 L464.9 269.7 L468.6 273.6 L472.4 275.8 L476.1 279.5 L479.8 282.4 L483.5 282.4 L487.2 281.8 L491.0 282.2 L494.7 283.0 L498.4 282.7 L502.1 282.8 L505.8 284.3 L509.6 285.2 L513.3 289.2 L517.0 287.4 L520.7 288.5 L524.4 288.8 L528.2 289.9 L531.9 290.7 L535.6 289.0 L539.3 289.7 L543.0 290.6 L546.8 290.7 L550.5 290.9 L554.2 291.1 L557.9 291.8 L561.6 292.0 L565.4 292.6 L569.1 291.4 L572.8 293.4 L576.5 293.7 L580.2 292.9 L584.0 294.3 L587.7 293.7 L591.4 294.6 L592.7 293.8"/>
<path stroke="#5b5b5b" d="M332.0 383.0 L340.0 383.0 L348.5 382.0 L352.5 372.0 L355.5 360.0 L358.0 355.8 L361.5 349.4 L364.5 352.0 L367.9 314.3 L371.0 320.0 L374.5 332.0 L378.7 310.7 L382.0 326.0 L385.8 315.8 L389.0 330.0 L392.5 336.0 L396.0 326.0 L400.2 317.2 L403.8 309.3 L407.0 322.0 L410.5 334.0 L414.0 340.0 L418.0 330.0 L422.0 326.0 L426.0 334.0 L430.6 325.3 L434.0 340.0 L438.0 345.0 L441.5 338.0 L444.7 341.5 L448.4 343.8 L452.1 345.7 L455.9 349.7 L459.6 355.2 L463.3 356.8 L467.0 358.5 L470.7 359.0 L474.5 366.1 L478.2 364.0 L481.9 361.1 L485.6 361.4 L489.3 364.9 L493.1 368.7 L496.8 367.9 L500.5 372.7 L504.2 374.4 L507.9 372.9 L511.7 373.1 L515.4 374.4 L519.1 373.8 L522.8 374.0 L526.5 372.9 L530.3 373.5 L534.0 374.2 L537.7 377.5 L541.4 377.1 L545.1 373.0 L548.9 376.9 L552.6 375.3 L556.3 374.2 L560.0 376.8 L563.7 376.3 L567.5 376.4 L571.2 377.6 L574.9 379.7 L578.6 381.2 L582.3 382.2 L586.1 381.7 L589.8 381.4 L592.7 382.1"/>
<path stroke="#5b5b5b" d="M332.0 383.0 L341.0 383.0 L349.0 382.5 L353.6 373.8 L357.2 368.0 L360.1 375.2 L363.0 372.3 L365.5 360.0 L367.5 335.0 L370.8 315.8 L374.5 326.0 L378.7 367.3 L383.0 352.3 L386.2 330.0 L389.5 326.0 L393.0 336.0 L396.5 330.0 L400.0 340.0 L403.5 322.0 L409.5 307.9 L412.0 312.0 L414.3 312.3 L418.0 324.0 L421.5 332.0 L425.0 330.0 L429.0 338.0 L433.8 356.7 L437.0 348.0 L441.0 345.0 L444.7 347.8 L448.4 347.3 L452.2 355.1 L455.9 361.6 L459.6 361.7 L463.3 360.6 L467.0 359.9 L470.8 363.3 L474.5 361.0 L478.2 362.6 L481.9 363.6 L485.6 367.2 L489.4 367.9 L493.1 366.8 L496.8 367.5 L500.5 369.2 L504.2 369.5 L508.0 366.3 L511.7 368.8 L515.4 370.9 L519.1 370.7 L522.8 372.0 L526.6 374.7 L530.3 372.3 L534.0 370.9 L537.7 371.1 L541.4 373.7 L545.2 374.1 L548.9 375.1 L552.6 374.6 L556.3 376.9 L560.0 376.3 L563.8 374.6 L567.5 377.1 L571.2 376.1 L574.9 376.8 L578.6 378.3 L582.4 379.3 L586.1 380.1 L589.8 380.5 L592.7 381.0"/>
<path stroke="#5b5b5b" d="M332.0 383.0 L341.0 383.0 L350.0 382.5 L354.3 366.6 L357.0 362.0 L360.0 366.0 L363.0 368.0 L366.0 350.0 L368.5 342.0 L371.0 338.0 L374.3 328.0 L378.7 325.0 L382.0 334.0 L385.0 340.0 L389.4 348.0 L393.7 344.5 L397.3 346.6 L400.5 340.0 L404.0 335.0 L407.3 343.0 L410.5 334.0 L413.5 328.0 L417.0 322.0 L420.0 330.0 L424.0 334.0 L427.5 330.0 L431.0 335.0 L435.0 342.0 L439.0 340.0 L443.0 348.0 L446.7 349.1 L450.4 343.3 L454.2 345.7 L457.9 351.1 L461.6 355.9 L465.3 358.0 L469.0 356.1 L472.8 359.8 L476.5 357.0 L480.2 364.9 L483.9 364.0 L487.6 367.5 L491.4 367.8 L495.1 369.7 L498.8 370.5 L502.5 370.9 L506.2 369.7 L510.0 369.7 L513.7 371.1 L517.4 371.3 L521.1 375.9 L524.8 372.3 L528.6 372.3 L532.3 372.8 L536.0 374.1 L539.7 374.8 L543.4 377.3 L547.2 374.3 L550.9 378.3 L554.6 376.3 L558.3 379.6 L562.0 377.3 L565.8 376.9 L569.5 377.2 L573.2 380.8 L576.9 380.3 L580.6 381.4 L584.4 382.2 L588.1 382.7 L591.8 382.2 L592.7 382.7"/>
<path stroke="#5b5b5b" d="M332.0 383.0 L341.0 383.0 L350.5 382.5 L354.0 376.0 L357.5 370.0 L360.5 362.0 L363.0 358.0 L365.5 352.0 L367.0 346.0 L370.0 336.0 L373.6 333.7 L377.2 343.7 L380.0 338.0 L383.0 352.3 L386.0 344.0 L389.4 348.0 L392.0 340.0 L395.0 332.0 L398.0 338.0 L401.0 330.0 L404.0 326.0 L407.0 320.0 L410.0 326.0 L413.0 318.0 L416.0 324.0 L419.0 336.0 L422.0 340.0 L426.0 332.0 L430.0 334.0 L434.0 342.0 L437.0 348.0 L441.0 344.0 L445.0 350.0 L448.7 349.5 L452.4 353.1 L456.2 351.0 L459.9 355.1 L463.6 357.7 L467.3 356.3 L471.0 358.4 L474.8 362.2 L478.5 360.9 L482.2 366.7 L485.9 365.7 L489.6 368.7 L493.4 370.2 L497.1 370.6 L500.8 371.6 L504.5 371.0 L508.2 374.4 L512.0 370.7 L515.7 374.4 L519.4 375.2 L523.1 374.3 L526.8 373.1 L530.6 374.4 L534.3 373.9 L538.0 376.7 L541.7 374.1 L545.4 375.1 L549.2 375.3 L552.9 374.6 L556.6 376.7 L560.3 378.9 L564.0 378.8 L567.8 378.3 L571.5 379.3 L575.2 378.9 L578.9 382.0 L582.6 381.8 L586.4 382.2 L590.1 382.5 L592.7 381.7"/>
<path stroke="#5b5b5b" d="M332.0 383.0 L340.0 383.0 L349.0 382.5 L352.0 378.0 L355.0 368.0 L358.0 358.0 L361.0 356.0 L363.5 364.0 L365.5 352.0 L366.8 340.0 L368.5 318.0 L371.0 328.0 L374.0 335.0 L377.0 341.0 L380.0 330.0 L383.0 322.0 L386.0 330.0 L389.0 338.0 L392.0 332.0 L395.0 322.0 L398.0 330.0 L400.2 317.2 L403.0 330.0 L406.0 320.0 L409.0 316.0 L412.0 322.0 L415.5 329.0 L418.5 328.0 L422.0 334.0 L426.0 340.0 L430.0 336.0 L434.0 336.0 L437.5 343.0 L441.0 350.0 L444.7 354.0 L448.4 355.0 L452.2 350.3 L455.9 353.8 L459.6 352.1 L463.3 356.4 L467.0 361.2 L470.8 356.4 L474.5 363.1 L478.2 360.7 L481.9 368.7 L485.6 366.2 L489.4 366.6 L493.1 365.1 L496.8 368.8 L500.5 367.6 L504.2 368.0 L508.0 368.8 L511.7 370.3 L515.4 373.4 L519.1 374.7 L522.8 375.4 L526.6 375.4 L530.3 374.5 L534.0 376.5 L537.7 375.4 L541.4 375.6 L545.2 378.3 L548.9 378.4 L552.6 378.9 L556.3 375.8 L560.0 377.5 L563.8 378.0 L567.5 378.5 L571.2 376.9 L574.9 377.3 L578.6 378.3 L582.4 379.1 L586.1 380.6 L589.8 379.8 L592.7 380.5"/>
</g>
<g fill="none" stroke="#444444" stroke-width="1.3">
<rect x="38.05" y="14.90" width="260.75" height="368.40"/>
<rect x="332.00" y="15.00" width="260.70" height="368.30"/>
<line x1="332.00" y1="120.50" x2="592.70" y2="120.50"/>
<line x1="332.00" y1="208.30" x2="592.70" y2="208.30"/>
<line x1="332.00" y1="296.00" x2="592.70" y2="296.00"/>
</g>
<g stroke="#333" stroke-width="0.85">
<line x1="75.43" y1="14.90" x2="75.43" y2="18.40"/>
<line x1="75.43" y1="383.30" x2="75.43" y2="379.80"/>
<line x1="112.66" y1="14.90" x2="112.66" y2="18.40"/>
<line x1="112.66" y1="383.30" x2="112.66" y2="379.80"/>
<line x1="149.89" y1="14.90" x2="149.89" y2="18.40"/>
<line x1="149.89" y1="383.30" x2="149.89" y2="379.80"/>
<line x1="187.11" y1="14.90" x2="187.11" y2="18.40"/>
<line x1="187.11" y1="383.30" x2="187.11" y2="379.80"/>
<line x1="224.34" y1="14.90" x2="224.34" y2="18.40"/>
<line x1="224.34" y1="383.30" x2="224.34" y2="379.80"/>
<line x1="261.57" y1="14.90" x2="261.57" y2="18.40"/>
<line x1="261.57" y1="383.30" x2="261.57" y2="379.80"/>
<line x1="38.20" y1="29.70" x2="42.00" y2="29.70"/>
<line x1="298.80" y1="29.70" x2="295.00" y2="29.70"/>
<line x1="38.20" y1="46.63" x2="42.00" y2="46.63"/>
<line x1="298.80" y1="46.63" x2="295.00" y2="46.63"/>
<line x1="38.20" y1="63.56" x2="42.00" y2="63.56"/>
<line x1="298.80" y1="63.56" x2="295.00" y2="63.56"/>
<line x1="38.20" y1="80.49" x2="42.00" y2="80.49"/>
<line x1="298.80" y1="80.49" x2="295.00" y2="80.49"/>
<line x1="38.20" y1="97.42" x2="42.00" y2="97.42"/>
<line x1="298.80" y1="97.42" x2="295.00" y2="97.42"/>
<line x1="38.20" y1="114.35" x2="42.00" y2="114.35"/>
<line x1="298.80" y1="114.35" x2="295.00" y2="114.35"/>
<line x1="38.20" y1="131.28" x2="42.00" y2="131.28"/>
<line x1="298.80" y1="131.28" x2="295.00" y2="131.28"/>
<line x1="38.20" y1="148.21" x2="42.00" y2="148.21"/>
<line x1="298.80" y1="148.21" x2="295.00" y2="148.21"/>
<line x1="38.20" y1="165.14" x2="42.00" y2="165.14"/>
<line x1="298.80" y1="165.14" x2="295.00" y2="165.14"/>
<line x1="38.20" y1="182.07" x2="42.00" y2="182.07"/>
<line x1="298.80" y1="182.07" x2="295.00" y2="182.07"/>
<line x1="38.20" y1="199.00" x2="42.00" y2="199.00"/>
<line x1="298.80" y1="199.00" x2="295.00" y2="199.00"/>
<line x1="38.20" y1="215.93" x2="42.00" y2="215.93"/>
<line x1="298.80" y1="215.93" x2="295.00" y2="215.93"/>
<line x1="38.20" y1="232.86" x2="42.00" y2="232.86"/>
<line x1="298.80" y1="232.86" x2="295.00" y2="232.86"/>
<line x1="38.20" y1="249.79" x2="42.00" y2="249.79"/>
<line x1="298.80" y1="249.79" x2="295.00" y2="249.79"/>
<line x1="38.20" y1="266.72" x2="42.00" y2="266.72"/>
<line x1="298.80" y1="266.72" x2="295.00" y2="266.72"/>
<line x1="38.20" y1="283.65" x2="42.00" y2="283.65"/>
<line x1="298.80" y1="283.65" x2="295.00" y2="283.65"/>
<line x1="38.20" y1="300.58" x2="42.00" y2="300.58"/>
<line x1="298.80" y1="300.58" x2="295.00" y2="300.58"/>
<line x1="38.20" y1="317.51" x2="42.00" y2="317.51"/>
<line x1="298.80" y1="317.51" x2="295.00" y2="317.51"/>
<line x1="38.20" y1="334.44" x2="42.00" y2="334.44"/>
<line x1="298.80" y1="334.44" x2="295.00" y2="334.44"/>
<line x1="38.20" y1="351.37" x2="42.00" y2="351.37"/>
<line x1="298.80" y1="351.37" x2="295.00" y2="351.37"/>
<line x1="38.20" y1="368.30" x2="42.00" y2="368.30"/>
<line x1="298.80" y1="368.30" x2="295.00" y2="368.30"/>
<line x1="384.14" y1="15.00" x2="384.14" y2="18.50"/>
<line x1="384.14" y1="120.50" x2="384.14" y2="117.00"/>
<line x1="436.28" y1="15.00" x2="436.28" y2="18.50"/>
<line x1="436.28" y1="120.50" x2="436.28" y2="117.00"/>
<line x1="488.42" y1="15.00" x2="488.42" y2="18.50"/>
<line x1="488.42" y1="120.50" x2="488.42" y2="117.00"/>
<line x1="540.56" y1="15.00" x2="540.56" y2="18.50"/>
<line x1="540.56" y1="120.50" x2="540.56" y2="117.00"/>
<line x1="384.14" y1="120.50" x2="384.14" y2="124.00"/>
<line x1="384.14" y1="208.30" x2="384.14" y2="204.80"/>
<line x1="436.28" y1="120.50" x2="436.28" y2="124.00"/>
<line x1="436.28" y1="208.30" x2="436.28" y2="204.80"/>
<line x1="488.42" y1="120.50" x2="488.42" y2="124.00"/>
<line x1="488.42" y1="208.30" x2="488.42" y2="204.80"/>
<line x1="540.56" y1="120.50" x2="540.56" y2="124.00"/>
<line x1="540.56" y1="208.30" x2="540.56" y2="204.80"/>
<line x1="384.14" y1="208.30" x2="384.14" y2="211.80"/>
<line x1="384.14" y1="296.00" x2="384.14" y2="292.50"/>
<line x1="436.28" y1="208.30" x2="436.28" y2="211.80"/>
<line x1="436.28" y1="296.00" x2="436.28" y2="292.50"/>
<line x1="488.42" y1="208.30" x2="488.42" y2="211.80"/>
<line x1="488.42" y1="296.00" x2="488.42" y2="292.50"/>
<line x1="540.56" y1="208.30" x2="540.56" y2="211.80"/>
<line x1="540.56" y1="296.00" x2="540.56" y2="292.50"/>
<line x1="384.14" y1="296.00" x2="384.14" y2="299.50"/>
<line x1="384.14" y1="383.30" x2="384.14" y2="379.80"/>
<line x1="436.28" y1="296.00" x2="436.28" y2="299.50"/>
<line x1="436.28" y1="383.30" x2="436.28" y2="379.80"/>
<line x1="488.42" y1="296.00" x2="488.42" y2="299.50"/>
<line x1="488.42" y1="383.30" x2="488.42" y2="379.80"/>
<line x1="540.56" y1="296.00" x2="540.56" y2="299.50"/>
<line x1="540.56" y1="383.30" x2="540.56" y2="379.80"/>
</g>
<g font-family="Liberation Sans, sans-serif" fill="#111" stroke="#111" stroke-width="0.2">
<text transform="translate(-0.83 33.10) scale(0.852 1.000)" font-size="13.24">P</text>
<text transform="translate(6.75 33.10) scale(0.960 1.000)" font-size="13.24">M</text>
<text transform="translate(17.86 33.15) scale(1.015 1.008)" font-size="13.24">0</text>
<text transform="translate(26.08 33.10) scale(0.970 1.000)" font-size="13.24">1</text>
<text transform="translate(-0.83 50.03) scale(0.854 1.000)" font-size="13.24">P</text>
<text transform="translate(6.77 50.03) scale(0.963 1.000)" font-size="13.24">M</text>
<text transform="translate(17.92 50.08) scale(1.018 1.008)" font-size="13.24">0</text>
<text transform="translate(26.02 50.03) scale(0.982 1.003)" font-size="13.24">2</text>
<text transform="translate(-0.82 66.96) scale(0.848 1.000)" font-size="13.24">P</text>
<text transform="translate(6.72 66.96) scale(0.956 1.000)" font-size="13.24">M</text>
<text transform="translate(17.78 67.01) scale(1.010 1.008)" font-size="13.24">0</text>
<text transform="translate(26.02 67.01) scale(0.970 1.008)" font-size="13.24">3</text>
<text transform="translate(-0.81 83.89) scale(0.840 1.000)" font-size="13.24">P</text>
<text transform="translate(6.66 83.89) scale(0.947 1.000)" font-size="13.24">M</text>
<text transform="translate(17.61 83.94) scale(1.001 1.008)" font-size="13.24">0</text>
<text transform="translate(25.61 83.89) scale(1.001 1.000)" font-size="13.24">4</text>
<text transform="translate(-0.82 100.82) scale(0.850 1.000)" font-size="13.24">P</text>
<text transform="translate(6.74 100.82) scale(0.958 1.000)" font-size="13.24">M</text>
<text transform="translate(17.83 100.87) scale(1.013 1.008)" font-size="13.24">0</text>
<text transform="translate(26.09 100.87) scale(0.956 1.005)" font-size="13.24">5</text>
<text transform="translate(-0.81 117.75) scale(0.842 1.000)" font-size="13.24">P</text>
<text transform="translate(6.67 117.75) scale(0.949 1.000)" font-size="13.24">M</text>
<text transform="translate(17.66 117.80) scale(1.004 1.008)" font-size="13.24">0</text>
<text transform="translate(25.55 117.80) scale(1.039 1.008)" font-size="13.24">6</text>
<text transform="translate(-0.83 134.68) scale(0.852 1.000)" font-size="13.24">P</text>
<text transform="translate(6.75 134.68) scale(0.960 1.000)" font-size="13.24">M</text>
<text transform="translate(17.97 134.68) scale(0.970 1.000)" font-size="13.24">1</text>
<text transform="translate(26.08 134.68) scale(0.970 1.000)" font-size="13.24">1</text>
<text transform="translate(-0.83 151.61) scale(0.854 1.000)" font-size="13.24">P</text>
<text transform="translate(6.77 151.61) scale(0.963 1.000)" font-size="13.24">M</text>
<text transform="translate(18.02 151.61) scale(0.973 1.000)" font-size="13.24">1</text>
<text transform="translate(26.02 151.61) scale(0.982 1.003)" font-size="13.24">2</text>
<text transform="translate(-0.82 168.54) scale(0.848 1.000)" font-size="13.24">P</text>
<text transform="translate(6.72 168.54) scale(0.956 1.000)" font-size="13.24">M</text>
<text transform="translate(17.88 168.54) scale(0.965 1.000)" font-size="13.24">1</text>
<text transform="translate(26.02 168.59) scale(0.970 1.008)" font-size="13.24">3</text>
<text transform="translate(-0.81 185.47) scale(0.840 1.000)" font-size="13.24">P</text>
<text transform="translate(6.66 185.47) scale(0.947 1.000)" font-size="13.24">M</text>
<text transform="translate(17.72 185.47) scale(0.956 1.000)" font-size="13.24">1</text>
<text transform="translate(25.61 185.47) scale(1.001 1.000)" font-size="13.24">4</text>
<text transform="translate(-0.82 202.40) scale(0.850 1.000)" font-size="13.24">P</text>
<text transform="translate(6.74 202.40) scale(0.958 1.000)" font-size="13.24">M</text>
<text transform="translate(17.93 202.40) scale(0.968 1.000)" font-size="13.24">1</text>
<text transform="translate(26.09 202.45) scale(0.956 1.005)" font-size="13.24">5</text>
<text transform="translate(-0.83 219.33) scale(0.852 1.000)" font-size="13.24">P</text>
<text transform="translate(6.75 219.33) scale(0.960 1.000)" font-size="13.24">M</text>
<text transform="translate(17.83 219.33) scale(0.979 1.003)" font-size="13.24">2</text>
<text transform="translate(26.08 219.33) scale(0.970 1.000)" font-size="13.24">1</text>
<text transform="translate(-0.83 236.26) scale(0.854 1.000)" font-size="13.24">P</text>
<text transform="translate(6.77 236.26) scale(0.963 1.000)" font-size="13.24">M</text>
<text transform="translate(17.88 236.26) scale(0.982 1.003)" font-size="13.24">2</text>
<text transform="translate(26.02 236.26) scale(0.982 1.003)" font-size="13.24">2</text>
<text transform="translate(-0.82 253.19) scale(0.848 1.000)" font-size="13.24">P</text>
<text transform="translate(6.72 253.19) scale(0.956 1.000)" font-size="13.24">M</text>
<text transform="translate(17.74 253.19) scale(0.974 1.003)" font-size="13.24">2</text>
<text transform="translate(26.02 253.24) scale(0.970 1.008)" font-size="13.24">3</text>
<text transform="translate(-0.81 270.12) scale(0.840 1.000)" font-size="13.24">P</text>
<text transform="translate(6.66 270.12) scale(0.947 1.000)" font-size="13.24">M</text>
<text transform="translate(17.58 270.12) scale(0.965 1.003)" font-size="13.24">2</text>
<text transform="translate(25.61 270.12) scale(1.001 1.000)" font-size="13.24">4</text>
<text transform="translate(-0.82 287.05) scale(0.850 1.000)" font-size="13.24">P</text>
<text transform="translate(6.74 287.05) scale(0.958 1.000)" font-size="13.24">M</text>
<text transform="translate(17.79 287.05) scale(0.977 1.003)" font-size="13.24">2</text>
<text transform="translate(26.09 287.10) scale(0.956 1.005)" font-size="13.24">5</text>
<text transform="translate(-0.83 303.98) scale(0.852 1.000)" font-size="13.24">P</text>
<text transform="translate(6.75 303.98) scale(0.960 1.000)" font-size="13.24">M</text>
<text transform="translate(18.03 304.03) scale(0.975 1.008)" font-size="13.24">3</text>
<text transform="translate(26.08 303.98) scale(0.970 1.000)" font-size="13.24">1</text>
<text transform="translate(-0.83 320.91) scale(0.854 1.000)" font-size="13.24">P</text>
<text transform="translate(6.77 320.91) scale(0.963 1.000)" font-size="13.24">M</text>
<text transform="translate(18.08 320.96) scale(0.978 1.008)" font-size="13.24">3</text>
<text transform="translate(26.02 320.91) scale(0.982 1.003)" font-size="13.24">2</text>
<text transform="translate(-0.82 337.84) scale(0.848 1.000)" font-size="13.24">P</text>
<text transform="translate(6.72 337.84) scale(0.956 1.000)" font-size="13.24">M</text>
<text transform="translate(17.94 337.89) scale(0.970 1.008)" font-size="13.24">3</text>
<text transform="translate(26.02 337.89) scale(0.970 1.008)" font-size="13.24">3</text>
<text transform="translate(-0.81 354.77) scale(0.840 1.000)" font-size="13.24">P</text>
<text transform="translate(6.66 354.77) scale(0.947 1.000)" font-size="13.24">M</text>
<text transform="translate(17.78 354.82) scale(0.961 1.008)" font-size="13.24">3</text>
<text transform="translate(25.61 354.77) scale(1.001 1.000)" font-size="13.24">4</text>
<text transform="translate(-0.82 371.70) scale(0.850 1.000)" font-size="13.24">P</text>
<text transform="translate(6.74 371.70) scale(0.958 1.000)" font-size="13.24">M</text>
<text transform="translate(17.99 371.75) scale(0.973 1.008)" font-size="13.24">3</text>
<text transform="translate(26.09 371.75) scale(0.956 1.005)" font-size="13.24">5</text>
<text transform="translate(28.67 397.95) scale(0.985 1.008)" font-size="13.24">0</text>
<text transform="translate(36.33 397.90) scale(1.011 1.095)" font-size="13.24">.</text>
<text transform="translate(40.47 397.95) scale(0.985 1.008)" font-size="13.24">0</text>
<text transform="translate(65.89 397.95) scale(0.985 1.008)" font-size="13.24">0</text>
<text transform="translate(73.56 397.90) scale(1.011 1.095)" font-size="13.24">.</text>
<text transform="translate(77.67 397.90) scale(0.949 1.003)" font-size="13.24">2</text>
<text transform="translate(103.12 397.95) scale(0.985 1.008)" font-size="13.24">0</text>
<text transform="translate(110.79 397.90) scale(1.011 1.095)" font-size="13.24">.</text>
<text transform="translate(114.93 397.90) scale(0.985 1.000)" font-size="13.24">4</text>
<text transform="translate(140.35 397.95) scale(0.985 1.008)" font-size="13.24">0</text>
<text transform="translate(148.02 397.90) scale(1.011 1.095)" font-size="13.24">.</text>
<text transform="translate(152.03 397.95) scale(1.019 1.008)" font-size="13.24">6</text>
<text transform="translate(177.58 397.95) scale(0.985 1.008)" font-size="13.24">0</text>
<text transform="translate(185.25 397.90) scale(1.011 1.095)" font-size="13.24">.</text>
<text transform="translate(189.35 397.95) scale(0.996 1.008)" font-size="13.24">8</text>
<text transform="translate(214.91 397.90) scale(0.941 1.000)" font-size="13.24">1</text>
<text transform="translate(222.48 397.90) scale(1.011 1.095)" font-size="13.24">.</text>
<text transform="translate(226.62 397.95) scale(0.985 1.008)" font-size="13.24">0</text>
<text transform="translate(252.14 397.90) scale(0.941 1.000)" font-size="13.24">1</text>
<text transform="translate(259.71 397.90) scale(1.011 1.095)" font-size="13.24">.</text>
<text transform="translate(263.81 397.90) scale(0.949 1.003)" font-size="13.24">2</text>
<text transform="translate(289.37 397.90) scale(0.941 1.000)" font-size="13.24">1</text>
<text transform="translate(296.93 397.90) scale(1.011 1.095)" font-size="13.24">.</text>
<text transform="translate(301.07 397.90) scale(0.985 1.000)" font-size="13.24">4</text>
<text transform="translate(328.26 397.95) scale(1.015 1.008)" font-size="13.24">0</text>
<text transform="translate(376.45 397.90) scale(0.969 1.000)" font-size="13.24">1</text>
<text transform="translate(384.46 397.95) scale(1.015 1.008)" font-size="13.24">0</text>
<text transform="translate(428.45 397.90) scale(0.978 1.003)" font-size="13.24">2</text>
<text transform="translate(436.60 397.95) scale(1.015 1.008)" font-size="13.24">0</text>
<text transform="translate(480.79 397.95) scale(0.975 1.008)" font-size="13.24">3</text>
<text transform="translate(488.74 397.95) scale(1.015 1.008)" font-size="13.24">0</text>
<text transform="translate(532.76 397.90) scale(1.015 1.000)" font-size="13.24">4</text>
<text transform="translate(540.88 397.95) scale(1.015 1.008)" font-size="13.24">0</text>
<text transform="translate(585.06 397.95) scale(0.958 1.005)" font-size="13.24">5</text>
<text transform="translate(593.02 397.95) scale(1.015 1.008)" font-size="13.24">0</text>
<text transform="translate(142.19 414.90) scale(1.046 1.000)" font-size="13.24">T</text>
<text transform="translate(150.63 414.90) scale(0.981 0.990)" font-size="13.24">i</text>
<text transform="translate(154.02 414.90) scale(1.093 0.982)" font-size="13.24">m</text>
<text transform="translate(166.32 414.95) scale(1.036 0.989)" font-size="13.24">e</text>
<text transform="translate(178.49 414.07) scale(0.811 0.902)" font-size="13.24">(</text>
<text transform="translate(183.37 414.95) scale(0.919 0.992)" font-size="13.24">s</text>
<text transform="translate(190.59 414.07) scale(0.811 0.902)" font-size="13.24">)</text>
<text transform="translate(413.50 414.90) scale(0.826 1.000)" font-size="13.24">F</text>
<text transform="translate(420.56 414.90) scale(1.235 0.982)" font-size="13.24">r</text>
<text transform="translate(425.85 414.95) scale(1.041 0.989)" font-size="13.24">e</text>
<text transform="translate(433.71 414.83) scale(1.046 0.972)" font-size="13.24">q</text>
<text transform="translate(441.88 414.95) scale(1.039 1.007)" font-size="13.24">u</text>
<text transform="translate(449.90 414.95) scale(1.041 0.989)" font-size="13.24">e</text>
<text transform="translate(457.87 414.90) scale(1.039 0.982)" font-size="13.24">n</text>
<text transform="translate(465.88 414.95) scale(0.967 0.989)" font-size="13.24">c</text>
<text transform="translate(473.08 414.84) scale(1.035 0.968)" font-size="13.24">y</text>
<text transform="translate(484.77 414.07) scale(0.815 0.902)" font-size="13.24">(</text>
<text transform="translate(489.53 414.90) scale(0.959 1.000)" font-size="13.24">H</text>
<text transform="translate(498.91 414.90) scale(1.032 0.977)" font-size="13.24">z</text>
<text transform="translate(506.58 414.07) scale(0.815 0.902)" font-size="13.24">)</text>
<text transform="translate(132.74 9.35) scale(0.947 1.000)" font-size="13.24">W</text>
<text transform="translate(145.23 9.40) scale(0.864 0.989)" font-size="13.24">a</text>
<text transform="translate(153.08 9.35) scale(1.037 0.977)" font-size="13.24">v</text>
<text transform="translate(160.40 9.40) scale(1.037 0.989)" font-size="13.24">e</text>
<text transform="translate(168.16 9.35) scale(1.261 0.991)" font-size="13.24">f</text>
<text transform="translate(172.72 9.40) scale(1.021 0.989)" font-size="13.24">o</text>
<text transform="translate(180.44 9.35) scale(1.231 0.982)" font-size="13.24">r</text>
<text transform="translate(185.79 9.35) scale(1.094 0.982)" font-size="13.24">m</text>
<text transform="translate(198.34 9.40) scale(0.921 0.992)" font-size="13.24">s</text>
<text transform="translate(437.98 9.40) scale(0.856 1.008)" font-size="13.24">S</text>
<text transform="translate(446.00 9.28) scale(1.045 0.973)" font-size="13.24">p</text>
<text transform="translate(453.93 9.40) scale(1.038 0.989)" font-size="13.24">e</text>
<text transform="translate(461.80 9.40) scale(0.964 0.989)" font-size="13.24">c</text>
<text transform="translate(468.72 9.25) scale(1.284 1.013)" font-size="13.24">t</text>
<text transform="translate(473.70 9.35) scale(1.231 0.982)" font-size="13.24">r</text>
<text transform="translate(479.14 9.40) scale(0.864 0.989)" font-size="13.24">a</text>
<text transform="translate(0.68 10.85) scale(0.893 0.989)" font-size="12.29" font-weight="bold">a</text>
<text transform="translate(330.32 10.99) scale(1.082 0.995)" font-size="12.29" font-weight="bold">b</text>
<text transform="translate(524.88 36.30) scale(0.957 1.000)" font-size="13.24">A</text>
<text transform="translate(533.48 36.30) scale(1.217 0.982)" font-size="13.24">r</text>
<text transform="translate(538.66 36.30) scale(1.217 0.982)" font-size="13.24">r</text>
<text transform="translate(544.03 36.35) scale(0.854 0.989)" font-size="13.24">a</text>
<text transform="translate(551.81 36.24) scale(1.020 0.968)" font-size="13.24">y</text>
<text transform="translate(562.99 36.30) scale(0.957 1.000)" font-size="13.24">A</text>
<text transform="translate(571.84 36.35) scale(1.002 1.008)" font-size="13.24">0</text>
<text transform="translate(524.88 142.60) scale(0.963 1.000)" font-size="13.24">A</text>
<text transform="translate(533.54 142.60) scale(1.225 0.982)" font-size="13.24">r</text>
<text transform="translate(538.74 142.60) scale(1.225 0.982)" font-size="13.24">r</text>
<text transform="translate(544.15 142.65) scale(0.860 0.989)" font-size="13.24">a</text>
<text transform="translate(551.98 142.54) scale(1.027 0.968)" font-size="13.24">y</text>
<text transform="translate(563.23 142.60) scale(0.963 1.000)" font-size="13.24">A</text>
<text transform="translate(572.23 142.60) scale(0.962 1.000)" font-size="13.24">1</text>
<text transform="translate(524.88 231.10) scale(0.965 1.000)" font-size="13.24">A</text>
<text transform="translate(533.55 231.10) scale(1.227 0.982)" font-size="13.24">r</text>
<text transform="translate(538.77 231.10) scale(1.227 0.982)" font-size="13.24">r</text>
<text transform="translate(544.19 231.15) scale(0.861 0.989)" font-size="13.24">a</text>
<text transform="translate(552.03 231.04) scale(1.028 0.968)" font-size="13.24">y</text>
<text transform="translate(563.30 231.10) scale(0.965 1.000)" font-size="13.24">A</text>
<text transform="translate(572.18 231.10) scale(0.973 1.003)" font-size="13.24">2</text>
<text transform="translate(524.88 318.70) scale(0.960 1.000)" font-size="13.24">A</text>
<text transform="translate(533.51 318.70) scale(1.221 0.982)" font-size="13.24">r</text>
<text transform="translate(538.70 318.70) scale(1.221 0.982)" font-size="13.24">r</text>
<text transform="translate(544.10 318.75) scale(0.857 0.989)" font-size="13.24">a</text>
<text transform="translate(551.90 318.64) scale(1.024 0.968)" font-size="13.24">y</text>
<text transform="translate(563.12 318.70) scale(0.960 1.000)" font-size="13.24">A</text>
<text transform="translate(572.15 318.75) scale(0.965 1.008)" font-size="13.24">3</text>
<g transform="rotate(-90)">
<text transform="translate(-261.32 323.80) scale(0.936 1.000)" font-size="13.24">N</text>
<text transform="translate(-252.02 323.85) scale(1.007 0.989)" font-size="13.24">o</text>
<text transform="translate(-244.40 323.80) scale(1.213 0.982)" font-size="13.24">r</text>
<text transform="translate(-239.13 323.80) scale(1.079 0.982)" font-size="13.24">m</text>
<text transform="translate(-226.99 323.80) scale(1.025 1.095)" font-size="13.24">.</text>
<text transform="translate(-218.85 323.85) scale(0.852 0.989)" font-size="13.24">a</text>
<text transform="translate(-211.24 323.80) scale(1.079 0.982)" font-size="13.24">m</text>
<text transform="translate(-198.95 323.73) scale(1.030 0.973)" font-size="13.24">p</text>
<text transform="translate(-190.93 323.80) scale(0.968 0.990)" font-size="13.24">l</text>
<text transform="translate(-187.44 323.80) scale(0.968 0.990)" font-size="13.24">i</text>
<text transform="translate(-184.20 323.70) scale(1.266 1.013)" font-size="13.24">t</text>
<text transform="translate(-179.18 323.85) scale(1.021 1.007)" font-size="13.24">u</text>
<text transform="translate(-171.29 323.85) scale(1.029 0.995)" font-size="13.24">d</text>
<text transform="translate(-163.33 323.85) scale(1.023 0.989)" font-size="13.24">e</text>
</g>
</g>
</svg>
</body></html>
